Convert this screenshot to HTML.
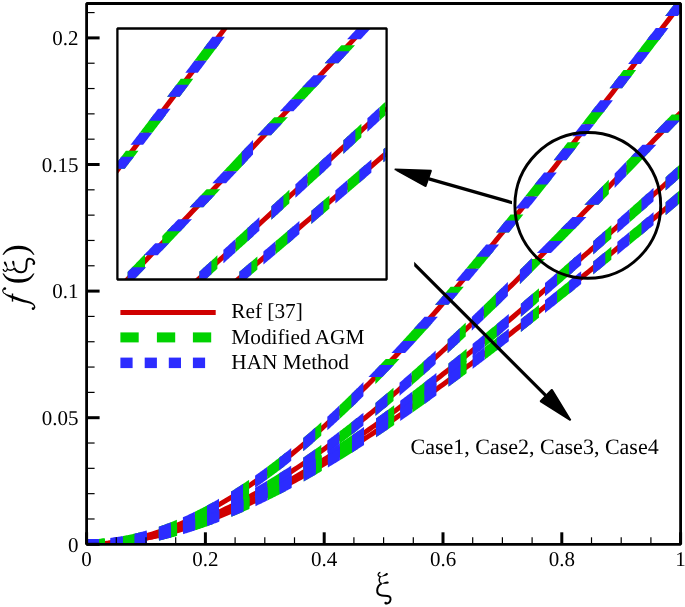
<!DOCTYPE html>
<html><head><meta charset="utf-8"><style>html,body{margin:0;padding:0;background:#fff;overflow:hidden;}svg{display:block;}</style></head>
<body>
<svg width="685" height="607" viewBox="0 0 685 607" text-rendering="geometricPrecision" style="will-change:transform">
<defs>
<clipPath id="cm"><rect x="86.6" y="3.5" width="594" height="540.8"/></clipPath>
<clipPath id="ci"><rect x="117.4" y="28.5" width="269.2" height="251"/></clipPath>
</defs>
<rect width="685" height="607" fill="#fff"/>
<g clip-path="url(#cm)">
<polyline points="86.6,544.3 89.57,544.28 92.54,544.21 95.51,544.1 98.48,543.95 101.45,543.76 104.42,543.52 107.4,543.24 110.37,542.91 113.34,542.55 116.31,542.14 119.28,541.7 122.25,541.21 125.22,540.68 128.19,540.11 131.16,539.5 134.13,538.85 137.1,538.16 140.07,537.43 143.04,536.67 146.01,535.86 148.99,535.01 151.96,534.13 154.93,533.21 157.9,532.25 160.87,531.25 163.84,530.22 166.81,529.15 169.78,528.04 172.75,526.9 175.72,525.72 178.69,524.5 181.66,523.25 184.63,521.96 187.61,520.64 190.58,519.28 193.55,517.89 196.52,516.46 199.49,515 202.46,513.51 205.43,511.98 208.4,510.42 211.37,508.82 214.34,507.19 217.31,505.53 220.28,503.84 223.25,502.12 226.22,500.36 229.2,498.57 232.17,496.76 235.14,494.91 238.11,493.03 241.08,491.12 244.05,489.17 247.02,487.2 249.99,485.2 252.96,483.17 255.93,481.11 258.9,479.02 261.87,476.91 264.84,474.76 267.82,472.59 270.79,470.38 273.76,468.15 276.73,465.9 279.7,463.61 282.67,461.3 285.64,458.96 288.61,456.6 291.58,454.21 294.55,451.79 297.52,449.35 300.49,446.88 303.46,444.39 306.43,441.87 309.41,439.33 312.38,436.76 315.35,434.17 318.32,431.55 321.29,428.91 324.26,426.25 327.23,423.56 330.2,420.85 333.17,418.12 336.14,415.37 339.11,412.59 342.08,409.79 345.05,406.97 348.03,404.13 351,401.26 353.97,398.38 356.94,395.47 359.91,392.55 362.88,389.6 365.85,386.63 368.82,383.65 371.79,380.64 374.76,377.61 377.73,374.57 380.7,371.5 383.67,368.42 386.65,365.32 389.62,362.2 392.59,359.06 395.56,355.91 398.53,352.73 401.5,349.54 404.47,346.34 407.44,343.11 410.41,339.87 413.38,336.61 416.35,333.34 419.32,330.05 422.29,326.74 425.26,323.42 428.24,320.09 431.21,316.73 434.18,313.37 437.15,309.99 440.12,306.59 443.09,303.18 446.06,299.76 449.03,296.32 452,292.87 454.97,289.41 457.94,285.93 460.91,282.44 463.88,278.94 466.86,275.43 469.83,271.9 472.8,268.36 475.77,264.81 478.74,261.25 481.71,257.68 484.68,254.1 487.65,250.5 490.62,246.9 493.59,243.28 496.56,239.66 499.53,236.02 502.5,232.38 505.47,228.72 508.45,225.06 511.42,221.39 514.39,217.7 517.36,214.01 520.33,210.32 523.3,206.61 526.27,202.89 529.24,199.17 532.21,195.44 535.18,191.71 538.15,187.96 541.12,184.21 544.09,180.45 547.07,176.69 550.04,172.92 553.01,169.14 555.98,165.36 558.95,161.57 561.92,157.78 564.89,153.98 567.86,150.18 570.83,146.37 573.8,142.55 576.77,138.74 579.74,134.92 582.71,131.09 585.68,127.26 588.66,123.43 591.63,119.59 594.6,115.75 597.57,111.91 600.54,108.07 603.51,104.22 606.48,100.37 609.45,96.52 612.42,92.66 615.39,88.81 618.36,84.95 621.33,81.1 624.3,77.24 627.28,73.38 630.25,69.52 633.22,65.65 636.19,61.79 639.16,57.93 642.13,54.07 645.1,50.21 648.07,46.35 651.04,42.49 654.01,38.63 656.98,34.77 659.95,30.92 662.92,27.06 665.89,23.21 668.87,19.36 671.84,15.51 674.81,11.66 677.78,7.81 680.6,4.16" fill="none" stroke="#d00000" stroke-width="5"/>
<polyline points="86.6,544.3 89.57,544.28 92.54,544.23 95.51,544.14 98.48,544.01 101.45,543.85 104.42,543.66 107.4,543.43 110.37,543.17 113.34,542.87 116.31,542.54 119.28,542.17 122.25,541.78 125.22,541.34 128.19,540.88 131.16,540.38 134.13,539.85 137.1,539.29 140.07,538.7 143.04,538.07 146.01,537.42 148.99,536.73 151.96,536.01 154.93,535.26 157.9,534.48 160.87,533.67 163.84,532.83 166.81,531.96 169.78,531.06 172.75,530.13 175.72,529.17 178.69,528.18 181.66,527.17 184.63,526.12 187.61,525.05 190.58,523.95 193.55,522.82 196.52,521.66 199.49,520.48 202.46,519.27 205.43,518.03 208.4,516.77 211.37,515.47 214.34,514.16 217.31,512.81 220.28,511.44 223.25,510.05 226.22,508.63 229.2,507.18 232.17,505.71 235.14,504.22 238.11,502.7 241.08,501.16 244.05,499.59 247.02,498 249.99,496.38 252.96,494.74 255.93,493.08 258.9,491.4 261.87,489.69 264.84,487.96 267.82,486.21 270.79,484.43 273.76,482.64 276.73,480.82 279.7,478.98 282.67,477.12 285.64,475.23 288.61,473.33 291.58,471.41 294.55,469.46 297.52,467.5 300.49,465.51 303.46,463.51 306.43,461.48 309.41,459.44 312.38,457.38 315.35,455.3 318.32,453.2 321.29,451.08 324.26,448.94 327.23,446.78 330.2,444.61 333.17,442.42 336.14,440.21 339.11,437.98 342.08,435.73 345.05,433.47 348.03,431.19 351,428.9 353.97,426.59 356.94,424.26 359.91,421.92 362.88,419.56 365.85,417.18 368.82,414.79 371.79,412.38 374.76,409.96 377.73,407.53 380.7,405.07 383.67,402.61 386.65,400.13 389.62,397.63 392.59,395.13 395.56,392.6 398.53,390.07 401.5,387.52 404.47,384.96 407.44,382.38 410.41,379.79 413.38,377.19 416.35,374.58 419.32,371.95 422.29,369.31 425.26,366.66 428.24,364 431.21,361.33 434.18,358.64 437.15,355.95 440.12,353.24 443.09,350.52 446.06,347.79 449.03,345.05 452,342.3 454.97,339.54 457.94,336.77 460.91,333.99 463.88,331.2 466.86,328.41 469.83,325.6 472.8,322.78 475.77,319.95 478.74,317.12 481.71,314.27 484.68,311.42 487.65,308.56 490.62,305.69 493.59,302.82 496.56,299.93 499.53,297.04 502.5,294.14 505.47,291.23 508.45,288.32 511.42,285.4 514.39,282.47 517.36,279.54 520.33,276.59 523.3,273.65 526.27,270.69 529.24,267.73 532.21,264.77 535.18,261.8 538.15,258.82 541.12,255.84 544.09,252.85 547.07,249.86 550.04,246.87 553.01,243.86 555.98,240.86 558.95,237.85 561.92,234.83 564.89,231.81 567.86,228.79 570.83,225.76 573.8,222.73 576.77,219.7 579.74,216.66 582.71,213.62 585.68,210.58 588.66,207.53 591.63,204.49 594.6,201.44 597.57,198.38 600.54,195.33 603.51,192.27 606.48,189.21 609.45,186.15 612.42,183.08 615.39,180.02 618.36,176.95 621.33,173.88 624.3,170.81 627.28,167.74 630.25,164.67 633.22,161.6 636.19,158.53 639.16,155.46 642.13,152.38 645.1,149.31 648.07,146.24 651.04,143.17 654.01,140.09 656.98,137.02 659.95,133.95 662.92,130.88 665.89,127.81 668.87,124.74 671.84,121.67 674.81,118.61 677.78,115.54 680.6,112.63" fill="none" stroke="#d00000" stroke-width="5"/>
<polyline points="86.6,544.3 89.57,544.28 92.54,544.23 95.51,544.15 98.48,544.04 101.45,543.89 104.42,543.71 107.4,543.51 110.37,543.27 113.34,542.99 116.31,542.69 119.28,542.36 122.25,542 125.22,541.6 128.19,541.18 131.16,540.73 134.13,540.25 137.1,539.74 140.07,539.2 143.04,538.63 146.01,538.04 148.99,537.41 151.96,536.76 154.93,536.09 157.9,535.38 160.87,534.65 163.84,533.89 166.81,533.1 169.78,532.29 172.75,531.45 175.72,530.59 178.69,529.7 181.66,528.78 184.63,527.84 187.61,526.88 190.58,525.89 193.55,524.88 196.52,523.84 199.49,522.78 202.46,521.69 205.43,520.58 208.4,519.45 211.37,518.3 214.34,517.12 217.31,515.92 220.28,514.7 223.25,513.45 226.22,512.18 229.2,510.89 232.17,509.58 235.14,508.25 238.11,506.9 241.08,505.53 244.05,504.13 247.02,502.72 249.99,501.29 252.96,499.83 255.93,498.36 258.9,496.86 261.87,495.35 264.84,493.82 267.82,492.27 270.79,490.7 273.76,489.11 276.73,487.5 279.7,485.88 282.67,484.23 285.64,482.57 288.61,480.9 291.58,479.2 294.55,477.49 297.52,475.76 300.49,474.01 303.46,472.25 306.43,470.47 309.41,468.67 312.38,466.86 315.35,465.04 318.32,463.19 321.29,461.34 324.26,459.46 327.23,457.57 330.2,455.67 333.17,453.75 336.14,451.82 339.11,449.87 342.08,447.91 345.05,445.94 348.03,443.95 351,441.95 353.97,439.93 356.94,437.9 359.91,435.86 362.88,433.81 365.85,431.74 368.82,429.66 371.79,427.57 374.76,425.46 377.73,423.35 380.7,421.22 383.67,419.08 386.65,416.93 389.62,414.77 392.59,412.59 395.56,410.41 398.53,408.21 401.5,406 404.47,403.79 407.44,401.56 410.41,399.32 413.38,397.07 416.35,394.82 419.32,392.55 422.29,390.27 425.26,387.99 428.24,385.69 431.21,383.39 434.18,381.07 437.15,378.75 440.12,376.42 443.09,374.08 446.06,371.73 449.03,369.37 452,367.01 454.97,364.64 457.94,362.26 460.91,359.87 463.88,357.47 466.86,355.07 469.83,352.66 472.8,350.24 475.77,347.82 478.74,345.38 481.71,342.95 484.68,340.5 487.65,338.05 490.62,335.59 493.59,333.13 496.56,330.66 499.53,328.19 502.5,325.7 505.47,323.22 508.45,320.72 511.42,318.23 514.39,315.72 517.36,313.21 520.33,310.7 523.3,308.18 526.27,305.66 529.24,303.13 532.21,300.6 535.18,298.06 538.15,295.52 541.12,292.98 544.09,290.43 547.07,287.87 550.04,285.31 553.01,282.75 555.98,280.19 558.95,277.62 561.92,275.05 564.89,272.47 567.86,269.89 570.83,267.31 573.8,264.73 576.77,262.14 579.74,259.55 582.71,256.96 585.68,254.36 588.66,251.76 591.63,249.16 594.6,246.56 597.57,243.95 600.54,241.34 603.51,238.74 606.48,236.12 609.45,233.51 612.42,230.9 615.39,228.28 618.36,225.66 621.33,223.04 624.3,220.42 627.28,217.8 630.25,215.17 633.22,212.55 636.19,209.92 639.16,207.29 642.13,204.67 645.1,202.04 648.07,199.41 651.04,196.78 654.01,194.15 656.98,191.52 659.95,188.88 662.92,186.25 665.89,183.62 668.87,180.99 671.84,178.35 674.81,175.72 677.78,173.09 680.6,170.59" fill="none" stroke="#d00000" stroke-width="5"/>
<polyline points="86.6,544.3 89.57,544.28 92.54,544.24 95.51,544.16 98.48,544.05 101.45,543.9 104.42,543.73 107.4,543.53 110.37,543.3 113.34,543.03 116.31,542.74 119.28,542.42 122.25,542.07 125.22,541.69 128.19,541.28 131.16,540.84 134.13,540.38 137.1,539.89 140.07,539.37 143.04,538.82 146.01,538.25 148.99,537.65 151.96,537.02 154.93,536.37 157.9,535.69 160.87,534.99 163.84,534.26 166.81,533.5 169.78,532.72 172.75,531.92 175.72,531.09 178.69,530.24 181.66,529.36 184.63,528.46 187.61,527.54 190.58,526.6 193.55,525.63 196.52,524.64 199.49,523.62 202.46,522.59 205.43,521.53 208.4,520.45 211.37,519.35 214.34,518.23 217.31,517.08 220.28,515.92 223.25,514.74 226.22,513.53 229.2,512.31 232.17,511.06 235.14,509.8 238.11,508.51 241.08,507.21 244.05,505.89 247.02,504.55 249.99,503.19 252.96,501.82 255.93,500.42 258.9,499.01 261.87,497.58 264.84,496.13 267.82,494.66 270.79,493.18 273.76,491.68 276.73,490.17 279.7,488.63 282.67,487.09 285.64,485.52 288.61,483.94 291.58,482.35 294.55,480.74 297.52,479.11 300.49,477.47 303.46,475.81 306.43,474.14 309.41,472.45 312.38,470.76 315.35,469.04 318.32,467.31 321.29,465.57 324.26,463.82 327.23,462.05 330.2,460.27 333.17,458.47 336.14,456.67 339.11,454.85 342.08,453.01 345.05,451.17 348.03,449.31 351,447.44 353.97,445.56 356.94,443.67 359.91,441.77 362.88,439.85 365.85,437.92 368.82,435.99 371.79,434.04 374.76,432.08 377.73,430.11 380.7,428.13 383.67,426.14 386.65,424.14 389.62,422.13 392.59,420.11 395.56,418.08 398.53,416.04 401.5,414 404.47,411.94 407.44,409.87 410.41,407.8 413.38,405.72 416.35,403.62 419.32,401.52 422.29,399.41 425.26,397.3 428.24,395.17 431.21,393.04 434.18,390.9 437.15,388.75 440.12,386.59 443.09,384.43 446.06,382.26 449.03,380.08 452,377.9 454.97,375.7 457.94,373.5 460.91,371.3 463.88,369.09 466.86,366.87 469.83,364.64 472.8,362.41 475.77,360.18 478.74,357.93 481.71,355.69 484.68,353.43 487.65,351.17 490.62,348.9 493.59,346.63 496.56,344.36 499.53,342.08 502.5,339.79 505.47,337.5 508.45,335.2 511.42,332.9 514.39,330.59 517.36,328.28 520.33,325.96 523.3,323.64 526.27,321.32 529.24,318.99 532.21,316.66 535.18,314.32 538.15,311.98 541.12,309.63 544.09,307.28 547.07,304.93 550.04,302.57 553.01,300.21 555.98,297.85 558.95,295.48 561.92,293.11 564.89,290.73 567.86,288.35 570.83,285.97 573.8,283.59 576.77,281.2 579.74,278.81 582.71,276.41 585.68,274.02 588.66,271.62 591.63,269.22 594.6,266.81 597.57,264.4 600.54,261.99 603.51,259.58 606.48,257.16 609.45,254.75 612.42,252.33 615.39,249.9 618.36,247.48 621.33,245.05 624.3,242.62 627.28,240.19 630.25,237.75 633.22,235.32 636.19,232.88 639.16,230.44 642.13,228 645.1,225.55 648.07,223.1 651.04,220.66 654.01,218.2 656.98,215.75 659.95,213.3 662.92,210.84 665.89,208.38 668.87,205.92 671.84,203.46 674.81,201 677.78,198.53 680.6,196.19" fill="none" stroke="#d00000" stroke-width="5"/>
<polygon points="86.6,539.3 87.19,539.3 87.79,539.3 88.38,539.29 88.98,539.29 89.57,539.28 90.16,539.27 90.76,539.26 91.35,539.24 91.95,539.23 92.54,539.21 93.14,539.19 93.73,539.17 94.32,539.15 94.92,539.12 95.51,539.1 96.11,539.07 96.7,539.04 97.29,539.01 97.89,538.98 98.48,538.94 99.08,538.91 99.67,538.87 100.27,538.83 100.86,538.79 101.45,538.74 102.05,538.7 102.64,538.65 103.24,538.6 103.83,538.55 104.42,538.5 104.65,538.48 104.65,548.52 104.42,548.54 103.83,548.59 103.24,548.63 102.64,548.68 102.05,548.73 101.45,548.77 100.86,548.81 100.27,548.85 99.67,548.89 99.08,548.92 98.48,548.96 97.89,548.99 97.29,549.02 96.7,549.05 96.11,549.08 95.51,549.11 94.92,549.13 94.32,549.16 93.73,549.18 93.14,549.2 92.54,549.21 91.95,549.23 91.35,549.25 90.76,549.26 90.16,549.27 89.57,549.28 88.98,549.29 88.38,549.29 87.79,549.3 87.19,549.3 86.6,549.3" fill="#00d200"/>
<polygon points="122.71,536.06 122.84,536.03 123.44,535.93 124.03,535.82 124.63,535.71 125.22,535.6 125.81,535.48 126.41,535.37 127,535.25 127.6,535.13 128.19,535.01 128.78,534.89 129.38,534.77 129.97,534.64 130.57,534.52 131.16,534.39 131.76,534.26 132.35,534.13 132.94,534 133.54,533.86 134.13,533.73 134.73,533.59 135.32,533.45 135.91,533.31 136.51,533.17 137.1,533.02 137.7,532.88 138.29,532.73 138.89,532.58 139.48,532.43 140.07,532.28 140.67,532.12 140.76,532.1 140.76,542.42 140.67,542.44 140.07,542.59 139.48,542.74 138.89,542.88 138.29,543.02 137.7,543.16 137.1,543.3 136.51,543.44 135.91,543.58 135.32,543.71 134.73,543.85 134.13,543.98 133.54,544.11 132.94,544.24 132.35,544.36 131.76,544.49 131.16,544.61 130.57,544.73 129.97,544.86 129.38,544.97 128.78,545.09 128.19,545.21 127.6,545.32 127,545.44 126.41,545.55 125.81,545.66 125.22,545.76 124.63,545.87 124.03,545.98 123.44,546.08 122.84,546.18 122.71,546.2" fill="#00d200"/>
<polygon points="158.82,526.68 159.09,526.58 159.68,526.38 160.27,526.18 160.87,525.97 161.46,525.76 162.06,525.55 162.65,525.34 163.25,525.13 163.84,524.91 164.43,524.7 165.03,524.48 165.62,524.26 166.22,524.04 166.81,523.82 167.4,523.6 168,523.38 168.59,523.15 169.19,522.92 169.78,522.69 170.37,522.46 170.97,522.23 171.56,522 172.16,521.76 172.75,521.53 173.35,521.29 173.94,521.05 174.53,520.81 175.13,520.57 175.72,520.32 176.32,520.08 176.87,519.85 176.87,530.65 176.32,530.87 175.72,531.11 175.13,531.34 174.53,531.57 173.94,531.81 173.35,532.04 172.75,532.27 172.16,532.49 171.56,532.72 170.97,532.94 170.37,533.17 169.78,533.39 169.19,533.61 168.59,533.83 168,534.04 167.4,534.26 166.81,534.47 166.22,534.69 165.62,534.9 165.03,535.11 164.43,535.32 163.84,535.52 163.25,535.73 162.65,535.93 162.06,536.14 161.46,536.34 160.87,536.54 160.27,536.74 159.68,536.93 159.09,537.13 158.82,537.22" fill="#00d200"/>
<polygon points="194.92,511.68 195.33,511.49 195.92,511.19 196.52,510.9 197.11,510.61 197.71,510.31 198.3,510.01 198.89,509.72 199.49,509.42 200.08,509.11 200.68,508.81 201.27,508.51 201.86,508.2 202.46,507.9 203.05,507.59 203.65,507.28 204.24,506.97 204.84,506.66 205.43,506.34 206.02,506.03 206.62,505.71 207.21,505.39 207.81,505.07 208.4,504.75 208.99,504.43 209.59,504.11 210.18,503.79 210.78,503.46 211.37,503.13 211.97,502.81 212.56,502.48 212.98,502.24 212.98,513.65 212.56,513.87 211.97,514.19 211.37,514.51 210.78,514.83 210.18,515.14 209.59,515.45 208.99,515.77 208.4,516.08 207.81,516.39 207.21,516.7 206.62,517 206.02,517.31 205.43,517.61 204.84,517.92 204.24,518.22 203.65,518.52 203.05,518.82 202.46,519.12 201.86,519.41 201.27,519.71 200.68,520 200.08,520.29 199.49,520.58 198.89,520.87 198.3,521.16 197.71,521.45 197.11,521.74 196.52,522.02 195.92,522.3 195.33,522.58 194.92,522.77" fill="#00d200"/>
<polygon points="231.03,491.59 231.57,491.25 232.17,490.88 232.76,490.51 233.35,490.13 233.95,489.76 234.54,489.38 235.14,489 235.73,488.62 236.33,488.24 236.92,487.86 237.51,487.48 238.11,487.09 238.7,486.71 239.3,486.32 239.89,485.94 240.48,485.55 241.08,485.16 241.67,484.76 242.27,484.37 242.86,483.98 243.46,483.58 244.05,483.19 244.64,482.79 245.24,482.39 245.83,481.99 246.43,481.59 247.02,481.19 247.61,480.78 248.21,480.38 248.8,479.97 249.09,479.78 249.09,491.85 248.8,492.04 248.21,492.43 247.61,492.82 247.02,493.22 246.43,493.61 245.83,494 245.24,494.39 244.64,494.77 244.05,495.16 243.46,495.55 242.86,495.93 242.27,496.31 241.67,496.69 241.08,497.07 240.48,497.45 239.89,497.83 239.3,498.21 238.7,498.58 238.11,498.96 237.51,499.33 236.92,499.7 236.33,500.07 235.73,500.44 235.14,500.81 234.54,501.18 233.95,501.54 233.35,501.91 232.76,502.27 232.17,502.63 231.57,502.99 231.03,503.32" fill="#00d200"/>
<polygon points="267.14,466.88 267.22,466.82 267.82,466.38 268.41,465.93 269,465.49 269.6,465.04 270.19,464.59 270.79,464.15 271.38,463.7 271.97,463.25 272.57,462.8 273.16,462.34 273.76,461.89 274.35,461.43 274.95,460.98 275.54,460.52 276.13,460.06 276.73,459.6 277.32,459.14 277.92,458.68 278.51,458.22 279.1,457.76 279.7,457.29 280.29,456.83 280.89,456.36 281.48,455.89 282.07,455.42 282.67,454.95 283.26,454.48 283.86,454.01 284.45,453.54 285.05,453.06 285.2,452.94 285.2,465.69 285.05,465.8 284.45,466.27 283.86,466.73 283.26,467.19 282.67,467.65 282.07,468.11 281.48,468.57 280.89,469.02 280.29,469.48 279.7,469.93 279.1,470.39 278.51,470.84 277.92,471.29 277.32,471.74 276.73,472.19 276.13,472.64 275.54,473.09 274.95,473.53 274.35,473.98 273.76,474.42 273.16,474.86 272.57,475.3 271.97,475.74 271.38,476.18 270.79,476.62 270.19,477.06 269.6,477.49 269,477.93 268.41,478.36 267.82,478.8 267.22,479.23 267.14,479.29" fill="#00d200"/>
<polygon points="303.25,438.03 303.46,437.85 304.06,437.34 304.65,436.83 305.25,436.32 305.84,435.81 306.43,435.3 307.03,434.79 307.62,434.28 308.22,433.76 308.81,433.25 309.41,432.73 310,432.22 310.59,431.7 311.19,431.18 311.78,430.66 312.38,430.14 312.97,429.62 313.56,429.09 314.16,428.57 314.75,428.05 315.35,427.52 315.94,426.99 316.54,426.47 317.13,425.94 317.72,425.41 318.32,424.88 318.91,424.35 319.51,423.81 320.1,423.28 320.69,422.75 321.29,422.21 321.3,422.2 321.3,435.6 321.29,435.61 320.69,436.14 320.1,436.66 319.51,437.19 318.91,437.71 318.32,438.23 317.72,438.75 317.13,439.27 316.54,439.78 315.94,440.3 315.35,440.82 314.75,441.33 314.16,441.85 313.56,442.36 312.97,442.87 312.38,443.38 311.78,443.89 311.19,444.4 310.59,444.91 310,445.42 309.41,445.92 308.81,446.43 308.22,446.93 307.62,447.43 307.03,447.94 306.43,448.44 305.84,448.94 305.25,449.44 304.65,449.94 304.06,450.43 303.46,450.93 303.25,451.11" fill="#00d200"/>
<polygon points="339.36,405.5 339.71,405.17 340.3,404.61 340.9,404.04 341.49,403.48 342.08,402.91 342.68,402.34 343.27,401.77 343.87,401.2 344.46,400.63 345.05,400.06 345.65,399.49 346.24,398.92 346.84,398.35 347.43,397.77 348.03,397.2 348.62,396.62 349.21,396.04 349.81,395.47 350.4,394.89 351,394.31 351.59,393.73 352.18,393.15 352.78,392.56 353.37,391.98 353.97,391.4 354.56,390.81 355.16,390.23 355.75,389.64 356.34,389.06 356.94,388.47 357.41,388 357.41,402.02 356.94,402.48 356.34,403.06 355.75,403.64 355.16,404.21 354.56,404.79 353.97,405.36 353.37,405.94 352.78,406.51 352.18,407.08 351.59,407.65 351,408.22 350.4,408.79 349.81,409.36 349.21,409.93 348.62,410.49 348.03,411.06 347.43,411.63 346.84,412.19 346.24,412.75 345.65,413.32 345.05,413.88 344.46,414.44 343.87,415 343.27,415.56 342.68,416.12 342.08,416.67 341.49,417.23 340.9,417.79 340.3,418.34 339.71,418.89 339.36,419.22" fill="#00d200"/>
<polygon points="375.35,369.86 375.36,369.85 375.95,369.24 376.54,368.63 370.16,375.18 370.76,374.57 371.36,373.96 371.96,373.35 372.55,372.73 373.15,372.12 373.75,371.5 374.35,370.89 374.95,370.27 375.54,369.66 376.14,369.04 376.74,368.42 377.34,367.8 377.94,367.18 378.54,366.56 379.13,365.94 379.73,365.32 380.33,364.7 380.93,364.07 381.53,363.45 382.12,362.83 382.72,362.2 383.32,361.57 383.92,360.95 384.51,360.32 385.11,359.69 385.71,359.06 385.8,358.96 399.56,358.96 399.46,359.06 398.87,359.69 398.28,360.32 397.69,360.95 397.1,361.57 396.51,362.2 395.92,362.83 395.33,363.45 394.74,364.07 394.15,364.7 393.56,365.32 392.97,365.94 392.38,366.56 391.79,367.18 391.2,367.8 390.61,368.42 390.02,369.04 389.43,369.66 388.84,370.27 388.25,370.89 387.66,371.5 387.07,372.12 386.48,372.73 385.89,373.35 385.3,373.96 384.71,374.57 384.12,375.18 376.54,382.95 375.95,383.56 375.36,384.16 375.35,384.17" fill="#00d200"/>
<polygon points="402.68,340.91 403.04,340.52 403.64,339.87 404.23,339.22 404.83,338.57 405.43,337.92 406.03,337.26 406.62,336.61 407.22,335.96 407.82,335.3 408.41,334.65 409.01,333.99 409.61,333.34 410.21,332.68 410.8,332.02 411.4,331.37 412,330.71 412.59,330.05 413.19,329.39 413.79,328.73 414.38,328.07 414.98,327.4 415.58,326.74 416.18,326.08 416.77,325.42 417.37,324.75 417.97,324.09 418.56,323.42 419.07,322.86 432.47,322.86 431.97,323.42 431.37,324.09 430.78,324.75 430.19,325.42 429.6,326.08 429.01,326.74 428.42,327.4 427.83,328.07 427.24,328.73 426.64,329.39 426.05,330.05 425.46,330.71 424.87,331.37 424.28,332.02 423.69,332.68 423.1,333.34 422.51,333.99 421.91,334.65 421.32,335.3 420.73,335.96 420.14,336.61 419.55,337.26 418.96,337.92 418.37,338.57 417.78,339.22 417.19,339.87 416.59,340.52 416.24,340.91" fill="#00d200"/>
<polygon points="435.05,304.8 435.27,304.55 435.87,303.87 436.46,303.18 437.06,302.5 437.66,301.82 438.25,301.13 438.85,300.45 439.45,299.76 440.04,299.07 440.64,298.39 441.23,297.7 441.83,297.01 442.43,296.32 443.02,295.63 443.62,294.94 444.22,294.25 444.81,293.56 445.41,292.87 446.01,292.18 446.6,291.49 447.2,290.8 447.79,290.1 448.39,289.41 448.99,288.71 449.58,288.02 450.18,287.32 450.67,286.75 463.82,286.75 463.33,287.32 462.74,288.02 462.15,288.71 461.55,289.41 460.96,290.1 460.37,290.8 459.78,291.49 459.19,292.18 458.59,292.87 458,293.56 457.41,294.25 456.82,294.94 456.23,295.63 455.63,296.32 455.04,297.01 454.45,297.7 453.86,298.39 453.27,299.07 452.67,299.76 452.08,300.45 451.49,301.13 450.9,301.82 450.31,302.5 449.72,303.18 449.12,303.87 448.53,304.55 448.31,304.8" fill="#00d200"/>
<polygon points="465.99,268.69 466.27,268.36 466.87,267.65 467.46,266.94 468.06,266.23 468.66,265.52 469.25,264.81 469.85,264.1 470.44,263.39 471.04,262.68 471.64,261.97 472.23,261.25 472.83,260.54 473.42,259.82 474.02,259.11 474.61,258.39 475.21,257.68 475.81,256.96 476.4,256.25 477,255.53 477.59,254.81 478.19,254.1 478.78,253.38 479.38,252.66 479.98,251.94 480.57,251.22 481.05,250.64 494.02,250.64 493.54,251.22 492.95,251.94 492.36,252.66 491.76,253.38 491.17,254.1 490.58,254.81 489.99,255.53 489.39,256.25 488.8,256.96 488.21,257.68 487.62,258.39 487.02,259.11 486.43,259.82 485.84,260.54 485.25,261.25 484.65,261.97 484.06,262.68 483.47,263.39 482.88,264.1 482.28,264.81 481.69,265.52 481.1,266.23 480.51,266.94 479.91,267.65 479.32,268.36 479.05,268.69" fill="#00d200"/>
<polygon points="495.89,232.58 496.06,232.38 496.65,231.65 497.25,230.92 497.84,230.18 498.44,229.45 499.03,228.72 499.63,227.99 500.23,227.26 500.82,226.52 501.42,225.79 502.01,225.06 502.61,224.32 503.2,223.59 503.8,222.86 504.39,222.12 504.99,221.39 505.58,220.65 506.18,219.91 506.77,219.18 507.37,218.44 507.97,217.7 508.56,216.97 509.16,216.23 509.75,215.49 510.35,214.75 510.53,214.53 523.36,214.53 523.18,214.75 522.59,215.49 521.99,216.23 521.4,216.97 520.81,217.7 520.22,218.44 519.62,219.18 519.03,219.91 518.44,220.65 517.84,221.39 517.25,222.12 516.66,222.86 516.07,223.59 515.47,224.32 514.88,225.06 514.29,225.79 513.69,226.52 513.1,227.26 512.51,227.99 511.92,228.72 511.32,229.45 510.73,230.18 510.14,230.92 509.54,231.65 508.95,232.38 508.78,232.58" fill="#00d200"/>
<polygon points="525,196.48 525.23,196.19 525.82,195.44 526.42,194.7 527.01,193.95 527.61,193.2 528.2,192.45 528.8,191.71 529.39,190.96 529.99,190.21 530.58,189.46 531.18,188.71 531.77,187.96 532.37,187.21 532.96,186.46 533.56,185.71 534.15,184.96 534.75,184.21 535.34,183.46 535.94,182.71 536.53,181.96 537.13,181.2 537.72,180.45 538.32,179.7 538.91,178.95 539.33,178.42 552.07,178.42 551.65,178.95 551.06,179.7 550.47,180.45 549.87,181.2 549.28,181.96 548.69,182.71 548.09,183.46 547.5,184.21 546.91,184.96 546.31,185.71 545.72,186.46 545.13,187.21 544.53,187.96 543.94,188.71 543.35,189.46 542.75,190.21 542.16,190.96 541.57,191.71 540.97,192.45 540.38,193.2 539.79,193.95 539.19,194.7 538.6,195.44 538.01,196.19 537.78,196.48" fill="#00d200"/>
<polygon points="553.54,160.37 553.79,160.05 554.38,159.3 554.97,158.54 555.57,157.78 556.16,157.02 556.76,156.26 557.35,155.5 557.95,154.74 558.54,153.98 559.14,153.22 559.73,152.46 560.33,151.7 560.92,150.94 561.52,150.18 562.11,149.41 562.71,148.65 563.3,147.89 563.9,147.13 564.49,146.37 565.09,145.6 565.68,144.84 566.28,144.08 566.87,143.32 567.46,142.55 567.65,142.31 580.33,142.31 580.14,142.55 579.55,143.32 578.95,144.08 578.36,144.84 577.76,145.6 577.17,146.37 576.58,147.13 575.98,147.89 575.39,148.65 574.8,149.41 574.2,150.18 573.61,150.94 573.02,151.7 572.42,152.46 571.83,153.22 571.24,153.98 570.64,154.74 570.05,155.5 569.45,156.26 568.86,157.02 568.27,157.78 567.67,158.54 567.08,159.3 566.49,160.05 566.24,160.37" fill="#00d200"/>
<polygon points="581.69,124.26 581.74,124.2 582.33,123.43 582.92,122.66 583.52,121.89 584.11,121.13 584.71,120.36 585.3,119.59 585.9,118.82 586.49,118.06 587.09,117.29 587.68,116.52 588.28,115.75 588.87,114.99 589.46,114.22 590.06,113.45 590.65,112.68 591.25,111.91 591.84,111.14 592.44,110.37 593.03,109.6 593.63,108.84 594.22,108.07 594.82,107.3 595.41,106.53 595.66,106.21 608.29,106.21 608.04,106.53 607.45,107.3 606.86,108.07 606.26,108.84 605.67,109.6 605.07,110.37 604.48,111.14 603.89,111.91 603.29,112.68 602.7,113.45 602.11,114.22 601.51,114.99 600.92,115.75 600.32,116.52 599.73,117.29 599.14,118.06 598.54,118.82 597.95,119.59 597.36,120.36 596.76,121.13 596.17,121.89 595.57,122.66 594.98,123.43 594.39,124.2 594.34,124.26" fill="#00d200"/>
<polygon points="609.59,88.15 609.67,88.04 610.27,87.27 610.86,86.5 611.46,85.72 612.05,84.95 612.65,84.18 613.24,83.41 613.83,82.64 614.43,81.87 615.02,81.1 615.62,80.32 616.21,79.55 616.81,78.78 617.4,78.01 617.99,77.24 618.59,76.46 619.18,75.69 619.78,74.92 620.37,74.15 620.97,73.38 621.56,72.6 622.15,71.83 622.75,71.06 623.34,70.29 623.49,70.1 636.11,70.1 635.96,70.29 635.37,71.06 634.77,71.83 634.18,72.6 633.58,73.38 632.99,74.15 632.4,74.92 631.8,75.69 631.21,76.46 630.61,77.24 630.02,78.01 629.43,78.78 628.83,79.55 628.24,80.32 627.64,81.1 627.05,81.87 626.46,82.64 625.86,83.41 625.27,84.18 624.67,84.95 624.08,85.72 623.49,86.5 622.89,87.27 622.3,88.04 622.21,88.15" fill="#00d200"/>
<polygon points="637.38,52.04 637.6,51.75 638.2,50.98 638.79,50.21 639.38,49.44 639.98,48.66 640.57,47.89 641.17,47.12 641.76,46.35 642.36,45.58 642.95,44.8 643.54,44.03 644.14,43.26 644.73,42.49 645.33,41.72 645.92,40.94 646.51,40.17 647.11,39.4 647.7,38.63 648.3,37.86 648.89,37.09 649.48,36.31 650.08,35.54 650.67,34.77 651.27,34 651.27,33.99 663.9,33.99 663.89,34 663.29,34.77 662.7,35.54 662.11,36.31 661.51,37.09 660.92,37.86 660.32,38.63 659.73,39.4 659.13,40.17 658.54,40.94 657.95,41.72 657.35,42.49 656.76,43.26 656.16,44.03 655.57,44.8 654.97,45.58 654.38,46.35 653.79,47.12 653.19,47.89 652.6,48.66 652,49.44 651.41,50.21 650.81,50.98 650.22,51.75 650,52.04" fill="#00d200"/>
<polygon points="665.19,15.93 665.52,15.51 666.11,14.74 666.71,13.97 667.3,13.2 667.9,12.43 668.49,11.66 669.08,10.89 669.68,10.12 670.27,9.35 670.86,8.58 671.46,7.81 672.05,7.05 672.65,6.28 673.24,5.51 673.83,4.74 686.48,4.74 685.88,5.51 685.29,6.28 684.69,7.05 684.1,7.81 683.5,8.58 682.91,9.35 682.31,10.12 681.72,10.89 681.13,11.66 680.53,12.43 679.94,13.2 679.34,13.97 678.75,14.74 678.15,15.51 677.82,15.93" fill="#00d200"/>
<polygon points="86.6,539.3 87.19,539.3 87.79,539.3 88.38,539.29 88.98,539.29 89.57,539.28 90.16,539.27 90.76,539.26 91.35,539.25 91.95,539.24 92.54,539.23 93.14,539.21 93.73,539.19 94.32,539.18 94.92,539.16 95.51,539.14 96.11,539.11 96.7,539.09 97.29,539.06 97.89,539.04 98.48,539.01 99.08,538.98 99.67,538.95 100.27,538.92 100.86,538.88 101.45,538.85 102.05,538.81 102.64,538.77 103.24,538.73 103.83,538.69 104.42,538.65 104.65,538.63 104.65,548.66 104.42,548.67 103.83,548.71 103.24,548.75 102.64,548.79 102.05,548.83 101.45,548.86 100.86,548.9 100.27,548.93 99.67,548.96 99.08,548.99 98.48,549.02 97.89,549.05 97.29,549.07 96.7,549.1 96.11,549.12 95.51,549.14 94.92,549.16 94.32,549.18 93.73,549.2 93.14,549.22 92.54,549.23 91.95,549.24 91.35,549.25 90.76,549.27 90.16,549.27 89.57,549.28 88.98,549.29 88.38,549.29 87.79,549.3 87.19,549.3 86.6,549.3" fill="#00d200"/>
<polygon points="122.71,536.66 122.84,536.64 123.44,536.56 124.03,536.47 124.63,536.38 125.22,536.29 125.81,536.2 126.41,536.1 127,536.01 127.6,535.91 128.19,535.82 128.78,535.72 129.38,535.62 129.97,535.52 130.57,535.41 131.16,535.31 131.76,535.2 132.35,535.1 132.94,534.99 133.54,534.88 134.13,534.77 134.73,534.66 135.32,534.55 135.91,534.43 136.51,534.32 137.1,534.2 137.7,534.08 138.29,533.96 138.89,533.84 139.48,533.72 140.07,533.6 140.67,533.47 140.76,533.45 140.76,543.66 140.67,543.68 140.07,543.8 139.48,543.92 138.89,544.04 138.29,544.16 137.7,544.27 137.1,544.39 136.51,544.5 135.91,544.61 135.32,544.72 134.73,544.83 134.13,544.94 133.54,545.04 132.94,545.15 132.35,545.25 131.76,545.36 131.16,545.46 130.57,545.56 129.97,545.66 129.38,545.75 128.78,545.85 128.19,545.95 127.6,546.04 127,546.13 126.41,546.22 125.81,546.31 125.22,546.4 124.63,546.49 124.03,546.57 123.44,546.66 122.84,546.74 122.71,546.76" fill="#00d200"/>
<polygon points="158.82,529.05 159.09,528.98 159.68,528.81 160.27,528.65 160.87,528.48 161.46,528.31 162.06,528.14 162.65,527.97 163.25,527.8 163.84,527.63 164.43,527.45 165.03,527.28 165.62,527.1 166.22,526.92 166.81,526.74 167.4,526.56 168,526.38 168.59,526.2 169.19,526.01 169.78,525.83 170.37,525.64 170.97,525.45 171.56,525.26 172.16,525.07 172.75,524.88 173.35,524.69 173.94,524.5 174.53,524.3 175.13,524.11 175.72,523.91 176.32,523.71 176.87,523.52 176.87,534.06 176.32,534.24 175.72,534.43 175.13,534.62 174.53,534.81 173.94,535 173.35,535.19 172.75,535.38 172.16,535.56 171.56,535.75 170.97,535.93 170.37,536.11 169.78,536.29 169.19,536.47 168.59,536.65 168,536.83 167.4,537 166.81,537.18 166.22,537.35 165.62,537.52 165.03,537.69 164.43,537.86 163.84,538.03 163.25,538.2 162.65,538.37 162.06,538.53 161.46,538.7 160.87,538.86 160.27,539.02 159.68,539.18 159.09,539.34 158.82,539.41" fill="#00d200"/>
<polygon points="194.92,516.92 195.33,516.76 195.92,516.53 196.52,516.29 197.11,516.05 197.71,515.81 198.3,515.57 198.89,515.33 199.49,515.09 200.08,514.84 200.68,514.6 201.27,514.35 201.86,514.11 202.46,513.86 203.05,513.61 203.65,513.36 204.24,513.11 204.84,512.86 205.43,512.6 206.02,512.35 206.62,512.09 207.21,511.84 207.81,511.58 208.4,511.32 208.99,511.06 209.59,510.8 210.18,510.54 210.78,510.28 211.37,510.01 211.97,509.75 212.56,509.48 212.98,509.29 212.98,520.23 212.56,520.42 211.97,520.68 211.37,520.93 210.78,521.19 210.18,521.45 209.59,521.7 208.99,521.96 208.4,522.21 207.81,522.46 207.21,522.71 206.62,522.96 206.02,523.21 205.43,523.46 204.84,523.7 204.24,523.95 203.65,524.19 203.05,524.43 202.46,524.68 201.86,524.92 201.27,525.16 200.68,525.4 200.08,525.63 199.49,525.87 198.89,526.11 198.3,526.34 197.71,526.57 197.11,526.81 196.52,527.04 195.92,527.27 195.33,527.5 194.92,527.65" fill="#00d200"/>
<polygon points="231.03,500.7 231.57,500.43 232.17,500.13 232.76,499.83 233.35,499.52 233.95,499.22 234.54,498.92 235.14,498.61 235.73,498.31 236.33,498 236.92,497.69 237.51,497.38 238.11,497.07 238.7,496.76 239.3,496.45 239.89,496.14 240.48,495.83 241.08,495.51 241.67,495.2 242.27,494.88 242.86,494.56 243.46,494.25 244.05,493.93 244.64,493.61 245.24,493.28 245.83,492.96 246.43,492.64 247.02,492.32 247.61,491.99 248.21,491.66 248.8,491.34 249.09,491.18 249.09,502.57 248.8,502.72 248.21,503.04 247.61,503.36 247.02,503.68 246.43,504 245.83,504.31 245.24,504.63 244.64,504.94 244.05,505.25 243.46,505.56 242.86,505.87 242.27,506.18 241.67,506.49 241.08,506.8 240.48,507.11 239.89,507.41 239.3,507.72 238.7,508.02 238.11,508.33 237.51,508.63 236.92,508.93 236.33,509.23 235.73,509.53 235.14,509.83 234.54,510.12 233.95,510.42 233.35,510.71 232.76,511.01 232.17,511.3 231.57,511.59 231.03,511.86" fill="#00d200"/>
<polygon points="267.14,480.8 267.22,480.75 267.82,480.39 268.41,480.04 269,479.68 269.6,479.32 270.19,478.96 270.79,478.6 271.38,478.24 271.97,477.87 272.57,477.51 273.16,477.15 273.76,476.78 274.35,476.42 274.95,476.05 275.54,475.68 276.13,475.31 276.73,474.95 277.32,474.58 277.92,474.2 278.51,473.83 279.1,473.46 279.7,473.09 280.29,472.71 280.89,472.34 281.48,471.96 282.07,471.58 282.67,471.21 283.26,470.83 283.86,470.45 284.45,470.07 285.05,469.69 285.2,469.59 285.2,481.44 285.05,481.54 284.45,481.91 283.86,482.28 283.26,482.66 282.67,483.03 282.07,483.4 281.48,483.77 280.89,484.13 280.29,484.5 279.7,484.87 279.1,485.23 278.51,485.6 277.92,485.96 277.32,486.33 276.73,486.69 276.13,487.05 275.54,487.41 274.95,487.77 274.35,488.13 273.76,488.49 273.16,488.85 272.57,489.2 271.97,489.56 271.38,489.91 270.79,490.27 270.19,490.62 269.6,490.97 269,491.32 268.41,491.67 267.82,492.02 267.22,492.37 267.14,492.42" fill="#00d200"/>
<polygon points="303.25,457.61 303.46,457.47 304.06,457.06 304.65,456.65 305.25,456.24 305.84,455.84 306.43,455.43 307.03,455.01 307.62,454.6 308.22,454.19 308.81,453.78 309.41,453.36 310,452.95 310.59,452.53 311.19,452.12 311.78,451.7 312.38,451.28 312.97,450.86 313.56,450.44 314.16,450.02 314.75,449.6 315.35,449.18 315.94,448.76 316.54,448.34 317.13,447.91 317.72,447.49 318.32,447.06 318.91,446.64 319.51,446.21 320.1,445.78 320.69,445.35 321.29,444.93 321.3,444.91 321.3,457.22 321.29,457.23 320.69,457.65 320.1,458.07 319.51,458.49 318.91,458.91 318.32,459.33 317.72,459.75 317.13,460.16 316.54,460.58 315.94,461 315.35,461.41 314.75,461.83 314.16,462.24 313.56,462.65 312.97,463.06 312.38,463.47 311.78,463.89 311.19,464.29 310.59,464.7 310,465.11 309.41,465.52 308.81,465.93 308.22,466.33 307.62,466.74 307.03,467.14 306.43,467.54 305.84,467.95 305.25,468.35 304.65,468.75 304.06,469.15 303.46,469.55 303.25,469.69" fill="#00d200"/>
<polygon points="339.36,431.53 339.71,431.27 340.3,430.82 340.9,430.37 341.49,429.91 342.08,429.46 342.68,429 343.27,428.55 343.87,428.09 344.46,427.64 345.05,427.18 345.65,426.72 346.24,426.26 346.84,425.8 347.43,425.35 348.03,424.88 348.62,424.42 349.21,423.96 349.81,423.5 350.4,423.04 351,422.57 351.59,422.11 352.18,421.64 352.78,421.18 353.37,420.71 353.97,420.24 354.56,419.78 355.16,419.31 355.75,418.84 356.34,418.37 356.94,417.9 357.41,417.52 357.41,430.25 356.94,430.62 356.34,431.08 355.75,431.55 355.16,432.01 354.56,432.47 353.97,432.93 353.37,433.39 352.78,433.85 352.18,434.31 351.59,434.77 351,435.23 350.4,435.68 349.81,436.14 349.21,436.6 348.62,437.05 348.03,437.5 347.43,437.96 346.84,438.41 346.24,438.86 345.65,439.31 345.05,439.77 344.46,440.22 343.87,440.67 343.27,441.11 342.68,441.56 342.08,442.01 341.49,442.46 340.9,442.9 340.3,443.35 339.71,443.79 339.36,444.05" fill="#00d200"/>
<polygon points="375.47,402.92 375.95,402.52 376.54,402.03 377.14,401.54 377.73,401.05 378.33,400.56 378.92,400.07 379.52,399.57 380.11,399.08 380.7,398.58 381.3,398.09 381.89,397.59 382.49,397.1 383.08,396.6 383.67,396.1 384.27,395.6 384.86,395.11 385.46,394.61 386.05,394.11 386.65,393.61 387.24,393.11 387.83,392.61 388.43,392.1 389.02,391.6 389.62,391.1 390.21,390.59 390.8,390.09 391.4,389.59 391.99,389.08 392.59,388.57 393.18,388.07 393.52,387.78 393.52,400.89 393.18,401.18 392.59,401.68 391.99,402.18 391.4,402.68 390.8,403.17 390.21,403.67 389.62,404.17 389.02,404.67 388.43,405.16 387.83,405.66 387.24,406.15 386.65,406.65 386.05,407.14 385.46,407.64 384.86,408.13 384.27,408.62 383.67,409.11 383.08,409.61 382.49,410.1 381.89,410.59 381.3,411.08 380.7,411.56 380.11,412.05 379.52,412.54 378.92,413.03 378.33,413.51 377.73,414 377.14,414.49 376.54,414.97 375.95,415.45 375.47,415.85" fill="#00d200"/>
<polygon points="411.57,372.13 411.6,372.11 412.19,371.59 412.79,371.06 413.38,370.54 413.98,370.01 414.57,369.49 415.16,368.96 415.76,368.44 416.35,367.91 416.95,367.38 417.54,366.86 418.13,366.33 418.73,365.8 419.32,365.27 419.92,364.74 420.51,364.21 421.11,363.68 421.7,363.15 422.29,362.62 422.89,362.09 423.48,361.56 424.08,361.02 424.67,360.49 425.26,359.96 425.86,359.42 426.45,358.89 427.05,358.35 427.64,357.82 428.24,357.28 428.83,356.75 429.42,356.21 429.63,356.02 429.63,369.48 429.42,369.66 428.83,370.19 428.24,370.72 427.64,371.25 427.05,371.78 426.45,372.31 425.86,372.84 425.26,373.37 424.67,373.9 424.08,374.43 423.48,374.95 422.89,375.48 422.29,376.01 421.7,376.53 421.11,377.06 420.51,377.58 419.92,378.11 419.32,378.63 418.73,379.16 418.13,379.68 417.54,380.2 416.95,380.72 416.35,381.24 415.76,381.77 415.16,382.29 414.57,382.81 413.98,383.33 413.38,383.84 412.79,384.36 412.19,384.88 411.6,385.4 411.57,385.42" fill="#00d200"/>
<polygon points="447.68,339.5 447.84,339.35 448.44,338.8 449.03,338.25 449.62,337.69 450.22,337.14 450.81,336.59 451.41,336.04 452,335.48 452.6,334.93 453.19,334.38 453.78,333.82 454.38,333.27 454.97,332.71 455.57,332.16 456.16,331.6 456.75,331.05 457.35,330.49 457.94,329.93 458.54,329.37 459.13,328.82 459.73,328.26 460.32,327.7 460.91,327.14 461.51,326.58 462.1,326.02 462.7,325.46 463.29,324.9 463.88,324.34 464.48,323.78 465.07,323.22 465.67,322.66 465.74,322.59 465.74,336.33 465.67,336.4 465.07,336.95 464.48,337.51 463.88,338.07 463.29,338.63 462.7,339.18 462.1,339.74 461.51,340.29 460.91,340.85 460.32,341.4 459.73,341.96 459.13,342.51 458.54,343.06 457.94,343.62 457.35,344.17 456.75,344.72 456.16,345.27 455.57,345.82 454.97,346.37 454.38,346.92 453.78,347.47 453.19,348.02 452.6,348.57 452,349.12 451.41,349.67 450.81,350.22 450.22,350.77 449.62,351.31 449.03,351.86 448.44,352.41 447.84,352.95 447.68,353.1" fill="#00d200"/>
<polygon points="483.79,305.34 484.09,305.06 484.68,304.49 485.27,303.91 485.87,303.34 486.46,302.76 487.06,302.19 487.65,301.62 488.24,301.04 488.84,300.46 489.43,299.89 490.03,299.31 490.62,298.74 491.22,298.16 491.81,297.58 492.4,297.01 493,296.43 493.59,295.85 494.19,295.27 494.78,294.69 495.37,294.12 495.97,293.54 496.56,292.96 497.16,292.38 497.75,291.8 498.34,291.22 498.94,290.64 499.53,290.06 500.13,289.48 500.72,288.89 501.32,288.31 501.85,287.79 501.85,301.77 501.32,302.29 500.72,302.87 500.13,303.44 499.53,304.02 498.94,304.6 498.34,305.18 497.75,305.75 497.16,306.33 496.56,306.9 495.97,307.48 495.37,308.06 494.78,308.63 494.19,309.21 493.59,309.78 493,310.35 492.4,310.93 491.81,311.5 491.22,312.07 490.62,312.65 490.03,313.22 489.43,313.79 488.84,314.36 488.24,314.94 487.65,315.51 487.06,316.08 486.46,316.65 485.87,317.22 485.27,317.79 484.68,318.36 484.09,318.93 483.79,319.21" fill="#00d200"/>
<polygon points="519.9,269.98 520.33,269.55 520.92,268.96 521.52,268.37 522.11,267.78 522.71,267.19 523.3,266.6 523.89,266.01 524.49,265.42 525.08,264.82 525.68,264.23 526.27,263.64 526.86,263.05 527.46,262.45 528.05,261.86 528.65,261.27 529.24,260.67 529.83,260.08 530.43,259.49 531.02,258.89 531.62,258.3 525.14,264.77 525.73,264.18 526.33,263.58 526.92,262.99 527.52,262.39 528.11,261.8 528.71,261.2 529.31,260.61 529.9,260.01 530.5,259.42 530.89,259.03 545.01,259.03 544.62,259.42 544.03,260.01 543.44,260.61 542.84,261.2 542.25,261.8 541.66,262.39 541.06,262.99 540.47,263.58 539.88,264.18 539.29,264.77 531.62,272.43 531.02,273.02 530.43,273.61 529.83,274.2 529.24,274.8 528.65,275.39 528.05,275.98 527.46,276.57 526.86,277.16 526.27,277.75 525.68,278.34 525.08,278.93 524.49,279.52 523.89,280.11 523.3,280.69 522.71,281.28 522.11,281.87 521.52,282.46 520.92,283.05 520.33,283.63 519.9,284.06" fill="#00d200"/>
<polygon points="548.84,240.97 548.95,240.86 549.55,240.26 550.14,239.65 550.74,239.05 551.33,238.45 551.93,237.85 552.52,237.24 553.12,236.64 553.71,236.04 554.31,235.44 554.9,234.83 555.5,234.23 556.09,233.63 556.69,233.02 557.28,232.42 557.88,231.81 558.47,231.21 559.07,230.61 559.66,230 560.26,229.4 560.85,228.79 561.45,228.19 562.04,227.58 562.64,226.98 563.23,226.37 563.83,225.76 564.42,225.16 565.02,224.55 565.61,223.95 566.21,223.34 566.62,222.92 580.62,222.92 580.21,223.34 579.62,223.95 579.02,224.55 578.43,225.16 577.84,225.76 577.24,226.37 576.65,226.98 576.06,227.58 575.46,228.19 574.87,228.79 574.28,229.4 573.68,230 573.09,230.61 572.5,231.21 571.9,231.81 571.31,232.42 570.72,233.02 570.12,233.63 569.53,234.23 568.94,234.83 568.34,235.44 567.75,236.04 567.16,236.64 566.56,237.24 565.97,237.85 565.38,238.45 564.78,239.05 564.19,239.65 563.6,240.26 563,240.86 562.89,240.97" fill="#00d200"/>
<polygon points="584.28,204.86 584.65,204.49 585.24,203.88 585.84,203.27 586.43,202.66 587.03,202.05 587.62,201.44 588.21,200.82 588.81,200.21 589.4,199.6 590,198.99 597.57,191.21 598.16,190.6 598.76,189.99 599.35,189.37 599.94,188.76 600.54,188.15 601.13,187.54 601.73,186.93 602.32,186.31 602.92,185.7 603.51,185.09 604.1,184.48 604.7,183.87 605.29,183.25 605.89,182.64 606.48,182.03 607.07,181.42 607.67,180.8 608.26,180.19 608.81,179.63 608.81,193.99 608.26,194.55 607.67,195.16 607.07,195.77 606.48,196.39 605.89,197 605.29,197.61 604.7,198.22 604.1,198.83 603.51,199.44 602.92,200.06 602.32,200.67 601.73,201.28 601.13,201.89 600.54,202.5 599.94,203.11 599.35,203.72 598.76,204.33 598.16,204.94 597.57,205.55 603.95,198.99 603.35,199.6 602.76,200.21 602.17,200.82 601.57,201.44 600.98,202.05 600.39,202.66 599.79,203.27 599.2,203.88 598.61,204.49 598.24,204.86" fill="#00d200"/>
<polygon points="626.3,161.57 626.68,161.17 627.28,160.55 627.87,159.94 628.46,159.32 629.06,158.71 629.65,158.1 623.29,164.67 623.88,164.06 624.48,163.44 625.07,162.83 625.67,162.22 626.26,161.6 626.86,160.99 627.45,160.37 628.04,159.76 628.64,159.14 629.23,158.53 629.83,157.92 630.42,157.3 631.01,156.69 631.61,156.07 632.2,155.46 632.8,154.84 633.39,154.23 633.99,153.61 634.58,153 635.17,152.38 635.77,151.77 636.36,151.16 636.8,150.7 650.71,150.7 650.27,151.16 649.68,151.77 649.08,152.38 648.49,153 647.9,153.61 647.3,154.23 646.71,154.84 646.11,155.46 645.52,156.07 644.92,156.69 644.33,157.3 643.74,157.92 643.14,158.53 642.55,159.14 641.95,159.76 641.36,160.37 640.77,160.99 640.17,161.6 639.58,162.22 638.98,162.83 638.39,163.44 637.8,164.06 637.2,164.67 629.65,172.48 629.06,173.09 628.46,173.71 627.87,174.32 627.28,174.93 626.68,175.55 626.3,175.95" fill="#00d200"/>
<polygon points="654.26,132.65 654.78,132.11 655.37,131.49 655.97,130.88 656.56,130.27 657.15,129.65 657.75,129.04 658.34,128.42 658.94,127.81 659.53,127.2 660.12,126.58 660.72,125.97 661.31,125.36 661.91,124.74 662.5,124.13 663.09,123.51 663.69,122.9 664.28,122.29 664.88,121.67 665.47,121.06 666.06,120.45 666.66,119.83 667.25,119.22 667.84,118.61 668.44,117.99 669.03,117.38 669.63,116.77 670.22,116.16 670.81,115.54 671.41,114.93 671.73,114.59 685.66,114.59 685.34,114.93 684.74,115.54 684.15,116.16 683.55,116.77 682.96,117.38 682.36,117.99 681.77,118.61 681.17,119.22 680.58,119.83 679.99,120.45 679.39,121.06 678.8,121.67 678.2,122.29 677.61,122.9 677.01,123.51 676.42,124.13 675.83,124.74 675.23,125.36 674.64,125.97 674.04,126.58 673.45,127.2 672.85,127.81 672.26,128.42 671.66,129.04 671.07,129.65 670.48,130.27 669.88,130.88 669.29,131.49 668.69,132.11 668.17,132.65" fill="#00d200"/>
<polygon points="86.6,539.3 87.19,539.3 87.79,539.3 88.38,539.29 88.98,539.29 89.57,539.28 90.16,539.28 90.76,539.27 91.35,539.26 91.95,539.25 92.54,539.23 93.14,539.22 93.73,539.2 94.32,539.19 94.92,539.17 95.51,539.15 96.11,539.13 96.7,539.11 97.29,539.08 97.89,539.06 98.48,539.03 99.08,539.01 99.67,538.98 100.27,538.95 100.86,538.92 101.45,538.89 102.05,538.85 102.64,538.82 103.24,538.78 103.83,538.74 104.42,538.7 104.69,538.69 104.69,548.71 104.42,548.73 103.83,548.76 103.24,548.8 102.64,548.83 102.05,548.87 101.45,548.9 100.86,548.93 100.27,548.96 99.67,548.99 99.08,549.02 98.48,549.04 97.89,549.07 97.29,549.09 96.7,549.11 96.11,549.14 95.51,549.16 94.92,549.17 94.32,549.19 93.73,549.21 93.14,549.22 92.54,549.24 91.95,549.25 91.35,549.26 90.76,549.27 90.16,549.28 89.57,549.28 88.98,549.29 88.38,549.29 87.79,549.3 87.19,549.3 86.6,549.3" fill="#00d200"/>
<polygon points="122.79,536.89 122.84,536.88 123.44,536.8 124.03,536.72 124.63,536.64 125.22,536.56 125.81,536.47 126.41,536.39 127,536.3 127.6,536.22 128.19,536.13 128.78,536.04 129.38,535.95 129.97,535.86 130.57,535.76 131.16,535.67 131.76,535.57 132.35,535.48 132.94,535.38 133.54,535.28 134.13,535.18 134.73,535.08 135.32,534.98 135.91,534.87 136.51,534.77 137.1,534.66 137.7,534.55 138.29,534.45 138.89,534.34 139.48,534.23 140.07,534.11 140.67,534 140.88,533.96 140.88,544.14 140.67,544.18 140.07,544.29 139.48,544.39 138.89,544.5 138.29,544.61 137.7,544.71 137.1,544.82 136.51,544.92 135.91,545.02 135.32,545.12 134.73,545.22 134.13,545.32 133.54,545.41 132.94,545.51 132.35,545.6 131.76,545.7 131.16,545.79 130.57,545.88 129.97,545.97 129.38,546.06 128.78,546.15 128.19,546.24 127.6,546.32 127,546.4 126.41,546.49 125.81,546.57 125.22,546.65 124.63,546.73 124.03,546.81 123.44,546.89 122.84,546.96 122.79,546.97" fill="#00d200"/>
<polygon points="158.98,529.97 159.09,529.94 159.68,529.79 160.27,529.64 160.87,529.49 161.46,529.34 162.06,529.19 162.65,529.03 163.25,528.88 163.84,528.72 164.43,528.56 165.03,528.41 165.62,528.25 166.22,528.09 166.81,527.92 167.4,527.76 168,527.6 168.59,527.43 169.19,527.27 169.78,527.1 170.37,526.93 170.97,526.76 171.56,526.59 172.16,526.42 172.75,526.25 173.35,526.08 173.94,525.9 174.53,525.73 175.13,525.55 175.72,525.38 176.32,525.2 176.91,525.02 177.07,524.97 177.07,535.41 176.91,535.45 176.32,535.63 175.72,535.8 175.13,535.97 174.53,536.15 173.94,536.32 173.35,536.49 172.75,536.65 172.16,536.82 171.56,536.99 170.97,537.15 170.37,537.32 169.78,537.48 169.19,537.64 168.59,537.8 168,537.96 167.4,538.12 166.81,538.28 166.22,538.44 165.62,538.59 165.03,538.75 164.43,538.9 163.84,539.05 163.25,539.21 162.65,539.36 162.06,539.51 161.46,539.66 160.87,539.8 160.27,539.95 159.68,540.09 159.09,540.24 158.98,540.27" fill="#00d200"/>
<polygon points="195.16,519.02 195.33,518.96 195.92,518.75 196.52,518.54 197.11,518.32 197.71,518.11 198.3,517.89 198.89,517.68 199.49,517.46 200.08,517.24 200.68,517.02 201.27,516.8 201.86,516.58 202.46,516.36 203.05,516.14 203.65,515.92 204.24,515.69 204.84,515.47 205.43,515.24 206.02,515.01 206.62,514.78 207.21,514.56 207.81,514.32 208.4,514.09 208.99,513.86 209.59,513.63 210.18,513.4 210.78,513.16 211.37,512.92 211.97,512.69 212.56,512.45 213.15,512.21 213.26,512.17 213.26,522.93 213.15,522.97 212.56,523.21 211.97,523.44 211.37,523.67 210.78,523.9 210.18,524.13 209.59,524.36 208.99,524.58 208.4,524.81 207.81,525.03 207.21,525.26 206.62,525.48 206.02,525.71 205.43,525.93 204.84,526.15 204.24,526.37 203.65,526.59 203.05,526.81 202.46,527.02 201.86,527.24 201.27,527.45 200.68,527.67 200.08,527.88 199.49,528.09 198.89,528.31 198.3,528.52 197.71,528.73 197.11,528.93 196.52,529.14 195.92,529.35 195.33,529.56 195.16,529.61" fill="#00d200"/>
<polygon points="231.35,504.48 231.57,504.38 232.17,504.11 232.76,503.85 233.35,503.58 233.95,503.31 234.54,503.04 235.14,502.77 235.73,502.5 236.33,502.22 236.92,501.95 237.51,501.68 238.11,501.4 238.7,501.12 239.3,500.85 239.89,500.57 240.48,500.29 241.08,500.01 241.67,499.73 242.27,499.45 242.86,499.17 243.46,498.89 244.05,498.6 244.64,498.32 245.24,498.03 245.83,497.75 246.43,497.46 247.02,497.17 247.61,496.89 248.21,496.6 248.8,496.31 249.4,496.02 249.45,495.99 249.45,507.11 249.4,507.13 248.8,507.42 248.21,507.7 247.61,507.98 247.02,508.26 246.43,508.55 245.83,508.83 245.24,509.11 244.64,509.39 244.05,509.66 243.46,509.94 242.86,510.22 242.27,510.49 241.67,510.77 241.08,511.04 240.48,511.32 239.89,511.59 239.3,511.86 238.7,512.13 238.11,512.4 237.51,512.67 236.92,512.94 236.33,513.21 235.73,513.47 235.14,513.74 234.54,514 233.95,514.27 233.35,514.53 232.76,514.79 232.17,515.06 231.57,515.32 231.35,515.41" fill="#00d200"/>
<polygon points="267.54,486.76 267.82,486.62 268.41,486.3 269,485.99 269.6,485.67 270.19,485.35 270.79,485.03 271.38,484.71 271.97,484.4 272.57,484.07 273.16,483.75 273.76,483.43 274.35,483.11 274.95,482.78 275.54,482.46 276.13,482.14 276.73,481.81 277.32,481.48 277.92,481.16 278.51,480.83 279.1,480.5 279.7,480.17 280.29,479.84 280.89,479.51 281.48,479.18 282.07,478.85 282.67,478.51 283.26,478.18 283.86,477.84 284.45,477.51 285.05,477.17 285.63,476.84 285.63,488.31 285.05,488.64 284.45,488.97 283.86,489.3 283.26,489.63 282.67,489.95 282.07,490.28 281.48,490.61 280.89,490.93 280.29,491.26 279.7,491.58 279.1,491.91 278.51,492.23 277.92,492.55 277.32,492.87 276.73,493.19 276.13,493.51 275.54,493.83 274.95,494.15 274.35,494.47 273.76,494.79 273.16,495.1 272.57,495.42 271.97,495.73 271.38,496.05 270.79,496.36 270.19,496.67 269.6,496.98 269,497.29 268.41,497.6 267.82,497.91 267.54,498.06" fill="#00d200"/>
<polygon points="303.73,466.27 304.06,466.07 304.65,465.71 305.25,465.35 305.84,464.99 306.43,464.63 307.03,464.27 307.62,463.91 308.22,463.55 308.81,463.19 309.41,462.83 310,462.46 310.59,462.1 311.19,461.73 311.78,461.37 312.38,461 312.97,460.63 313.56,460.27 314.16,459.9 314.75,459.53 315.35,459.16 315.94,458.79 316.54,458.42 317.13,458.05 317.72,457.68 318.32,457.3 318.91,456.93 319.51,456.56 320.1,456.18 320.69,455.81 321.29,455.43 321.82,455.09 321.82,466.91 321.29,467.24 320.69,467.61 320.1,467.98 319.51,468.35 318.91,468.72 318.32,469.08 317.72,469.45 317.13,469.82 316.54,470.18 315.94,470.55 315.35,470.91 314.75,471.28 314.16,471.64 313.56,472 312.97,472.36 312.38,472.73 311.78,473.09 311.19,473.45 310.59,473.81 310,474.17 309.41,474.52 308.81,474.88 308.22,475.24 307.62,475.59 307.03,475.95 306.43,476.3 305.84,476.66 305.25,477.01 304.65,477.37 304.06,477.72 303.73,477.91" fill="#00d200"/>
<polygon points="339.92,443.36 340.3,443.1 340.9,442.71 341.49,442.31 342.08,441.92 342.68,441.52 343.27,441.12 343.87,440.72 344.46,440.33 345.05,439.93 345.65,439.53 346.24,439.13 346.84,438.73 347.43,438.33 348.03,437.93 348.62,437.52 349.21,437.12 349.81,436.72 350.4,436.32 351,435.91 351.59,435.51 352.18,435.1 352.78,434.7 353.37,434.29 353.97,433.88 354.56,433.48 355.16,433.07 355.75,432.66 356.34,432.25 356.94,431.84 357.53,431.43 358.01,431.1 358.01,443.23 357.53,443.56 356.94,443.96 356.34,444.37 355.75,444.77 355.16,445.18 354.56,445.58 353.97,445.98 353.37,446.38 352.78,446.78 352.18,447.18 351.59,447.58 351,447.98 350.4,448.38 349.81,448.78 349.21,449.18 348.62,449.58 348.03,449.97 347.43,450.37 346.84,450.76 346.24,451.16 345.65,451.55 345.05,451.95 344.46,452.34 343.87,452.73 343.27,453.13 342.68,453.52 342.08,453.91 341.49,454.3 340.9,454.69 340.3,455.08 339.92,455.33" fill="#00d200"/>
<polygon points="376.11,418.37 376.54,418.06 377.14,417.63 377.73,417.2 378.33,416.78 378.92,416.35 379.52,415.92 380.11,415.49 380.7,415.06 381.3,414.63 381.89,414.2 382.49,413.77 383.08,413.34 383.67,412.91 384.27,412.48 384.86,412.05 385.46,411.62 386.05,411.18 386.65,410.75 387.24,410.32 387.83,409.88 388.43,409.45 389.02,409.01 389.62,408.58 390.21,408.14 390.8,407.7 391.4,407.27 391.99,406.83 392.59,406.39 393.18,405.95 393.77,405.51 394.2,405.2 394.2,417.61 393.77,417.92 393.18,418.36 392.59,418.79 391.99,419.23 391.4,419.66 390.8,420.09 390.21,420.52 389.62,420.96 389.02,421.39 388.43,421.82 387.83,422.25 387.24,422.68 386.65,423.11 386.05,423.54 385.46,423.96 384.86,424.39 384.27,424.82 383.67,425.25 383.08,425.67 382.49,426.1 381.89,426.53 381.3,426.95 380.7,427.38 380.11,427.8 379.52,428.22 378.92,428.65 378.33,429.07 377.73,429.49 377.14,429.91 376.54,430.34 376.11,430.65" fill="#00d200"/>
<polygon points="412.29,391.63 412.79,391.25 413.38,390.8 413.98,390.35 414.57,389.89 415.16,389.44 415.76,388.99 416.35,388.53 416.95,388.08 417.54,387.62 418.13,387.17 418.73,386.71 419.32,386.25 419.92,385.8 420.51,385.34 421.11,384.88 421.7,384.43 422.29,383.97 422.89,383.51 423.48,383.05 424.08,382.59 424.67,382.13 425.26,381.67 425.86,381.21 426.45,380.75 427.05,380.29 427.64,379.83 428.24,379.37 428.83,378.9 429.42,378.44 430.02,377.98 430.39,377.69 430.39,390.35 430.02,390.64 429.42,391.1 428.83,391.56 428.24,392.01 427.64,392.47 427.05,392.93 426.45,393.39 425.86,393.84 425.26,394.3 424.67,394.76 424.08,395.21 423.48,395.67 422.89,396.12 422.29,396.58 421.7,397.03 421.11,397.49 420.51,397.94 419.92,398.39 419.32,398.84 418.73,399.3 418.13,399.75 417.54,400.2 416.95,400.65 416.35,401.1 415.76,401.55 415.16,402 414.57,402.45 413.98,402.9 413.38,403.35 412.79,403.8 412.29,404.17" fill="#00d200"/>
<polygon points="448.48,363.42 449.03,362.99 449.62,362.51 450.22,362.04 450.81,361.56 451.41,361.09 452,360.61 452.6,360.14 453.19,359.66 453.78,359.19 454.38,358.71 454.97,358.23 455.57,357.76 456.16,357.28 456.75,356.8 457.35,356.32 457.94,355.84 458.54,355.37 459.13,354.89 459.73,354.41 460.32,353.93 460.91,353.45 461.51,352.97 462.1,352.49 462.7,352.01 463.29,351.53 463.88,351.04 464.48,350.56 465.07,350.08 465.67,349.6 466.26,349.12 466.58,348.86 466.58,361.73 466.26,361.98 465.67,362.46 465.07,362.94 464.48,363.42 463.88,363.9 463.29,364.38 462.7,364.85 462.1,365.33 461.51,365.81 460.91,366.29 460.32,366.76 459.73,367.24 459.13,367.72 458.54,368.19 457.94,368.67 457.35,369.14 456.75,369.62 456.16,370.09 455.57,370.56 454.97,371.04 454.38,371.51 453.78,371.99 453.19,372.46 452.6,372.93 452,373.4 451.41,373.88 450.81,374.35 450.22,374.82 449.62,375.29 449.03,375.76 448.48,376.19" fill="#00d200"/>
<polygon points="484.67,334.03 484.68,334.02 485.27,333.53 485.87,333.04 486.46,332.55 487.06,332.06 487.65,331.57 488.24,331.07 488.84,330.58 489.43,330.09 490.03,329.59 490.62,329.1 491.22,328.61 491.81,328.11 492.4,327.62 493,327.13 493.59,326.63 494.19,326.14 494.78,325.64 495.37,325.15 495.97,324.65 496.56,324.16 497.16,323.66 497.75,323.16 498.34,322.67 498.94,322.17 499.53,321.67 500.13,321.18 500.72,320.68 501.32,320.18 501.91,319.68 502.5,319.19 502.76,318.97 502.76,332 502.5,332.22 501.91,332.72 501.32,333.21 500.72,333.71 500.13,334.2 499.53,334.7 498.94,335.19 498.34,335.69 497.75,336.18 497.16,336.67 496.56,337.17 495.97,337.66 495.37,338.15 494.78,338.64 494.19,339.14 493.59,339.63 493,340.12 492.4,340.61 491.81,341.1 491.22,341.6 490.62,342.09 490.03,342.58 489.43,343.07 488.84,343.56 488.24,344.05 487.65,344.54 487.06,345.03 486.46,345.52 485.87,346 485.27,346.49 484.68,346.98 484.67,346.99" fill="#00d200"/>
<polygon points="520.86,303.7 520.92,303.64 521.52,303.14 522.11,302.64 522.71,302.13 523.3,301.63 523.89,301.12 524.49,300.61 525.08,300.11 525.68,299.6 526.27,299.1 526.86,298.59 527.46,298.08 528.05,297.58 528.65,297.07 529.24,296.56 529.83,296.06 530.43,295.55 531.02,295.04 531.62,294.53 532.21,294.03 532.81,293.52 533.4,293.01 533.99,292.5 534.59,291.99 535.18,291.48 535.78,290.98 536.37,290.47 536.96,289.96 537.56,289.45 538.15,288.94 538.75,288.43 538.95,288.25 538.95,301.42 538.75,301.59 538.15,302.1 537.56,302.61 536.96,303.12 536.37,303.63 535.78,304.13 535.18,304.64 534.59,305.15 533.99,305.65 533.4,306.16 532.81,306.67 532.21,307.17 531.62,307.68 531.02,308.18 530.43,308.69 529.83,309.19 529.24,309.7 528.65,310.2 528.05,310.71 527.46,311.21 526.86,311.72 526.27,312.22 525.68,312.73 525.08,313.23 524.49,313.73 523.89,314.24 523.3,314.74 522.71,315.24 522.11,315.75 521.52,316.25 520.92,316.75 520.86,316.81" fill="#00d200"/>
<polygon points="557.05,272.65 557.17,272.55 557.76,272.04 558.35,271.52 558.95,271.01 559.54,270.49 560.14,269.98 560.73,269.46 561.32,268.95 561.92,268.43 562.51,267.92 563.11,267.4 563.7,266.88 564.3,266.37 564.89,265.85 565.48,265.34 566.08,264.82 566.67,264.3 567.27,263.79 567.86,263.27 568.45,262.75 569.05,262.24 569.64,261.72 570.24,261.2 570.83,260.69 571.43,260.17 572.02,259.65 572.61,259.13 573.21,258.62 573.8,258.1 574.4,257.58 574.99,257.06 575.14,256.93 575.14,270.19 574.99,270.32 574.4,270.84 573.8,271.36 573.21,271.87 572.61,272.39 572.02,272.91 571.43,273.42 570.83,273.94 570.24,274.45 569.64,274.97 569.05,275.48 568.45,276 567.86,276.52 567.27,277.03 566.67,277.55 566.08,278.06 565.48,278.58 564.89,279.09 564.3,279.61 563.7,280.12 563.11,280.63 562.51,281.15 561.92,281.66 561.32,282.18 560.73,282.69 560.14,283.2 559.54,283.72 558.95,284.23 558.35,284.74 557.76,285.26 557.17,285.77 557.05,285.87" fill="#00d200"/>
<polygon points="593.23,241.1 593.41,240.95 594,240.43 594.6,239.91 595.19,239.39 595.79,238.87 596.38,238.34 596.97,237.82 597.57,237.3 598.16,236.78 598.76,236.26 599.35,235.73 599.94,235.21 600.54,234.69 601.13,234.17 601.73,233.65 602.32,233.12 602.92,232.6 603.51,232.08 604.1,231.56 604.7,231.03 605.29,230.51 605.89,229.99 606.48,229.47 607.07,228.94 607.67,228.42 608.26,227.9 608.86,227.37 609.45,226.85 610.04,226.33 610.64,225.8 611.23,225.28 611.33,225.2 611.33,238.52 611.23,238.6 610.64,239.13 610.04,239.65 609.45,240.17 608.86,240.69 608.26,241.22 607.67,241.74 607.07,242.26 606.48,242.78 605.89,243.3 605.29,243.83 604.7,244.35 604.1,244.87 603.51,245.39 602.92,245.91 602.32,246.43 601.73,246.96 601.13,247.48 600.54,248 599.94,248.52 599.35,249.04 598.76,249.56 598.16,250.08 597.57,250.6 596.97,251.12 596.38,251.65 595.79,252.17 595.19,252.69 594.6,253.21 594,253.73 593.41,254.25 593.23,254.4" fill="#00d200"/>
<polygon points="629.42,209.23 629.65,209.03 630.25,208.5 630.84,207.98 631.43,207.45 632.03,206.93 632.62,206.4 633.22,205.87 633.81,205.35 634.4,204.82 635,204.3 635.59,203.77 636.19,203.25 636.78,202.72 637.38,202.2 637.97,201.67 638.56,201.15 639.16,200.62 639.75,200.09 640.35,199.57 640.94,199.04 641.53,198.52 642.13,197.99 642.72,197.46 643.32,196.94 643.91,196.41 644.51,195.89 645.1,195.36 645.69,194.83 646.29,194.31 646.88,193.78 647.48,193.26 647.52,193.22 647.52,206.58 647.48,206.61 646.88,207.14 646.29,207.66 645.69,208.19 645.1,208.71 644.51,209.24 643.91,209.77 643.32,210.29 642.72,210.82 642.13,211.34 641.53,211.87 640.94,212.39 640.35,212.92 639.75,213.44 639.16,213.97 638.56,214.49 637.97,215.02 637.38,215.55 636.78,216.07 636.19,216.6 635.59,217.12 635,217.65 634.4,218.17 633.81,218.7 633.22,219.22 632.62,219.75 632.03,220.27 631.43,220.79 630.84,221.32 630.25,221.84 629.65,222.37 629.42,222.57" fill="#00d200"/>
<polygon points="665.61,177.19 665.89,176.94 666.49,176.41 667.08,175.89 667.68,175.36 668.27,174.83 668.87,174.31 669.46,173.78 670.05,173.25 670.65,172.73 671.24,172.2 671.84,171.67 672.43,171.15 673.02,170.62 673.62,170.09 674.21,169.57 674.81,169.04 675.4,168.51 676,167.99 676.59,167.46 677.18,166.93 677.78,166.41 678.37,165.88 678.97,165.36 679.56,164.83 680.15,164.3 680.15,177.66 679.56,178.19 678.97,178.72 678.37,179.24 677.78,179.77 677.18,180.3 676.59,180.82 676,181.35 675.4,181.88 674.81,182.4 674.21,182.93 673.62,183.46 673.02,183.98 672.43,184.51 671.84,185.04 671.24,185.56 670.65,186.09 670.05,186.62 669.46,187.14 668.87,187.67 668.27,188.19 667.68,188.72 667.08,189.25 666.49,189.77 665.89,190.3 665.61,190.55" fill="#00d200"/>
<polygon points="86.6,539.3 87.19,539.3 87.79,539.3 88.38,539.29 88.98,539.29 89.57,539.28 90.16,539.28 90.76,539.27 91.35,539.26 91.95,539.25 92.54,539.23 93.14,539.22 93.73,539.21 94.32,539.19 94.92,539.17 95.51,539.15 96.11,539.13 96.7,539.11 97.29,539.09 97.89,539.07 98.48,539.04 99.08,539.02 99.67,538.99 100.27,538.96 100.86,538.93 101.45,538.9 102.05,538.86 102.64,538.83 103.24,538.8 103.83,538.76 104.42,538.72 104.69,538.7 104.69,548.72 104.42,548.74 103.83,548.78 103.24,548.81 102.64,548.85 102.05,548.88 101.45,548.91 100.86,548.94 100.27,548.97 99.67,549 99.08,549.03 98.48,549.05 97.89,549.07 97.29,549.1 96.7,549.12 96.11,549.14 95.51,549.16 94.92,549.18 94.32,549.19 93.73,549.21 93.14,549.22 92.54,549.24 91.95,549.25 91.35,549.26 90.76,549.27 90.16,549.28 89.57,549.28 88.98,549.29 88.38,549.29 87.79,549.3 87.19,549.3 86.6,549.3" fill="#00d200"/>
<polygon points="122.79,536.96 122.84,536.96 123.44,536.88 124.03,536.8 124.63,536.72 125.22,536.64 125.81,536.56 126.41,536.48 127,536.4 127.6,536.32 128.19,536.23 128.78,536.14 129.38,536.06 129.97,535.97 130.57,535.88 131.16,535.79 131.76,535.69 132.35,535.6 132.94,535.51 133.54,535.41 134.13,535.32 134.73,535.22 135.32,535.12 135.91,535.02 136.51,534.92 137.1,534.82 137.7,534.71 138.29,534.61 138.89,534.5 139.48,534.4 140.07,534.29 140.67,534.18 140.88,534.14 140.88,544.3 140.67,544.34 140.07,544.45 139.48,544.55 138.89,544.66 138.29,544.76 137.7,544.86 137.1,544.96 136.51,545.06 135.91,545.16 135.32,545.25 134.73,545.35 134.13,545.44 133.54,545.54 132.94,545.63 132.35,545.72 131.76,545.81 131.16,545.9 130.57,545.99 129.97,546.08 129.38,546.16 128.78,546.25 128.19,546.33 127.6,546.41 127,546.49 126.41,546.57 125.81,546.65 125.22,546.73 124.63,546.81 124.03,546.88 123.44,546.96 122.84,547.03 122.79,547.04" fill="#00d200"/>
<polygon points="158.98,530.3 159.09,530.28 159.68,530.13 160.27,529.99 160.87,529.84 161.46,529.7 162.06,529.55 162.65,529.4 163.25,529.25 163.84,529.1 164.43,528.95 165.03,528.8 165.62,528.65 166.22,528.49 166.81,528.34 167.4,528.18 168,528.03 168.59,527.87 169.19,527.71 169.78,527.55 170.37,527.39 170.97,527.23 171.56,527.06 172.16,526.9 172.75,526.74 173.35,526.57 173.94,526.4 174.53,526.23 175.13,526.07 175.72,525.9 176.32,525.73 176.91,525.55 177.07,525.51 177.07,535.91 176.91,535.96 176.32,536.12 175.72,536.29 175.13,536.45 174.53,536.62 173.94,536.78 173.35,536.94 172.75,537.11 172.16,537.27 171.56,537.43 170.97,537.58 170.37,537.74 169.78,537.9 169.19,538.05 168.59,538.21 168,538.36 167.4,538.52 166.81,538.67 166.22,538.82 165.62,538.97 165.03,539.12 164.43,539.26 163.84,539.41 163.25,539.56 162.65,539.7 162.06,539.85 161.46,539.99 160.87,540.13 160.27,540.27 159.68,540.41 159.09,540.55 158.98,540.58" fill="#00d200"/>
<polygon points="195.16,519.82 195.33,519.76 195.92,519.56 196.52,519.36 197.11,519.16 197.71,518.95 198.3,518.75 198.89,518.54 199.49,518.33 200.08,518.13 200.68,517.92 201.27,517.71 201.86,517.5 202.46,517.28 203.05,517.07 203.65,516.86 204.24,516.65 204.84,516.43 205.43,516.21 206.02,516 206.62,515.78 207.21,515.56 207.81,515.34 208.4,515.12 208.99,514.9 209.59,514.68 210.18,514.46 210.78,514.23 211.37,514.01 211.97,513.78 212.56,513.56 213.15,513.33 213.26,513.29 213.26,523.98 213.15,524.02 212.56,524.25 211.97,524.47 211.37,524.69 210.78,524.91 210.18,525.12 209.59,525.34 208.99,525.56 208.4,525.78 207.81,525.99 207.21,526.2 206.62,526.42 206.02,526.63 205.43,526.84 204.84,527.05 204.24,527.26 203.65,527.47 203.05,527.68 202.46,527.89 201.86,528.09 201.27,528.3 200.68,528.5 200.08,528.71 199.49,528.91 198.89,529.11 198.3,529.31 197.71,529.52 197.11,529.71 196.52,529.91 195.92,530.11 195.33,530.31 195.16,530.36" fill="#00d200"/>
<polygon points="231.35,505.98 231.57,505.89 232.17,505.63 232.76,505.38 233.35,505.13 233.95,504.87 234.54,504.61 235.14,504.36 235.73,504.1 236.33,503.84 236.92,503.58 237.51,503.32 238.11,503.06 238.7,502.8 239.3,502.54 239.89,502.27 240.48,502.01 241.08,501.75 241.67,501.48 242.27,501.21 242.86,500.95 243.46,500.68 244.05,500.41 244.64,500.14 245.24,499.87 245.83,499.6 246.43,499.33 247.02,499.06 247.61,498.79 248.21,498.51 248.8,498.24 249.4,497.96 249.45,497.94 249.45,508.94 249.4,508.97 248.8,509.24 248.21,509.51 247.61,509.77 247.02,510.04 246.43,510.31 245.83,510.58 245.24,510.84 244.64,511.11 244.05,511.37 243.46,511.63 242.86,511.9 242.27,512.16 241.67,512.42 241.08,512.68 240.48,512.94 239.89,513.2 239.3,513.45 238.7,513.71 238.11,513.97 237.51,514.22 236.92,514.48 236.33,514.73 235.73,514.99 235.14,515.24 234.54,515.49 233.95,515.74 233.35,515.99 232.76,516.24 232.17,516.49 231.57,516.74 231.35,516.83" fill="#00d200"/>
<polygon points="267.54,489.22 267.82,489.08 268.41,488.78 269,488.49 269.6,488.19 270.19,487.89 270.79,487.59 271.38,487.29 271.97,486.98 272.57,486.68 273.16,486.38 273.76,486.08 274.35,485.77 274.95,485.47 275.54,485.16 276.13,484.85 276.73,484.55 277.32,484.24 277.92,483.93 278.51,483.62 279.1,483.31 279.7,483 280.29,482.69 280.89,482.38 281.48,482.07 282.07,481.76 282.67,481.44 283.26,481.13 283.86,480.81 284.45,480.5 285.05,480.18 285.63,479.87 285.63,491.18 285.05,491.49 284.45,491.8 283.86,492.11 283.26,492.42 282.67,492.73 282.07,493.04 281.48,493.35 280.89,493.65 280.29,493.96 279.7,494.27 279.1,494.57 278.51,494.88 277.92,495.18 277.32,495.48 276.73,495.79 276.13,496.09 275.54,496.39 274.95,496.69 274.35,496.99 273.76,497.29 273.16,497.59 272.57,497.89 271.97,498.18 271.38,498.48 270.79,498.78 270.19,499.07 269.6,499.37 269,499.66 268.41,499.95 267.82,500.25 267.54,500.38" fill="#00d200"/>
<polygon points="303.73,469.93 304.06,469.75 304.65,469.41 305.25,469.07 305.84,468.74 306.43,468.4 307.03,468.06 307.62,467.72 308.22,467.38 308.81,467.04 309.41,466.7 310,466.36 310.59,466.02 311.19,465.67 311.78,465.33 312.38,464.99 312.97,464.64 313.56,464.3 314.16,463.95 314.75,463.61 315.35,463.26 315.94,462.92 316.54,462.57 317.13,462.22 317.72,461.87 318.32,461.52 318.91,461.17 319.51,460.82 320.1,460.47 320.69,460.12 321.29,459.77 321.82,459.45 321.82,471.06 321.29,471.37 320.69,471.72 320.1,472.07 319.51,472.41 318.91,472.76 318.32,473.1 317.72,473.45 317.13,473.79 316.54,474.13 315.94,474.48 315.35,474.82 314.75,475.16 314.16,475.5 313.56,475.84 312.97,476.18 312.38,476.52 311.78,476.86 311.19,477.2 310.59,477.54 310,477.87 309.41,478.21 308.81,478.55 308.22,478.88 307.62,479.22 307.03,479.55 306.43,479.88 305.84,480.22 305.25,480.55 304.65,480.88 304.06,481.21 303.73,481.39" fill="#00d200"/>
<polygon points="339.92,448.48 340.3,448.24 340.9,447.87 341.49,447.5 342.08,447.13 342.68,446.76 343.27,446.39 343.87,446.02 344.46,445.65 345.05,445.28 345.65,444.9 346.24,444.53 346.84,444.16 347.43,443.78 348.03,443.41 348.62,443.03 349.21,442.66 349.81,442.28 350.4,441.91 351,441.53 351.59,441.15 352.18,440.77 352.78,440.4 353.37,440.02 353.97,439.64 354.56,439.26 355.16,438.88 355.75,438.5 356.34,438.12 356.94,437.74 357.53,437.35 358.01,437.05 358.01,448.92 357.53,449.22 356.94,449.6 356.34,449.98 355.75,450.36 355.16,450.73 354.56,451.11 353.97,451.48 353.37,451.86 352.78,452.23 352.18,452.61 351.59,452.98 351,453.35 350.4,453.73 349.81,454.1 349.21,454.47 348.62,454.84 348.03,455.21 347.43,455.58 346.84,455.95 346.24,456.32 345.65,456.69 345.05,457.06 344.46,457.43 343.87,457.79 343.27,458.16 342.68,458.53 342.08,458.89 341.49,459.26 340.9,459.62 340.3,459.99 339.92,460.22" fill="#00d200"/>
<polygon points="376.11,425.19 376.54,424.9 377.14,424.5 377.73,424.11 378.33,423.71 378.92,423.31 379.52,422.91 380.11,422.52 380.7,422.12 381.3,421.72 381.89,421.32 382.49,420.92 383.08,420.52 383.67,420.12 384.27,419.72 384.86,419.32 385.46,418.91 386.05,418.51 386.65,418.11 387.24,417.71 387.83,417.3 388.43,416.9 389.02,416.5 389.62,416.09 390.21,415.69 390.8,415.28 391.4,414.87 391.99,414.47 392.59,414.06 393.18,413.65 393.77,413.25 394.2,412.96 394.2,425.07 393.77,425.36 393.18,425.76 392.59,426.16 391.99,426.57 391.4,426.97 390.8,427.37 390.21,427.77 389.62,428.17 389.02,428.57 388.43,428.97 387.83,429.37 387.24,429.77 386.65,430.17 386.05,430.57 385.46,430.97 384.86,431.37 384.27,431.77 383.67,432.16 383.08,432.56 382.49,432.96 381.89,433.35 381.3,433.75 380.7,434.14 380.11,434.54 379.52,434.93 378.92,435.33 378.33,435.72 377.73,436.11 377.14,436.51 376.54,436.9 376.11,437.19" fill="#00d200"/>
<polygon points="412.29,400.37 412.79,400.02 413.38,399.6 413.98,399.18 414.57,398.76 415.16,398.34 415.76,397.92 416.35,397.5 416.95,397.08 417.54,396.66 418.13,396.24 418.73,395.82 419.32,395.39 419.92,394.97 420.51,394.55 421.11,394.13 421.7,393.7 422.29,393.28 422.89,392.85 423.48,392.43 424.08,392 424.67,391.58 425.26,391.15 425.86,390.73 426.45,390.3 427.05,389.87 427.64,389.45 428.24,389.02 428.83,388.59 429.42,388.16 430.02,387.74 430.39,387.47 430.39,399.78 430.02,400.05 429.42,400.47 428.83,400.9 428.24,401.32 427.64,401.75 427.05,402.17 426.45,402.59 425.86,403.02 425.26,403.44 424.67,403.86 424.08,404.28 423.48,404.71 422.89,405.13 422.29,405.55 421.7,405.97 421.11,406.39 420.51,406.81 419.92,407.23 419.32,407.65 418.73,408.07 418.13,408.49 417.54,408.91 416.95,409.33 416.35,409.74 415.76,410.16 415.16,410.58 414.57,410.99 413.98,411.41 413.38,411.83 412.79,412.24 412.29,412.59" fill="#00d200"/>
<polygon points="448.48,374.28 449.03,373.88 449.62,373.44 450.22,373 450.81,372.56 451.41,372.12 452,371.69 452.6,371.25 453.19,370.81 453.78,370.37 454.38,369.93 454.97,369.49 455.57,369.05 456.16,368.61 456.75,368.16 457.35,367.72 457.94,367.28 458.54,366.84 459.13,366.4 459.73,365.95 460.32,365.51 460.91,365.07 461.51,364.63 462.1,364.18 462.7,363.74 463.29,363.3 463.88,362.85 464.48,362.41 465.07,361.96 465.67,361.52 466.26,361.07 466.58,360.84 466.58,373.32 466.26,373.56 465.67,374 465.07,374.44 464.48,374.88 463.88,375.32 463.29,375.77 462.7,376.21 462.1,376.65 461.51,377.09 460.91,377.53 460.32,377.97 459.73,378.41 459.13,378.85 458.54,379.29 457.94,379.73 457.35,380.17 456.75,380.61 456.16,381.04 455.57,381.48 454.97,381.92 454.38,382.36 453.78,382.8 453.19,383.23 452.6,383.67 452,384.11 451.41,384.54 450.81,384.98 450.22,385.41 449.62,385.85 449.03,386.28 448.48,386.69" fill="#00d200"/>
<polygon points="484.67,347.16 484.68,347.15 485.27,346.7 485.87,346.25 486.46,345.79 487.06,345.34 487.65,344.89 488.24,344.43 488.84,343.98 489.43,343.52 490.03,343.07 490.62,342.61 491.22,342.16 491.81,341.7 492.4,341.25 493,340.79 493.59,340.34 494.19,339.88 494.78,339.42 495.37,338.97 495.97,338.51 496.56,338.05 497.16,337.6 497.75,337.14 498.34,336.68 498.94,336.23 499.53,335.77 500.13,335.31 500.72,334.85 501.32,334.39 501.91,333.93 502.5,333.48 502.76,333.27 502.76,345.9 502.5,346.1 501.91,346.56 501.32,347.01 500.72,347.47 500.13,347.93 499.53,348.38 498.94,348.84 498.34,349.29 497.75,349.75 497.16,350.2 496.56,350.66 495.97,351.11 495.37,351.57 494.78,352.02 494.19,352.48 493.59,352.93 493,353.38 492.4,353.84 491.81,354.29 491.22,354.74 490.62,355.2 490.03,355.65 489.43,356.1 488.84,356.55 488.24,357 487.65,357.46 487.06,357.91 486.46,358.36 485.87,358.81 485.27,359.26 484.68,359.71 484.67,359.72" fill="#00d200"/>
<polygon points="520.86,319.21 520.92,319.16 521.52,318.69 522.11,318.23 522.71,317.76 523.3,317.3 523.89,316.83 524.49,316.36 525.08,315.9 525.68,315.43 526.27,314.97 526.86,314.5 527.46,314.03 528.05,313.57 528.65,313.1 529.24,312.63 529.83,312.17 530.43,311.7 531.02,311.23 531.62,310.76 532.21,310.3 532.81,309.83 533.4,309.36 533.99,308.89 534.59,308.42 535.18,307.95 535.78,307.48 536.37,307.02 536.96,306.55 537.56,306.08 538.15,305.61 538.75,305.14 538.95,304.98 538.95,317.71 538.75,317.88 538.15,318.34 537.56,318.81 536.96,319.28 536.37,319.75 535.78,320.21 535.18,320.68 534.59,321.15 533.99,321.62 533.4,322.08 532.81,322.55 532.21,323.02 531.62,323.48 531.02,323.95 530.43,324.41 529.83,324.88 529.24,325.34 528.65,325.81 528.05,326.27 527.46,326.74 526.86,327.2 526.27,327.67 525.68,328.13 525.08,328.6 524.49,329.06 523.89,329.53 523.3,329.99 522.71,330.45 522.11,330.92 521.52,331.38 520.92,331.84 520.86,331.89" fill="#00d200"/>
<polygon points="557.05,290.6 557.17,290.5 557.76,290.03 558.35,289.56 558.95,289.08 559.54,288.61 560.14,288.13 560.73,287.66 561.32,287.18 561.92,286.71 562.51,286.23 563.11,285.76 563.7,285.28 564.3,284.8 564.89,284.33 565.48,283.85 566.08,283.38 566.67,282.9 567.27,282.42 567.86,281.95 568.45,281.47 569.05,280.99 569.64,280.52 570.24,280.04 570.83,279.56 571.43,279.08 572.02,278.61 572.61,278.13 573.21,277.65 573.8,277.17 574.4,276.7 574.99,276.22 575.14,276.1 575.14,288.93 574.99,289.05 574.4,289.52 573.8,290 573.21,290.48 572.61,290.95 572.02,291.43 571.43,291.91 570.83,292.38 570.24,292.86 569.64,293.33 569.05,293.81 568.45,294.28 567.86,294.76 567.27,295.23 566.67,295.71 566.08,296.18 565.48,296.66 564.89,297.13 564.3,297.61 563.7,298.08 563.11,298.56 562.51,299.03 561.92,299.51 561.32,299.98 560.73,300.45 560.14,300.93 559.54,301.4 558.95,301.87 558.35,302.35 557.76,302.82 557.17,303.29 557.05,303.39" fill="#00d200"/>
<polygon points="593.23,261.48 593.41,261.34 594,260.86 594.6,260.38 595.19,259.89 595.79,259.41 596.38,258.93 596.97,258.45 597.57,257.97 598.16,257.48 598.76,257 599.35,256.52 599.94,256.04 600.54,255.55 601.13,255.07 601.73,254.59 602.32,254.1 602.92,253.62 603.51,253.14 604.1,252.65 604.7,252.17 605.29,251.69 605.89,251.2 606.48,250.72 607.07,250.23 607.67,249.75 608.26,249.27 608.86,248.78 609.45,248.3 610.04,247.81 610.64,247.33 611.23,246.84 611.33,246.77 611.33,259.67 611.23,259.74 610.64,260.23 610.04,260.71 609.45,261.19 608.86,261.68 608.26,262.16 607.67,262.64 607.07,263.13 606.48,263.61 605.89,264.09 605.29,264.58 604.7,265.06 604.1,265.54 603.51,266.02 602.92,266.51 602.32,266.99 601.73,267.47 601.13,267.95 600.54,268.43 599.94,268.92 599.35,269.4 598.76,269.88 598.16,270.36 597.57,270.84 596.97,271.32 596.38,271.8 595.79,272.28 595.19,272.77 594.6,273.25 594,273.73 593.41,274.21 593.23,274.35" fill="#00d200"/>
<polygon points="629.42,231.96 629.65,231.78 630.25,231.29 630.84,230.8 631.43,230.31 632.03,229.83 632.62,229.34 633.22,228.85 633.81,228.36 634.4,227.87 635,227.39 635.59,226.9 636.19,226.41 636.78,225.92 637.38,225.43 637.97,224.94 638.56,224.45 639.16,223.97 639.75,223.48 640.35,222.99 640.94,222.5 641.53,222.01 642.13,221.52 642.72,221.03 643.32,220.54 643.91,220.05 644.51,219.56 645.1,219.07 645.69,218.58 646.29,218.09 646.88,217.61 647.48,217.12 647.52,217.08 647.52,230.04 647.48,230.07 646.88,230.56 646.29,231.05 645.69,231.54 645.1,232.03 644.51,232.52 643.91,233 643.32,233.49 642.72,233.98 642.13,234.47 641.53,234.96 640.94,235.45 640.35,235.93 639.75,236.42 639.16,236.91 638.56,237.4 637.97,237.89 637.38,238.37 636.78,238.86 636.19,239.35 635.59,239.84 635,240.32 634.4,240.81 633.81,241.3 633.22,241.78 632.62,242.27 632.03,242.76 631.43,243.25 630.84,243.73 630.25,244.22 629.65,244.71 629.42,244.89" fill="#00d200"/>
<polygon points="665.61,202.13 665.89,201.89 666.49,201.4 667.08,200.91 667.68,200.42 668.27,199.92 668.87,199.43 669.46,198.94 670.05,198.45 670.65,197.95 671.24,197.46 671.84,196.97 672.43,196.48 673.02,195.98 673.62,195.49 674.21,195 674.81,194.5 675.4,194.01 676,193.52 676.59,193.02 677.18,192.53 677.78,192.04 678.37,191.54 678.97,191.05 679.56,190.56 680.15,190.06 680.15,203.06 679.56,203.55 678.97,204.05 678.37,204.54 677.78,205.03 677.18,205.53 676.59,206.02 676,206.51 675.4,207 674.81,207.5 674.21,207.99 673.62,208.48 673.02,208.97 672.43,209.46 671.84,209.96 671.24,210.45 670.65,210.94 670.05,211.43 669.46,211.92 668.87,212.42 668.27,212.91 667.68,213.4 667.08,213.89 666.49,214.38 665.89,214.87 665.61,215.11" fill="#00d200"/>
<polygon points="86.6,539.3 87.19,539.3 87.79,539.3 88.38,539.29 88.98,539.29 89.57,539.28 90.16,539.27 90.76,539.26 91.35,539.24 91.95,539.23 92.54,539.21 93.14,539.19 93.73,539.17 94.32,539.15 94.92,539.12 95.51,539.1 96.11,539.07 96.7,539.04 97.29,539.01 97.89,538.98 98.48,538.94 98.64,538.93 98.64,548.95 98.48,548.96 97.89,548.99 97.29,549.02 96.7,549.05 96.11,549.08 95.51,549.11 94.92,549.13 94.32,549.16 93.73,549.18 93.14,549.2 92.54,549.21 91.95,549.23 91.35,549.25 90.76,549.26 90.16,549.27 89.57,549.28 88.98,549.29 88.38,549.29 87.79,549.3 87.19,549.3 86.6,549.3" fill="#2c2cff"/>
<polygon points="110.67,537.84 110.96,537.81 111.55,537.74 112.15,537.66 112.74,537.59 113.34,537.51 113.93,537.43 114.52,537.35 115.12,537.26 115.71,537.18 116.31,537.09 116.9,537.01 117.5,536.92 118.09,536.82 118.68,536.73 119.28,536.64 119.87,536.54 120.47,536.44 121.06,536.34 121.65,536.24 122.25,536.14 122.71,536.06 122.71,546.2 122.25,546.28 121.65,546.38 121.06,546.48 120.47,546.57 119.87,546.67 119.28,546.76 118.68,546.85 118.09,546.94 117.5,547.03 116.9,547.11 116.31,547.2 115.71,547.28 115.12,547.36 114.52,547.44 113.93,547.52 113.34,547.59 112.74,547.67 112.15,547.74 111.55,547.81 110.96,547.88 110.67,547.91" fill="#2c2cff"/>
<polygon points="134.74,533.58 135.32,533.45 135.91,533.31 136.51,533.17 137.1,533.02 137.7,532.88 138.29,532.73 138.89,532.58 139.48,532.43 140.07,532.28 140.67,532.12 141.26,531.97 141.86,531.81 142.45,531.65 143.04,531.49 143.64,531.33 144.23,531.17 144.83,531 145.42,530.84 146.01,530.67 146.61,530.5 146.78,530.45 146.78,540.84 146.61,540.89 146.01,541.05 145.42,541.21 144.83,541.37 144.23,541.53 143.64,541.68 143.04,541.84 142.45,541.99 141.86,542.14 141.26,542.29 140.67,542.44 140.07,542.59 139.48,542.74 138.89,542.88 138.29,543.02 137.7,543.16 137.1,543.3 136.51,543.44 135.91,543.58 135.32,543.71 134.74,543.84" fill="#2c2cff"/>
<polygon points="158.82,526.68 159.09,526.58 159.68,526.38 160.27,526.18 160.87,525.97 161.46,525.76 162.06,525.55 162.65,525.34 163.25,525.13 163.84,524.91 164.43,524.7 165.03,524.48 165.62,524.26 166.22,524.04 166.81,523.82 167.4,523.6 168,523.38 168.59,523.15 169.19,522.92 169.78,522.69 170.37,522.46 170.85,522.28 170.85,532.99 170.37,533.17 169.78,533.39 169.19,533.61 168.59,533.83 168,534.04 167.4,534.26 166.81,534.47 166.22,534.69 165.62,534.9 165.03,535.11 164.43,535.32 163.84,535.52 163.25,535.73 162.65,535.93 162.06,536.14 161.46,536.34 160.87,536.54 160.27,536.74 159.68,536.93 159.09,537.13 158.82,537.22" fill="#2c2cff"/>
<polygon points="182.89,517.27 183.45,517.03 184.04,516.76 184.63,516.5 185.23,516.23 185.82,515.96 186.42,515.69 187.01,515.42 187.61,515.15 188.2,514.88 188.79,514.6 189.39,514.33 189.98,514.05 190.58,513.77 191.17,513.49 191.76,513.21 192.36,512.92 192.95,512.64 193.55,512.35 194.14,512.07 194.74,511.78 194.92,511.68 194.92,522.77 194.74,522.86 194.14,523.14 193.55,523.42 192.95,523.7 192.36,523.97 191.76,524.25 191.17,524.52 190.58,524.79 189.98,525.06 189.39,525.33 188.79,525.59 188.2,525.86 187.61,526.12 187.01,526.38 186.42,526.65 185.82,526.91 185.23,527.16 184.63,527.42 184.04,527.68 183.45,527.93 182.89,528.17" fill="#2c2cff"/>
<polygon points="206.96,505.53 207.21,505.39 207.81,505.07 208.4,504.75 208.99,504.43 209.59,504.11 210.18,503.79 210.78,503.46 211.37,503.13 211.97,502.81 212.56,502.48 213.15,502.15 213.75,501.81 214.34,501.48 214.94,501.15 215.53,500.81 216.12,500.47 216.72,500.13 217.31,499.79 217.91,499.45 218.5,499.11 219,498.82 219,510.33 218.5,510.61 217.91,510.94 217.31,511.28 216.72,511.6 216.12,511.93 215.53,512.26 214.94,512.58 214.34,512.91 213.75,513.23 213.15,513.55 212.56,513.87 211.97,514.19 211.37,514.51 210.78,514.83 210.18,515.14 209.59,515.45 208.99,515.77 208.4,516.08 207.81,516.39 207.21,516.7 206.96,516.83" fill="#2c2cff"/>
<polygon points="231.03,491.59 231.57,491.25 232.17,490.88 232.76,490.51 233.35,490.13 233.95,489.76 234.54,489.38 235.14,489 235.73,488.62 236.33,488.24 236.92,487.86 237.51,487.48 238.11,487.09 238.7,486.71 239.3,486.32 239.89,485.94 240.48,485.55 241.08,485.16 241.67,484.76 242.27,484.37 242.86,483.98 243.07,483.84 243.07,495.79 242.86,495.93 242.27,496.31 241.67,496.69 241.08,497.07 240.48,497.45 239.89,497.83 239.3,498.21 238.7,498.58 238.11,498.96 237.51,499.33 236.92,499.7 236.33,500.07 235.73,500.44 235.14,500.81 234.54,501.18 233.95,501.54 233.35,501.91 232.76,502.27 232.17,502.63 231.57,502.99 231.03,503.32" fill="#2c2cff"/>
<polygon points="255.11,475.6 255.34,475.43 255.93,475.01 256.53,474.59 257.12,474.17 257.71,473.75 258.31,473.32 258.9,472.9 259.5,472.47 260.09,472.04 260.69,471.61 261.28,471.18 261.87,470.75 262.47,470.32 263.06,469.89 263.66,469.45 264.25,469.02 264.84,468.58 265.44,468.14 266.03,467.7 266.63,467.26 267.14,466.88 267.14,479.29 266.63,479.66 266.03,480.09 265.44,480.52 264.84,480.94 264.25,481.37 263.66,481.79 263.06,482.22 262.47,482.64 261.87,483.06 261.28,483.48 260.69,483.9 260.09,484.32 259.5,484.73 258.9,485.15 258.31,485.56 257.71,485.98 257.12,486.39 256.53,486.8 255.93,487.21 255.34,487.62 255.11,487.78" fill="#2c2cff"/>
<polygon points="279.18,457.7 279.7,457.29 280.29,456.83 280.89,456.36 281.48,455.89 282.07,455.42 282.67,454.95 283.26,454.48 283.86,454.01 284.45,453.54 285.05,453.06 285.64,452.59 286.23,452.11 286.83,451.63 287.42,451.15 288.02,450.68 288.61,450.19 289.2,449.71 289.8,449.23 290.39,448.75 290.99,448.26 291.21,448.08 291.21,460.93 290.99,461.12 290.39,461.59 289.8,462.06 289.2,462.53 288.61,463 288.02,463.47 287.42,463.94 286.83,464.41 286.23,464.88 285.64,465.34 285.05,465.8 284.45,466.27 283.86,466.73 283.26,467.19 282.67,467.65 282.07,468.11 281.48,468.57 280.89,469.02 280.29,469.48 279.7,469.93 279.18,470.33" fill="#2c2cff"/>
<polygon points="303.25,438.03 303.46,437.85 304.06,437.34 304.65,436.83 305.25,436.32 305.84,435.81 306.43,435.3 307.03,434.79 307.62,434.28 308.22,433.76 308.81,433.25 309.41,432.73 310,432.22 310.59,431.7 311.19,431.18 311.78,430.66 312.38,430.14 312.97,429.62 313.56,429.09 314.16,428.57 314.75,428.05 315.29,427.57 315.29,440.87 314.75,441.33 314.16,441.85 313.56,442.36 312.97,442.87 312.38,443.38 311.78,443.89 311.19,444.4 310.59,444.91 310,445.42 309.41,445.92 308.81,446.43 308.22,446.93 307.62,447.43 307.03,447.94 306.43,448.44 305.84,448.94 305.25,449.44 304.65,449.94 304.06,450.43 303.46,450.93 303.25,451.11" fill="#2c2cff"/>
<polygon points="327.32,416.73 327.82,416.26 328.42,415.72 329.01,415.17 329.61,414.62 330.2,414.07 330.8,413.52 331.39,412.97 331.98,412.42 332.58,411.87 333.17,411.32 333.77,410.76 334.36,410.21 334.95,409.65 335.55,409.09 336.14,408.54 336.74,407.98 337.33,407.42 337.92,406.86 338.52,406.3 339.11,405.73 339.36,405.5 339.36,419.22 339.11,419.45 338.52,420 337.92,420.55 337.33,421.1 336.74,421.65 336.14,422.2 335.55,422.75 334.95,423.29 334.36,423.84 333.77,424.38 333.17,424.93 332.58,425.47 331.98,426.01 331.39,426.55 330.8,427.1 330.2,427.63 329.61,428.17 329.01,428.71 328.42,429.25 327.82,429.78 327.32,430.23" fill="#2c2cff"/>
<polygon points="351.39,393.92 351.59,393.73 352.18,393.15 352.78,392.56 353.37,391.98 353.97,391.4 354.56,390.81 355.16,390.23 355.75,389.64 356.34,389.06 356.94,388.47 357.53,387.88 358.13,387.29 358.72,386.7 359.31,386.11 359.91,385.52 360.5,384.92 361.1,384.33 361.69,383.74 362.28,383.14 362.88,382.55 363.43,381.99 363.43,396.11 362.88,396.66 362.28,397.24 361.69,397.83 361.1,398.41 360.5,399 359.91,399.58 359.31,400.16 358.72,400.74 358.13,401.32 357.53,401.9 356.94,402.48 356.34,403.06 355.75,403.64 355.16,404.21 354.56,404.79 353.97,405.36 353.37,405.94 352.78,406.51 352.18,407.08 351.59,407.65 351.39,407.84" fill="#2c2cff"/>
<polygon points="368.35,377.02 368.36,377.01 368.96,376.4 369.56,375.79 370.16,375.18 370.76,374.57 371.36,373.96 371.96,373.35 372.55,372.73 373.15,372.12 373.75,371.5 374.35,370.89 374.95,370.27 375.54,369.66 376.14,369.04 376.74,368.42 377.34,367.8 377.94,367.18 378.54,366.56 379.13,365.94 379.73,365.32 380.06,364.98 393.88,364.98 393.56,365.32 392.97,365.94 392.38,366.56 391.79,367.18 391.2,367.8 390.61,368.42 390.02,369.04 389.43,369.66 388.84,370.27 388.25,370.89 387.66,371.5 387.07,372.12 386.48,372.73 385.89,373.35 385.3,373.96 384.71,374.57 384.12,375.18 383.53,375.79 382.94,376.4 382.35,377.01 382.34,377.02" fill="#2c2cff"/>
<polygon points="391.49,352.95 391.69,352.73 392.29,352.1 392.88,351.46 393.48,350.82 394.08,350.18 394.68,349.54 395.27,348.9 395.87,348.26 396.47,347.62 397.07,346.98 397.66,346.34 398.26,345.69 398.86,345.05 399.46,344.4 400.05,343.76 400.65,343.11 401.25,342.46 401.84,341.82 402.44,341.17 402.68,340.91 416.24,340.91 416,341.17 415.41,341.82 414.82,342.46 414.23,343.11 413.64,343.76 413.05,344.4 412.46,345.05 411.87,345.69 411.28,346.34 410.69,346.98 410.09,347.62 409.5,348.26 408.91,348.9 408.32,349.54 407.73,350.18 407.14,350.82 406.55,351.46 405.96,352.1 405.37,352.73 405.17,352.95" fill="#2c2cff"/>
<polygon points="413.66,328.87 413.79,328.73 414.38,328.07 414.98,327.4 415.58,326.74 416.18,326.08 416.77,325.42 417.37,324.75 417.97,324.09 418.56,323.42 419.16,322.76 419.76,322.09 420.35,321.42 420.95,320.75 421.55,320.09 422.14,319.42 422.74,318.75 423.34,318.08 423.93,317.41 424.44,316.84 437.79,316.84 437.29,317.41 436.7,318.08 436.11,318.75 435.52,319.42 434.92,320.09 434.33,320.75 433.74,321.42 433.15,322.09 432.56,322.76 431.97,323.42 431.37,324.09 430.78,324.75 430.19,325.42 429.6,326.08 429.01,326.74 428.42,327.4 427.83,328.07 427.24,328.73 427.11,328.87" fill="#2c2cff"/>
<polygon points="435.05,304.8 435.27,304.55 435.87,303.87 436.46,303.18 437.06,302.5 437.66,301.82 438.25,301.13 438.85,300.45 439.45,299.76 440.04,299.07 440.64,298.39 441.23,297.7 441.83,297.01 442.43,296.32 443.02,295.63 443.62,294.94 444.22,294.25 444.81,293.56 445.41,292.87 445.5,292.76 458.69,292.76 458.59,292.87 458,293.56 457.41,294.25 456.82,294.94 456.23,295.63 455.63,296.32 455.04,297.01 454.45,297.7 453.86,298.39 453.27,299.07 452.67,299.76 452.08,300.45 451.49,301.13 450.9,301.82 450.31,302.5 449.72,303.18 449.12,303.87 448.53,304.55 448.31,304.8" fill="#2c2cff"/>
<polygon points="455.81,280.73 456.14,280.34 456.74,279.64 457.33,278.94 457.93,278.24 458.52,277.54 459.12,276.83 459.72,276.13 460.31,275.43 460.91,274.72 461.5,274.02 462.1,273.31 462.7,272.61 463.29,271.9 463.89,271.19 464.48,270.49 465.08,269.78 465.68,269.07 465.99,268.69 479.05,268.69 478.73,269.07 478.14,269.78 477.54,270.49 476.95,271.19 476.36,271.9 475.77,272.61 475.17,273.31 474.58,274.02 473.99,274.72 473.4,275.43 472.81,276.13 472.21,276.83 471.62,277.54 471.03,278.24 470.44,278.94 469.84,279.64 469.25,280.34 468.93,280.73" fill="#2c2cff"/>
<polygon points="476.06,256.66 476.4,256.25 477,255.53 477.59,254.81 478.19,254.1 478.78,253.38 479.38,252.66 479.98,251.94 480.57,251.22 481.17,250.5 481.76,249.78 482.36,249.06 482.95,248.34 483.55,247.62 484.15,246.9 484.74,246.17 485.34,245.45 485.93,244.73 486.02,244.62 498.96,244.62 498.87,244.73 498.28,245.45 497.69,246.17 497.1,246.9 496.5,247.62 495.91,248.34 495.32,249.06 494.73,249.78 494.13,250.5 493.54,251.22 492.95,251.94 492.36,252.66 491.76,253.38 491.17,254.1 490.58,254.81 489.99,255.53 489.39,256.25 489.05,256.66" fill="#2c2cff"/>
<polygon points="495.89,232.58 496.06,232.38 496.65,231.65 497.25,230.92 497.84,230.18 498.44,229.45 499.03,228.72 499.63,227.99 500.23,227.26 500.82,226.52 501.42,225.79 502.01,225.06 502.61,224.32 503.2,223.59 503.8,222.86 504.39,222.12 504.99,221.39 505.58,220.65 505.67,220.55 518.52,220.55 518.44,220.65 517.84,221.39 517.25,222.12 516.66,222.86 516.07,223.59 515.47,224.32 514.88,225.06 514.29,225.79 513.69,226.52 513.1,227.26 512.51,227.99 511.92,228.72 511.32,229.45 510.73,230.18 510.14,230.92 509.54,231.65 508.95,232.38 508.78,232.58" fill="#2c2cff"/>
<polygon points="515.37,208.51 515.7,208.09 516.3,207.35 516.89,206.61 517.49,205.87 518.08,205.12 518.68,204.38 519.27,203.64 519.87,202.89 520.47,202.15 521.06,201.41 521.66,200.66 522.25,199.92 522.85,199.17 523.44,198.43 524.04,197.68 524.63,196.94 525,196.48 537.78,196.48 537.41,196.94 536.82,197.68 536.23,198.43 535.64,199.17 535.04,199.92 534.45,200.66 533.86,201.41 533.26,202.15 532.67,202.89 532.08,203.64 531.48,204.38 530.89,205.12 530.3,205.87 529.7,206.61 529.11,207.35 528.52,208.09 528.18,208.51" fill="#2c2cff"/>
<polygon points="534.57,184.44 534.75,184.21 535.34,183.46 535.94,182.71 536.53,181.96 537.13,181.2 537.72,180.45 538.32,179.7 538.91,178.95 539.51,178.19 540.1,177.44 540.7,176.69 541.29,175.93 541.89,175.18 542.48,174.43 543.08,173.67 543.67,172.92 544.08,172.4 556.8,172.4 556.4,172.92 555.81,173.67 555.21,174.43 554.62,175.18 554.03,175.93 553.43,176.69 552.84,177.44 552.25,178.19 551.65,178.95 551.06,179.7 550.47,180.45 549.87,181.2 549.28,181.96 548.69,182.71 548.09,183.46 547.5,184.21 547.32,184.44" fill="#2c2cff"/>
<polygon points="553.54,160.37 553.79,160.05 554.38,159.3 554.97,158.54 555.57,157.78 556.16,157.02 556.76,156.26 557.35,155.5 557.95,154.74 558.54,153.98 559.14,153.22 559.73,152.46 560.33,151.7 560.92,150.94 561.52,150.18 562.11,149.41 562.71,148.65 562.96,148.33 575.64,148.33 575.39,148.65 574.8,149.41 574.2,150.18 573.61,150.94 573.02,151.7 572.42,152.46 571.83,153.22 571.24,153.98 570.64,154.74 570.05,155.5 569.45,156.26 568.86,157.02 568.27,157.78 567.67,158.54 567.08,159.3 566.49,160.05 566.24,160.37" fill="#2c2cff"/>
<polygon points="572.34,136.3 572.82,135.68 573.41,134.92 574.01,134.15 574.6,133.39 575.2,132.62 575.79,131.86 576.38,131.09 576.98,130.32 577.57,129.56 578.17,128.79 578.76,128.03 579.36,127.26 579.95,126.49 580.55,125.73 581.14,124.96 581.69,124.26 594.34,124.26 593.79,124.96 593.2,125.73 592.61,126.49 592.01,127.26 591.42,128.03 590.82,128.79 590.23,129.56 589.64,130.32 589.04,131.09 588.45,131.86 587.86,132.62 587.26,133.39 586.67,134.15 586.08,134.92 585.48,135.68 585,136.3" fill="#2c2cff"/>
<polygon points="591.01,112.22 591.25,111.91 591.84,111.14 592.44,110.37 593.03,109.6 593.63,108.84 594.22,108.07 594.82,107.3 595.41,106.53 596,105.76 596.6,104.99 597.19,104.22 597.79,103.45 598.38,102.68 598.98,101.91 599.57,101.14 600.16,100.37 600.31,100.19 612.94,100.19 612.8,100.37 612.2,101.14 611.61,101.91 611.01,102.68 610.42,103.45 609.83,104.22 609.23,104.99 608.64,105.76 608.04,106.53 607.45,107.3 606.86,108.07 606.26,108.84 605.67,109.6 605.07,110.37 604.48,111.14 603.89,111.91 603.65,112.22" fill="#2c2cff"/>
<polygon points="609.59,88.15 609.67,88.04 610.27,87.27 610.86,86.5 611.46,85.72 612.05,84.95 612.65,84.18 613.24,83.41 613.83,82.64 614.43,81.87 615.02,81.1 615.62,80.32 616.21,79.55 616.81,78.78 617.4,78.01 617.99,77.24 618.59,76.46 618.86,76.11 631.48,76.11 631.21,76.46 630.61,77.24 630.02,78.01 629.43,78.78 628.83,79.55 628.24,80.32 627.64,81.1 627.05,81.87 626.46,82.64 625.86,83.41 625.27,84.18 624.67,84.95 624.08,85.72 623.49,86.5 622.89,87.27 622.3,88.04 622.21,88.15" fill="#2c2cff"/>
<polygon points="628.12,64.08 628.69,63.34 629.28,62.57 629.88,61.79 630.47,61.02 631.07,60.25 631.66,59.48 632.26,58.7 632.85,57.93 633.44,57.16 634.04,56.39 634.63,55.61 635.23,54.84 635.82,54.07 636.41,53.3 637.01,52.53 637.38,52.04 650,52.04 649.63,52.53 649.03,53.3 648.44,54.07 647.84,54.84 647.25,55.61 646.65,56.39 646.06,57.16 645.47,57.93 644.87,58.7 644.28,59.48 643.68,60.25 643.09,61.02 642.5,61.79 641.9,62.57 641.31,63.34 640.74,64.08" fill="#2c2cff"/>
<polygon points="646.64,40.01 647.11,39.4 647.7,38.63 648.3,37.86 648.89,37.09 649.48,36.31 650.08,35.54 650.67,34.77 651.27,34 651.86,33.23 652.45,32.46 653.05,31.69 653.64,30.92 654.24,30.14 654.83,29.37 655.42,28.6 655.91,27.97 668.54,27.97 668.05,28.6 667.45,29.37 666.86,30.14 666.27,30.92 665.67,31.69 665.08,32.46 664.48,33.23 663.89,34 663.29,34.77 662.7,35.54 662.11,36.31 661.51,37.09 660.92,37.86 660.32,38.63 659.73,39.4 659.26,40.01" fill="#2c2cff"/>
<polygon points="665.19,15.93 665.52,15.51 666.11,14.74 666.71,13.97 667.3,13.2 667.9,12.43 668.49,11.66 669.08,10.89 669.68,10.12 670.27,9.35 670.86,8.58 671.46,7.81 672.05,7.05 672.65,6.28 673.24,5.51 673.83,4.74 686.48,4.74 685.88,5.51 685.29,6.28 684.69,7.05 684.1,7.81 683.5,8.58 682.91,9.35 682.31,10.12 681.72,10.89 681.13,11.66 680.53,12.43 679.94,13.2 679.34,13.97 678.75,14.74 678.15,15.51 677.82,15.93" fill="#2c2cff"/>
<polygon points="86.6,539.3 87.19,539.3 87.79,539.3 88.38,539.29 88.98,539.29 89.57,539.28 90.16,539.27 90.76,539.26 91.35,539.25 91.95,539.24 92.54,539.23 93.14,539.21 93.73,539.19 94.32,539.18 94.92,539.16 95.51,539.14 96.11,539.11 96.7,539.09 97.29,539.06 97.89,539.04 98.48,539.01 98.64,539 98.64,549.01 98.48,549.02 97.89,549.05 97.29,549.07 96.7,549.1 96.11,549.12 95.51,549.14 94.92,549.16 94.32,549.18 93.73,549.2 93.14,549.22 92.54,549.23 91.95,549.24 91.35,549.25 90.76,549.27 90.16,549.27 89.57,549.28 88.98,549.29 88.38,549.29 87.79,549.3 87.19,549.3 86.6,549.3" fill="#2c2cff"/>
<polygon points="110.67,538.12 110.96,538.09 111.55,538.03 112.15,537.97 112.74,537.91 113.34,537.84 113.93,537.78 114.52,537.71 115.12,537.64 115.71,537.58 116.31,537.51 116.9,537.43 117.5,537.36 118.09,537.29 118.68,537.21 119.28,537.13 119.87,537.05 120.47,536.98 121.06,536.89 121.65,536.81 122.25,536.73 122.71,536.66 122.71,546.76 122.25,546.82 121.65,546.91 121.06,546.98 120.47,547.06 119.87,547.14 119.28,547.22 118.68,547.29 118.09,547.36 117.5,547.43 116.9,547.5 116.31,547.57 115.71,547.64 115.12,547.71 114.52,547.77 113.93,547.84 113.34,547.9 112.74,547.96 112.15,548.02 111.55,548.08 110.96,548.13 110.67,548.16" fill="#2c2cff"/>
<polygon points="134.74,534.66 135.32,534.55 135.91,534.43 136.51,534.32 137.1,534.2 137.7,534.08 138.29,533.96 138.89,533.84 139.48,533.72 140.07,533.6 140.67,533.47 141.26,533.34 141.86,533.22 142.45,533.09 143.04,532.96 143.64,532.83 144.23,532.7 144.83,532.56 145.42,532.43 146.01,532.29 146.61,532.15 146.78,532.11 146.78,542.37 146.61,542.41 146.01,542.54 145.42,542.68 144.83,542.81 144.23,542.93 143.64,543.06 143.04,543.19 142.45,543.31 141.86,543.44 141.26,543.56 140.67,543.68 140.07,543.8 139.48,543.92 138.89,544.04 138.29,544.16 137.7,544.27 137.1,544.39 136.51,544.5 135.91,544.61 135.32,544.72 134.74,544.83" fill="#2c2cff"/>
<polygon points="158.82,529.05 159.09,528.98 159.68,528.81 160.27,528.65 160.87,528.48 161.46,528.31 162.06,528.14 162.65,527.97 163.25,527.8 163.84,527.63 164.43,527.45 165.03,527.28 165.62,527.1 166.22,526.92 166.81,526.74 167.4,526.56 168,526.38 168.59,526.2 169.19,526.01 169.78,525.83 170.37,525.64 170.85,525.49 170.85,535.96 170.37,536.11 169.78,536.29 169.19,536.47 168.59,536.65 168,536.83 167.4,537 166.81,537.18 166.22,537.35 165.62,537.52 165.03,537.69 164.43,537.86 163.84,538.03 163.25,538.2 162.65,538.37 162.06,538.53 161.46,538.7 160.87,538.86 160.27,539.02 159.68,539.18 159.09,539.34 158.82,539.41" fill="#2c2cff"/>
<polygon points="182.89,521.44 183.45,521.24 184.04,521.03 184.63,520.81 185.23,520.6 185.82,520.38 186.42,520.16 187.01,519.94 187.61,519.72 188.2,519.5 188.79,519.28 189.39,519.06 189.98,518.83 190.58,518.61 191.17,518.38 191.76,518.15 192.36,517.92 192.95,517.69 193.55,517.46 194.14,517.23 194.74,517 194.92,516.92 194.92,527.65 194.74,527.72 194.14,527.95 193.55,528.18 192.95,528.4 192.36,528.62 191.76,528.85 191.17,529.07 190.58,529.29 189.98,529.51 189.39,529.73 188.79,529.94 188.2,530.16 187.61,530.37 187.01,530.59 186.42,530.8 185.82,531.01 185.23,531.22 184.63,531.43 184.04,531.64 183.45,531.85 182.89,532.04" fill="#2c2cff"/>
<polygon points="206.96,511.95 207.21,511.84 207.81,511.58 208.4,511.32 208.99,511.06 209.59,510.8 210.18,510.54 210.78,510.28 211.37,510.01 211.97,509.75 212.56,509.48 213.15,509.22 213.75,508.95 214.34,508.68 214.94,508.41 215.53,508.14 216.12,507.86 216.72,507.59 217.31,507.32 217.91,507.04 218.5,506.77 219,506.53 219,517.55 218.5,517.77 217.91,518.04 217.31,518.31 216.72,518.58 216.12,518.84 215.53,519.11 214.94,519.37 214.34,519.64 213.75,519.9 213.15,520.16 212.56,520.42 211.97,520.68 211.37,520.93 210.78,521.19 210.18,521.45 209.59,521.7 208.99,521.96 208.4,522.21 207.81,522.46 207.21,522.71 206.96,522.82" fill="#2c2cff"/>
<polygon points="231.03,500.7 231.57,500.43 232.17,500.13 232.76,499.83 233.35,499.52 233.95,499.22 234.54,498.92 235.14,498.61 235.73,498.31 236.33,498 236.92,497.69 237.51,497.38 238.11,497.07 238.7,496.76 239.3,496.45 239.89,496.14 240.48,495.83 241.08,495.51 241.67,495.2 242.27,494.88 242.86,494.56 243.07,494.45 243.07,505.77 242.86,505.87 242.27,506.18 241.67,506.49 241.08,506.8 240.48,507.11 239.89,507.41 239.3,507.72 238.7,508.02 238.11,508.33 237.51,508.63 236.92,508.93 236.33,509.23 235.73,509.53 235.14,509.83 234.54,510.12 233.95,510.42 233.35,510.71 232.76,511.01 232.17,511.3 231.57,511.59 231.03,511.86" fill="#2c2cff"/>
<polygon points="255.11,487.81 255.34,487.68 255.93,487.34 256.53,487 257.12,486.66 257.71,486.32 258.31,485.98 258.9,485.64 259.5,485.3 260.09,484.95 260.69,484.61 261.28,484.26 261.87,483.91 262.47,483.56 263.06,483.22 263.66,482.87 264.25,482.52 264.84,482.16 265.44,481.81 266.03,481.46 266.63,481.1 267.14,480.8 267.14,492.42 266.63,492.72 266.03,493.06 265.44,493.41 264.84,493.75 264.25,494.1 263.66,494.44 263.06,494.78 262.47,495.13 261.87,495.47 261.28,495.81 260.69,496.14 260.09,496.48 259.5,496.82 258.9,497.15 258.31,497.49 257.71,497.82 257.12,498.16 256.53,498.49 255.93,498.82 255.34,499.15 255.11,499.28" fill="#2c2cff"/>
<polygon points="279.18,473.41 279.7,473.09 280.29,472.71 280.89,472.34 281.48,471.96 282.07,471.58 282.67,471.21 283.26,470.83 283.86,470.45 284.45,470.07 285.05,469.69 285.64,469.31 286.23,468.92 286.83,468.54 287.42,468.15 288.02,467.77 288.61,467.38 289.2,467 289.8,466.61 290.39,466.22 290.99,465.83 291.21,465.68 291.21,477.61 290.99,477.76 290.39,478.14 289.8,478.52 289.2,478.9 288.61,479.28 288.02,479.66 287.42,480.03 286.83,480.41 286.23,480.79 285.64,481.16 285.05,481.54 284.45,481.91 283.86,482.28 283.26,482.66 282.67,483.03 282.07,483.4 281.48,483.77 280.89,484.13 280.29,484.5 279.7,484.87 279.18,485.19" fill="#2c2cff"/>
<polygon points="303.25,457.61 303.46,457.47 304.06,457.06 304.65,456.65 305.25,456.24 305.84,455.84 306.43,455.43 307.03,455.01 307.62,454.6 308.22,454.19 308.81,453.78 309.41,453.36 310,452.95 310.59,452.53 311.19,452.12 311.78,451.7 312.38,451.28 312.97,450.86 313.56,450.44 314.16,450.02 314.75,449.6 315.29,449.23 315.29,461.45 314.75,461.83 314.16,462.24 313.56,462.65 312.97,463.06 312.38,463.47 311.78,463.89 311.19,464.29 310.59,464.7 310,465.11 309.41,465.52 308.81,465.93 308.22,466.33 307.62,466.74 307.03,467.14 306.43,467.54 305.84,467.95 305.25,468.35 304.65,468.75 304.06,469.15 303.46,469.55 303.25,469.69" fill="#2c2cff"/>
<polygon points="327.32,440.53 327.82,440.16 328.42,439.72 329.01,439.28 329.61,438.84 330.2,438.4 330.8,437.96 331.39,437.52 331.98,437.08 332.58,436.64 333.17,436.19 333.77,435.75 334.36,435.3 334.95,434.86 335.55,434.41 336.14,433.97 336.74,433.52 337.33,433.07 337.92,432.62 338.52,432.17 339.11,431.72 339.36,431.53 339.36,444.05 339.11,444.24 338.52,444.68 337.92,445.12 337.33,445.56 336.74,446.01 336.14,446.45 335.55,446.89 334.95,447.33 334.36,447.76 333.77,448.2 333.17,448.64 332.58,449.07 331.98,449.51 331.39,449.95 330.8,450.38 330.2,450.81 329.61,451.25 329.01,451.68 328.42,452.11 327.82,452.54 327.32,452.9" fill="#2c2cff"/>
<polygon points="351.39,422.26 351.59,422.11 352.18,421.64 352.78,421.18 353.37,420.71 353.97,420.24 354.56,419.78 355.16,419.31 355.75,418.84 356.34,418.37 356.94,417.9 357.53,417.43 358.13,416.96 358.72,416.49 359.31,416.01 359.91,415.54 360.5,415.06 361.1,414.59 361.69,414.11 362.28,413.64 362.88,413.16 363.43,412.72 363.43,425.51 362.88,425.95 362.28,426.42 361.69,426.89 361.1,427.36 360.5,427.83 359.91,428.29 359.31,428.76 358.72,429.23 358.13,429.69 357.53,430.16 356.94,430.62 356.34,431.08 355.75,431.55 355.16,432.01 354.56,432.47 353.97,432.93 353.37,433.39 352.78,433.85 352.18,434.31 351.59,434.77 351.39,434.92" fill="#2c2cff"/>
<polygon points="375.47,402.92 375.95,402.52 376.54,402.03 377.14,401.54 377.73,401.05 378.33,400.56 378.92,400.07 379.52,399.57 380.11,399.08 380.7,398.58 381.3,398.09 381.89,397.59 382.49,397.1 383.08,396.6 383.67,396.1 384.27,395.6 384.86,395.11 385.46,394.61 386.05,394.11 386.65,393.61 387.24,393.11 387.5,392.88 387.5,405.94 387.24,406.15 386.65,406.65 386.05,407.14 385.46,407.64 384.86,408.13 384.27,408.62 383.67,409.11 383.08,409.61 382.49,410.1 381.89,410.59 381.3,411.08 380.7,411.56 380.11,412.05 379.52,412.54 378.92,413.03 378.33,413.51 377.73,414 377.14,414.49 376.54,414.97 375.95,415.45 375.47,415.85" fill="#2c2cff"/>
<polygon points="399.54,382.62 399.72,382.46 400.31,381.95 400.9,381.44 401.5,380.92 402.09,380.41 402.69,379.89 403.28,379.38 403.88,378.86 404.47,378.35 405.06,377.83 405.66,377.31 406.25,376.79 406.85,376.28 407.44,375.76 408.03,375.24 408.63,374.72 409.22,374.2 409.82,373.68 410.41,373.15 411.01,372.63 411.57,372.13 411.57,385.42 411.01,385.91 410.41,386.43 409.82,386.95 409.22,387.46 408.63,387.98 408.03,388.49 407.44,389.01 406.85,389.52 406.25,390.03 405.66,390.54 405.06,391.06 404.47,391.57 403.88,392.08 403.28,392.59 402.69,393.1 402.09,393.61 401.5,394.11 400.9,394.62 400.31,395.13 399.72,395.64 399.54,395.79" fill="#2c2cff"/>
<polygon points="423.61,361.44 424.08,361.02 424.67,360.49 425.26,359.96 425.86,359.42 426.45,358.89 427.05,358.35 427.64,357.82 428.24,357.28 428.83,356.75 429.42,356.21 430.02,355.67 430.61,355.13 431.21,354.6 431.8,354.06 432.39,353.52 432.99,352.98 433.58,352.44 434.18,351.9 434.77,351.36 435.37,350.82 435.65,350.56 435.65,364.06 435.37,364.32 434.77,364.85 434.18,365.39 433.58,365.92 432.99,366.46 432.39,366.99 431.8,367.53 431.21,368.06 430.61,368.59 430.02,369.13 429.42,369.66 428.83,370.19 428.24,370.72 427.64,371.25 427.05,371.78 426.45,372.31 425.86,372.84 425.26,373.37 424.67,373.9 424.08,374.43 423.61,374.84" fill="#2c2cff"/>
<polygon points="447.68,339.5 447.84,339.35 448.44,338.8 449.03,338.25 449.62,337.69 450.22,337.14 450.81,336.59 451.41,336.04 452,335.48 452.6,334.93 453.19,334.38 453.78,333.82 454.38,333.27 454.97,332.71 455.57,332.16 456.16,331.6 456.75,331.05 457.35,330.49 457.94,329.93 458.54,329.37 459.13,328.82 459.72,328.26 459.72,341.96 459.13,342.51 458.54,343.06 457.94,343.62 457.35,344.17 456.75,344.72 456.16,345.27 455.57,345.82 454.97,346.37 454.38,346.92 453.78,347.47 453.19,348.02 452.6,348.57 452,349.12 451.41,349.67 450.81,350.22 450.22,350.77 449.62,351.31 449.03,351.86 448.44,352.41 447.84,352.95 447.68,353.1" fill="#2c2cff"/>
<polygon points="471.76,316.88 472.2,316.45 472.8,315.88 473.39,315.32 473.98,314.75 474.58,314.18 475.17,313.61 475.77,313.05 476.36,312.48 476.96,311.91 477.55,311.34 478.14,310.77 478.74,310.2 479.33,309.63 479.93,309.06 480.52,308.49 481.11,307.92 481.71,307.35 482.3,306.78 482.9,306.2 483.49,305.63 483.79,305.34 483.79,319.21 483.49,319.5 482.9,320.06 482.3,320.63 481.71,321.2 481.11,321.77 480.52,322.34 479.93,322.9 479.33,323.47 478.74,324.03 478.14,324.6 477.55,325.17 476.96,325.73 476.36,326.3 475.77,326.86 475.17,327.42 474.58,327.99 473.98,328.55 473.39,329.11 472.8,329.68 472.2,330.24 471.76,330.66" fill="#2c2cff"/>
<polygon points="495.83,293.67 495.97,293.54 496.56,292.96 497.16,292.38 497.75,291.8 498.34,291.22 498.94,290.64 499.53,290.06 500.13,289.48 500.72,288.89 501.32,288.31 501.91,287.73 502.5,287.15 503.1,286.57 503.69,285.98 504.29,285.4 504.88,284.82 505.47,284.23 506.07,283.65 506.66,283.06 507.26,282.48 507.85,281.9 507.86,281.88 507.86,295.9 507.85,295.91 507.26,296.49 506.66,297.07 506.07,297.65 505.47,298.23 504.88,298.81 504.29,299.39 503.69,299.97 503.1,300.55 502.5,301.13 501.91,301.71 501.32,302.29 500.72,302.87 500.13,303.44 499.53,304.02 498.94,304.6 498.34,305.18 497.75,305.75 497.16,306.33 496.56,306.9 495.97,307.48 495.83,307.62" fill="#2c2cff"/>
<polygon points="519.9,269.98 520.33,269.55 520.92,268.96 521.52,268.37 522.11,267.78 522.71,267.19 523.3,266.6 523.89,266.01 524.49,265.42 525.08,264.82 525.68,264.23 526.27,263.64 526.86,263.05 527.46,262.45 528.05,261.86 528.65,261.27 529.24,260.67 529.83,260.08 530.43,259.49 531.02,258.89 531.62,258.3 531.94,257.98 531.94,272.11 531.62,272.43 531.02,273.02 530.43,273.61 529.83,274.2 529.24,274.8 528.65,275.39 528.05,275.98 527.46,276.57 526.86,277.16 526.27,277.75 525.68,278.34 525.08,278.93 524.49,279.52 523.89,280.11 523.3,280.69 522.71,281.28 522.11,281.87 521.52,282.46 520.92,283.05 520.33,283.63 519.9,284.06" fill="#2c2cff"/>
<polygon points="536.89,253.01 537.05,252.85 537.64,252.26 538.24,251.66 538.83,251.06 539.43,250.46 540.02,249.86 540.62,249.26 541.21,248.66 541.81,248.06 542.4,247.46 543,246.87 543.59,246.27 544.19,245.67 544.78,245.06 545.38,244.46 545.97,243.86 546.57,243.26 547.16,242.66 547.76,242.06 548.36,241.46 548.84,240.97 562.89,240.97 562.41,241.46 561.82,242.06 561.23,242.66 560.63,243.26 560.04,243.86 559.45,244.46 558.85,245.06 558.26,245.67 557.67,246.27 557.07,246.87 556.48,247.46 555.89,248.06 555.29,248.66 554.7,249.26 554.11,249.86 553.52,250.46 552.92,251.06 552.33,251.66 551.74,252.26 551.14,252.85 550.99,253.01" fill="#2c2cff"/>
<polygon points="560.71,228.94 560.85,228.79 561.45,228.19 562.04,227.58 562.64,226.98 563.23,226.37 563.83,225.76 564.42,225.16 565.02,224.55 565.61,223.95 566.21,223.34 566.8,222.73 567.4,222.13 567.99,221.52 568.59,220.91 569.18,220.31 569.78,219.7 570.37,219.09 570.97,218.49 571.56,217.88 572.16,217.27 572.52,216.9 586.5,216.9 586.14,217.27 585.55,217.88 584.96,218.49 584.36,219.09 583.77,219.7 583.18,220.31 582.58,220.91 581.99,221.52 581.4,222.13 580.8,222.73 580.21,223.34 579.62,223.95 579.02,224.55 578.43,225.16 577.84,225.76 577.24,226.37 576.65,226.98 576.06,227.58 575.46,228.19 574.87,228.79 574.73,228.94" fill="#2c2cff"/>
<polygon points="584.28,204.86 584.65,204.49 585.24,203.88 585.84,203.27 586.43,202.66 587.03,202.05 587.62,201.44 588.21,200.82 588.81,200.21 589.4,199.6 590,198.99 597.57,191.21 598.16,190.6 598.76,189.99 599.35,189.37 599.94,188.76 600.54,188.15 601.13,187.54 601.73,186.93 602.32,186.31 602.92,185.7 602.96,185.65 602.96,200.01 602.92,200.06 602.32,200.67 601.73,201.28 601.13,201.89 600.54,202.5 599.94,203.11 599.35,203.72 598.76,204.33 598.16,204.94 597.57,205.55 603.95,198.99 603.35,199.6 602.76,200.21 602.17,200.82 601.57,201.44 600.98,202.05 600.39,202.66 599.79,203.27 599.2,203.88 598.61,204.49 598.24,204.86" fill="#2c2cff"/>
<polygon points="614.64,173.61 614.8,173.44 615.39,172.83 615.99,172.22 616.58,171.6 617.17,170.99 617.77,170.38 618.36,169.76 618.96,169.15 619.55,168.54 620.15,167.92 620.74,167.31 621.33,166.69 621.93,166.08 622.52,165.47 623.12,164.85 623.71,164.24 624.3,163.62 624.9,163.01 625.49,162.4 626.09,161.78 626.3,161.57 626.3,175.95 626.09,176.16 625.49,176.78 624.9,177.39 624.3,178 623.71,178.62 623.12,179.23 622.52,179.84 621.93,180.46 621.33,181.07 620.74,181.68 620.15,182.3 619.55,182.91 618.96,183.52 618.36,184.14 617.77,184.75 617.17,185.36 616.58,185.98 615.99,186.59 615.39,187.2 614.8,187.81 614.64,187.98" fill="#2c2cff"/>
<polygon points="630.98,156.72 631.01,156.69 631.61,156.07 632.2,155.46 632.8,154.84 633.39,154.23 633.99,153.61 634.58,153 635.17,152.38 635.77,151.77 636.36,151.16 636.96,150.54 637.55,149.93 638.14,149.31 638.74,148.7 639.33,148.08 639.93,147.47 640.52,146.85 641.12,146.24 641.71,145.62 642.3,145.01 642.62,144.68 656.53,144.68 656.21,145.01 655.62,145.62 655.03,146.24 654.43,146.85 653.84,147.47 653.24,148.08 652.65,148.7 652.05,149.31 651.46,149.93 650.87,150.54 650.27,151.16 649.68,151.77 649.08,152.38 648.49,153 647.9,153.61 647.3,154.23 646.71,154.84 646.11,155.46 645.52,156.07 644.92,156.69 644.89,156.72" fill="#2c2cff"/>
<polygon points="654.26,132.65 654.78,132.11 655.37,131.49 655.97,130.88 656.56,130.27 657.15,129.65 657.75,129.04 658.34,128.42 658.94,127.81 659.53,127.2 660.12,126.58 660.72,125.97 661.31,125.36 661.91,124.74 662.5,124.13 663.09,123.51 663.69,122.9 664.28,122.29 664.88,121.67 665.47,121.06 665.9,120.61 679.83,120.61 679.39,121.06 678.8,121.67 678.2,122.29 677.61,122.9 677.01,123.51 676.42,124.13 675.83,124.74 675.23,125.36 674.64,125.97 674.04,126.58 673.45,127.2 672.85,127.81 672.26,128.42 671.66,129.04 671.07,129.65 670.48,130.27 669.88,130.88 669.29,131.49 668.69,132.11 668.17,132.65" fill="#2c2cff"/>
<polygon points="86.6,539.3 87.19,539.3 87.79,539.3 88.38,539.29 88.98,539.29 89.57,539.28 90.16,539.28 90.76,539.27 91.35,539.26 91.95,539.25 92.54,539.23 93.14,539.22 93.73,539.2 94.32,539.19 94.92,539.17 95.51,539.15 96.11,539.13 96.7,539.11 97.29,539.08 97.89,539.06 98.48,539.03 98.66,539.03 98.66,549.04 98.48,549.04 97.89,549.07 97.29,549.09 96.7,549.11 96.11,549.14 95.51,549.16 94.92,549.17 94.32,549.19 93.73,549.21 93.14,549.22 92.54,549.24 91.95,549.25 91.35,549.26 90.76,549.27 90.16,549.28 89.57,549.28 88.98,549.29 88.38,549.29 87.79,549.3 87.19,549.3 86.6,549.3" fill="#2c2cff"/>
<polygon points="110.73,538.21 110.96,538.19 111.55,538.14 112.15,538.08 112.74,538.03 113.34,537.97 113.93,537.91 114.52,537.85 115.12,537.79 115.71,537.73 116.31,537.66 116.9,537.6 117.5,537.53 118.09,537.46 118.68,537.4 119.28,537.32 119.87,537.25 120.47,537.18 121.06,537.11 121.65,537.03 122.25,536.96 122.79,536.89 122.79,546.97 122.25,547.04 121.65,547.11 121.06,547.18 120.47,547.25 119.87,547.32 119.28,547.39 118.68,547.46 118.09,547.53 117.5,547.59 116.9,547.66 116.31,547.72 115.71,547.78 115.12,547.84 114.52,547.9 113.93,547.96 113.34,548.02 112.74,548.07 112.15,548.13 111.55,548.18 110.96,548.23 110.73,548.25" fill="#2c2cff"/>
<polygon points="134.85,535.06 135.32,534.98 135.91,534.87 136.51,534.77 137.1,534.66 137.7,534.55 138.29,534.45 138.89,534.34 139.48,534.23 140.07,534.11 140.67,534 141.26,533.89 141.86,533.77 142.45,533.66 143.04,533.54 143.64,533.42 144.23,533.3 144.83,533.18 145.42,533.06 146.01,532.93 146.61,532.81 146.91,532.75 146.91,542.96 146.61,543.02 146.01,543.14 145.42,543.26 144.83,543.38 144.23,543.5 143.64,543.61 143.04,543.73 142.45,543.84 141.86,543.95 141.26,544.07 140.67,544.18 140.07,544.29 139.48,544.39 138.89,544.5 138.29,544.61 137.7,544.71 137.1,544.82 136.51,544.92 135.91,545.02 135.32,545.12 134.85,545.2" fill="#2c2cff"/>
<polygon points="158.98,529.97 159.09,529.94 159.68,529.79 160.27,529.64 160.87,529.49 161.46,529.34 162.06,529.19 162.65,529.03 163.25,528.88 163.84,528.72 164.43,528.56 165.03,528.41 165.62,528.25 166.22,528.09 166.81,527.92 167.4,527.76 168,527.6 168.59,527.43 169.19,527.27 169.78,527.1 170.37,526.93 170.97,526.76 171.04,526.74 171.04,537.13 170.97,537.15 170.37,537.32 169.78,537.48 169.19,537.64 168.59,537.8 168,537.96 167.4,538.12 166.81,538.28 166.22,538.44 165.62,538.59 165.03,538.75 164.43,538.9 163.84,539.05 163.25,539.21 162.65,539.36 162.06,539.51 161.46,539.66 160.87,539.8 160.27,539.95 159.68,540.09 159.09,540.24 158.98,540.27" fill="#2c2cff"/>
<polygon points="183.1,523.09 183.45,522.98 184.04,522.79 184.63,522.59 185.23,522.4 185.82,522.21 186.42,522.01 187.01,521.81 187.61,521.62 188.2,521.42 188.79,521.22 189.39,521.02 189.98,520.82 190.58,520.61 191.17,520.41 191.76,520.21 192.36,520 192.95,519.8 193.55,519.59 194.14,519.38 194.74,519.17 195.16,519.02 195.16,529.61 194.74,529.76 194.14,529.96 193.55,530.17 192.95,530.37 192.36,530.57 191.76,530.77 191.17,530.97 190.58,531.17 189.98,531.36 189.39,531.56 188.79,531.76 188.2,531.95 187.61,532.14 187.01,532.34 186.42,532.53 185.82,532.72 185.23,532.91 184.63,533.1 184.04,533.28 183.45,533.47 183.1,533.58" fill="#2c2cff"/>
<polygon points="207.23,514.55 207.81,514.32 208.4,514.09 208.99,513.86 209.59,513.63 210.18,513.4 210.78,513.16 211.37,512.92 211.97,512.69 212.56,512.45 213.15,512.21 213.75,511.97 214.34,511.73 214.94,511.49 215.53,511.25 216.12,511.01 216.72,510.76 217.31,510.52 217.91,510.27 218.5,510.03 219.1,509.78 219.29,509.7 219.29,520.52 219.1,520.6 218.5,520.84 217.91,521.08 217.31,521.32 216.72,521.56 216.12,521.8 215.53,522.03 214.94,522.27 214.34,522.5 213.75,522.74 213.15,522.97 212.56,523.21 211.97,523.44 211.37,523.67 210.78,523.9 210.18,524.13 209.59,524.36 208.99,524.58 208.4,524.81 207.81,525.03 207.23,525.25" fill="#2c2cff"/>
<polygon points="231.35,504.48 231.57,504.38 232.17,504.11 232.76,503.85 233.35,503.58 233.95,503.31 234.54,503.04 235.14,502.77 235.73,502.5 236.33,502.22 236.92,501.95 237.51,501.68 238.11,501.4 238.7,501.12 239.3,500.85 239.89,500.57 240.48,500.29 241.08,500.01 241.67,499.73 242.27,499.45 242.86,499.17 243.42,498.91 243.42,509.96 242.86,510.22 242.27,510.49 241.67,510.77 241.08,511.04 240.48,511.32 239.89,511.59 239.3,511.86 238.7,512.13 238.11,512.4 237.51,512.67 236.92,512.94 236.33,513.21 235.73,513.47 235.14,513.74 234.54,514 233.95,514.27 233.35,514.53 232.76,514.79 232.17,515.06 231.57,515.32 231.35,515.41" fill="#2c2cff"/>
<polygon points="255.48,493 255.93,492.77 256.53,492.47 257.12,492.17 257.71,491.86 258.31,491.56 258.9,491.26 259.5,490.96 260.09,490.65 260.69,490.34 261.28,490.04 261.87,489.73 262.47,489.42 263.06,489.11 263.66,488.81 264.25,488.5 264.84,488.18 265.44,487.87 266.03,487.56 266.63,487.25 267.22,486.93 267.54,486.76 267.54,498.06 267.22,498.22 266.63,498.53 266.03,498.84 265.44,499.15 264.84,499.45 264.25,499.76 263.66,500.06 263.06,500.36 262.47,500.67 261.87,500.97 261.28,501.27 260.69,501.57 260.09,501.87 259.5,502.17 258.9,502.47 258.31,502.76 257.71,503.06 257.12,503.36 256.53,503.65 255.93,503.95 255.48,504.17" fill="#2c2cff"/>
<polygon points="279.6,480.22 279.7,480.17 280.29,479.84 280.89,479.51 281.48,479.18 282.07,478.85 282.67,478.51 283.26,478.18 283.86,477.84 284.45,477.51 285.05,477.17 285.64,476.84 286.23,476.5 286.83,476.16 287.42,475.82 288.02,475.49 288.61,475.15 289.2,474.8 289.8,474.46 290.39,474.12 290.99,473.78 291.58,473.44 291.67,473.39 291.67,484.92 291.58,484.96 290.99,485.3 290.39,485.64 289.8,485.97 289.2,486.31 288.61,486.64 288.02,486.98 287.42,487.31 286.83,487.65 286.23,487.98 285.64,488.31 285.05,488.64 284.45,488.97 283.86,489.3 283.26,489.63 282.67,489.95 282.07,490.28 281.48,490.61 280.89,490.93 280.29,491.26 279.7,491.58 279.6,491.63" fill="#2c2cff"/>
<polygon points="303.73,466.27 304.06,466.07 304.65,465.71 305.25,465.35 305.84,464.99 306.43,464.63 307.03,464.27 307.62,463.91 308.22,463.55 308.81,463.19 309.41,462.83 310,462.46 310.59,462.1 311.19,461.73 311.78,461.37 312.38,461 312.97,460.63 313.56,460.27 314.16,459.9 314.75,459.53 315.35,459.16 315.79,458.88 315.79,470.64 315.35,470.91 314.75,471.28 314.16,471.64 313.56,472 312.97,472.36 312.38,472.73 311.78,473.09 311.19,473.45 310.59,473.81 310,474.17 309.41,474.52 308.81,474.88 308.22,475.24 307.62,475.59 307.03,475.95 306.43,476.3 305.84,476.66 305.25,477.01 304.65,477.37 304.06,477.72 303.73,477.91" fill="#2c2cff"/>
<polygon points="327.85,451.24 328.42,450.88 329.01,450.49 329.61,450.11 330.2,449.73 330.8,449.34 331.39,448.95 331.98,448.57 332.58,448.18 333.17,447.79 333.77,447.41 334.36,447.02 334.95,446.63 335.55,446.24 336.14,445.85 336.74,445.46 337.33,445.07 337.92,444.67 338.52,444.28 339.11,443.89 339.71,443.5 339.92,443.36 339.92,455.33 339.71,455.47 339.11,455.86 338.52,456.25 337.92,456.63 337.33,457.02 336.74,457.41 336.14,457.79 335.55,458.18 334.95,458.56 334.36,458.94 333.77,459.33 333.17,459.71 332.58,460.09 331.98,460.47 331.39,460.86 330.8,461.24 330.2,461.62 329.61,461.99 329.01,462.37 328.42,462.75 327.85,463.11" fill="#2c2cff"/>
<polygon points="351.98,435.24 352.18,435.1 352.78,434.7 353.37,434.29 353.97,433.88 354.56,433.48 355.16,433.07 355.75,432.66 356.34,432.25 356.94,431.84 357.53,431.43 358.13,431.02 358.72,430.61 359.31,430.2 359.91,429.79 360.5,429.38 361.1,428.96 361.69,428.55 362.28,428.14 362.88,427.72 363.47,427.31 364.04,426.91 364.04,439.09 363.47,439.48 362.88,439.89 362.28,440.3 361.69,440.71 361.1,441.12 360.5,441.53 359.91,441.94 359.31,442.34 358.72,442.75 358.13,443.15 357.53,443.56 356.94,443.96 356.34,444.37 355.75,444.77 355.16,445.18 354.56,445.58 353.97,445.98 353.37,446.38 352.78,446.78 352.18,447.18 351.98,447.32" fill="#2c2cff"/>
<polygon points="376.11,418.37 376.54,418.06 377.14,417.63 377.73,417.2 378.33,416.78 378.92,416.35 379.52,415.92 380.11,415.49 380.7,415.06 381.3,414.63 381.89,414.2 382.49,413.77 383.08,413.34 383.67,412.91 384.27,412.48 384.86,412.05 385.46,411.62 386.05,411.18 386.65,410.75 387.24,410.32 387.83,409.88 388.17,409.64 388.17,422.01 387.83,422.25 387.24,422.68 386.65,423.11 386.05,423.54 385.46,423.96 384.86,424.39 384.27,424.82 383.67,425.25 383.08,425.67 382.49,426.1 381.89,426.53 381.3,426.95 380.7,427.38 380.11,427.8 379.52,428.22 378.92,428.65 378.33,429.07 377.73,429.49 377.14,429.91 376.54,430.34 376.11,430.65" fill="#2c2cff"/>
<polygon points="400.23,400.72 400.31,400.66 400.9,400.22 401.5,399.77 402.09,399.33 402.69,398.88 403.28,398.44 403.88,397.99 404.47,397.54 405.06,397.1 405.66,396.65 406.25,396.2 406.85,395.75 407.44,395.31 408.03,394.86 408.63,394.41 409.22,393.96 409.82,393.51 410.41,393.06 411.01,392.61 411.6,392.16 412.19,391.7 412.29,391.63 412.29,404.17 412.19,404.25 411.6,404.69 411.01,405.14 410.41,405.59 409.82,406.03 409.22,406.48 408.63,406.92 408.03,407.37 407.44,407.81 406.85,408.26 406.25,408.7 405.66,409.15 405.06,409.59 404.47,410.03 403.88,410.47 403.28,410.92 402.69,411.36 402.09,411.8 401.5,412.24 400.9,412.68 400.31,413.12 400.23,413.18" fill="#2c2cff"/>
<polygon points="424.36,382.38 424.67,382.13 425.26,381.67 425.86,381.21 426.45,380.75 427.05,380.29 427.64,379.83 428.24,379.37 428.83,378.9 429.42,378.44 430.02,377.98 430.61,377.52 431.21,377.05 431.8,376.59 432.39,376.12 432.99,375.66 433.58,375.19 434.18,374.73 434.77,374.26 435.37,373.8 435.96,373.33 436.42,372.97 436.42,385.67 435.96,386.03 435.37,386.49 434.77,386.95 434.18,387.41 433.58,387.88 432.99,388.34 432.39,388.8 431.8,389.26 431.21,389.72 430.61,390.18 430.02,390.64 429.42,391.1 428.83,391.56 428.24,392.01 427.64,392.47 427.05,392.93 426.45,393.39 425.86,393.84 425.26,394.3 424.67,394.76 424.36,395" fill="#2c2cff"/>
<polygon points="448.48,363.42 449.03,362.99 449.62,362.51 450.22,362.04 450.81,361.56 451.41,361.09 452,360.61 452.6,360.14 453.19,359.66 453.78,359.19 454.38,358.71 454.97,358.23 455.57,357.76 456.16,357.28 456.75,356.8 457.35,356.32 457.94,355.84 458.54,355.37 459.13,354.89 459.73,354.41 460.32,353.93 460.54,353.75 460.54,366.58 460.32,366.76 459.73,367.24 459.13,367.72 458.54,368.19 457.94,368.67 457.35,369.14 456.75,369.62 456.16,370.09 455.57,370.56 454.97,371.04 454.38,371.51 453.78,371.99 453.19,372.46 452.6,372.93 452,373.4 451.41,373.88 450.81,374.35 450.22,374.82 449.62,375.29 449.03,375.76 448.48,376.19" fill="#2c2cff"/>
<polygon points="472.61,343.95 472.8,343.79 473.39,343.3 473.98,342.82 474.58,342.33 475.17,341.85 475.77,341.36 476.36,340.87 476.96,340.38 477.55,339.9 478.14,339.41 478.74,338.92 479.33,338.43 479.93,337.94 480.52,337.45 481.11,336.96 481.71,336.48 482.3,335.99 482.9,335.5 483.49,335 484.09,334.51 484.67,334.03 484.67,346.99 484.09,347.47 483.49,347.96 482.9,348.44 482.3,348.93 481.71,349.42 481.11,349.91 480.52,350.39 479.93,350.88 479.33,351.36 478.74,351.85 478.14,352.33 477.55,352.82 476.96,353.3 476.36,353.79 475.77,354.27 475.17,354.76 474.58,355.24 473.98,355.72 473.39,356.21 472.8,356.69 472.61,356.84" fill="#2c2cff"/>
<polygon points="496.73,324.01 497.16,323.66 497.75,323.16 498.34,322.67 498.94,322.17 499.53,321.67 500.13,321.18 500.72,320.68 501.32,320.18 501.91,319.68 502.5,319.19 503.1,318.69 503.69,318.19 504.29,317.69 504.88,317.19 505.47,316.69 506.07,316.19 506.66,315.69 507.26,315.19 507.85,314.69 508.45,314.19 508.8,313.9 508.8,326.96 508.45,327.25 507.85,327.75 507.26,328.25 506.66,328.75 506.07,329.24 505.47,329.74 504.88,330.24 504.29,330.73 503.69,331.23 503.1,331.73 502.5,332.22 501.91,332.72 501.32,333.21 500.72,333.71 500.13,334.2 499.53,334.7 498.94,335.19 498.34,335.69 497.75,336.18 497.16,336.67 496.73,337.02" fill="#2c2cff"/>
<polygon points="520.86,303.7 520.92,303.64 521.52,303.14 522.11,302.64 522.71,302.13 523.3,301.63 523.89,301.12 524.49,300.61 525.08,300.11 525.68,299.6 526.27,299.1 526.86,298.59 527.46,298.08 528.05,297.58 528.65,297.07 529.24,296.56 529.83,296.06 530.43,295.55 531.02,295.04 531.62,294.53 532.21,294.03 532.81,293.52 532.92,293.42 532.92,306.57 532.81,306.67 532.21,307.17 531.62,307.68 531.02,308.18 530.43,308.69 529.83,309.19 529.24,309.7 528.65,310.2 528.05,310.71 527.46,311.21 526.86,311.72 526.27,312.22 525.68,312.73 525.08,313.23 524.49,313.73 523.89,314.24 523.3,314.74 522.71,315.24 522.11,315.75 521.52,316.25 520.92,316.75 520.86,316.81" fill="#2c2cff"/>
<polygon points="544.98,283.07 545.28,282.81 545.88,282.3 546.47,281.79 547.07,281.28 547.66,280.76 548.25,280.25 548.85,279.74 549.44,279.23 550.04,278.71 550.63,278.2 551.22,277.69 551.82,277.18 552.41,276.66 553.01,276.15 553.6,275.64 554.19,275.12 554.79,274.61 555.38,274.09 555.98,273.58 556.57,273.07 557.05,272.65 557.05,285.87 556.57,286.28 555.98,286.8 555.38,287.31 554.79,287.82 554.19,288.33 553.6,288.84 553.01,289.36 552.41,289.87 551.82,290.38 551.22,290.89 550.63,291.4 550.04,291.91 549.44,292.42 548.85,292.94 548.25,293.45 547.66,293.96 547.07,294.47 546.47,294.98 545.88,295.49 545.28,296 544.98,296.25" fill="#2c2cff"/>
<polygon points="569.11,262.18 569.64,261.72 570.24,261.2 570.83,260.69 571.43,260.17 572.02,259.65 572.61,259.13 573.21,258.62 573.8,258.1 574.4,257.58 574.99,257.06 575.58,256.54 576.18,256.03 576.77,255.51 577.37,254.99 577.96,254.47 578.55,253.95 579.15,253.43 579.74,252.91 580.34,252.39 580.93,251.88 581.17,251.67 581.17,264.94 580.93,265.15 580.34,265.67 579.74,266.18 579.15,266.7 578.55,267.22 577.96,267.74 577.37,268.25 576.77,268.77 576.18,269.29 575.58,269.81 574.99,270.32 574.4,270.84 573.8,271.36 573.21,271.87 572.61,272.39 572.02,272.91 571.43,273.42 570.83,273.94 570.24,274.45 569.64,274.97 569.11,275.43" fill="#2c2cff"/>
<polygon points="593.23,241.1 593.41,240.95 594,240.43 594.6,239.91 595.19,239.39 595.79,238.87 596.38,238.34 596.97,237.82 597.57,237.3 598.16,236.78 598.76,236.26 599.35,235.73 599.94,235.21 600.54,234.69 601.13,234.17 601.73,233.65 602.32,233.12 602.92,232.6 603.51,232.08 604.1,231.56 604.7,231.03 605.29,230.51 605.3,230.51 605.3,243.82 605.29,243.83 604.7,244.35 604.1,244.87 603.51,245.39 602.92,245.91 602.32,246.43 601.73,246.96 601.13,247.48 600.54,248 599.94,248.52 599.35,249.04 598.76,249.56 598.16,250.08 597.57,250.6 596.97,251.12 596.38,251.65 595.79,252.17 595.19,252.69 594.6,253.21 594,253.73 593.41,254.25 593.23,254.4" fill="#2c2cff"/>
<polygon points="617.36,219.88 617.77,219.52 618.36,218.99 618.96,218.47 619.55,217.95 620.15,217.42 620.74,216.9 621.33,216.37 621.93,215.85 622.52,215.32 623.12,214.8 623.71,214.27 624.3,213.75 624.9,213.23 625.49,212.7 626.09,212.18 626.68,211.65 627.28,211.13 627.87,210.6 628.46,210.08 629.06,209.55 629.42,209.23 629.42,222.57 629.06,222.89 628.46,223.42 627.87,223.94 627.28,224.47 626.68,224.99 626.09,225.52 625.49,226.04 624.9,226.56 624.3,227.09 623.71,227.61 623.12,228.14 622.52,228.66 621.93,229.18 621.33,229.71 620.74,230.23 620.15,230.76 619.55,231.28 618.96,231.8 618.36,232.33 617.77,232.85 617.36,233.21" fill="#2c2cff"/>
<polygon points="641.49,198.56 641.53,198.52 642.13,197.99 642.72,197.46 643.32,196.94 643.91,196.41 644.51,195.89 645.1,195.36 645.69,194.83 646.29,194.31 646.88,193.78 647.48,193.26 648.07,192.73 648.66,192.2 649.26,191.68 649.85,191.15 650.45,190.63 651.04,190.1 651.64,189.57 652.23,189.05 652.82,188.52 653.42,187.99 653.55,187.88 653.55,201.24 653.42,201.35 652.82,201.88 652.23,202.4 651.64,202.93 651.04,203.46 650.45,203.98 649.85,204.51 649.26,205.03 648.66,205.56 648.07,206.09 647.48,206.61 646.88,207.14 646.29,207.66 645.69,208.19 645.1,208.71 644.51,209.24 643.91,209.77 643.32,210.29 642.72,210.82 642.13,211.34 641.53,211.87 641.49,211.91" fill="#2c2cff"/>
<polygon points="665.61,177.19 665.89,176.94 666.49,176.41 667.08,175.89 667.68,175.36 668.27,174.83 668.87,174.31 669.46,173.78 670.05,173.25 670.65,172.73 671.24,172.2 671.84,171.67 672.43,171.15 673.02,170.62 673.62,170.09 674.21,169.57 674.81,169.04 675.4,168.51 676,167.99 676.59,167.46 677.18,166.93 677.67,166.5 677.67,179.86 677.18,180.3 676.59,180.82 676,181.35 675.4,181.88 674.81,182.4 674.21,182.93 673.62,183.46 673.02,183.98 672.43,184.51 671.84,185.04 671.24,185.56 670.65,186.09 670.05,186.62 669.46,187.14 668.87,187.67 668.27,188.19 667.68,188.72 667.08,189.25 666.49,189.77 665.89,190.3 665.61,190.55" fill="#2c2cff"/>
<polygon points="86.6,539.3 87.19,539.3 87.79,539.3 88.38,539.29 88.98,539.29 89.57,539.28 90.16,539.28 90.76,539.27 91.35,539.26 91.95,539.25 92.54,539.23 93.14,539.22 93.73,539.21 94.32,539.19 94.92,539.17 95.51,539.15 96.11,539.13 96.7,539.11 97.29,539.09 97.89,539.07 98.48,539.04 98.66,539.03 98.66,549.04 98.48,549.05 97.89,549.07 97.29,549.1 96.7,549.12 96.11,549.14 95.51,549.16 94.92,549.18 94.32,549.19 93.73,549.21 93.14,549.22 92.54,549.24 91.95,549.25 91.35,549.26 90.76,549.27 90.16,549.28 89.57,549.28 88.98,549.29 88.38,549.29 87.79,549.3 87.19,549.3 86.6,549.3" fill="#2c2cff"/>
<polygon points="110.73,538.25 110.96,538.23 111.55,538.18 112.15,538.12 112.74,538.07 113.34,538.01 113.93,537.95 114.52,537.9 115.12,537.84 115.71,537.78 116.31,537.71 116.9,537.65 117.5,537.59 118.09,537.52 118.68,537.45 119.28,537.39 119.87,537.32 120.47,537.25 121.06,537.18 121.65,537.1 122.25,537.03 122.79,536.96 122.79,547.04 122.25,547.11 121.65,547.18 121.06,547.25 120.47,547.32 119.87,547.38 119.28,547.45 118.68,547.52 118.09,547.58 117.5,547.64 116.9,547.71 116.31,547.77 115.71,547.83 115.12,547.89 114.52,547.94 113.93,548 113.34,548.05 112.74,548.11 112.15,548.16 111.55,548.21 110.96,548.26 110.73,548.28" fill="#2c2cff"/>
<polygon points="134.85,535.2 135.32,535.12 135.91,535.02 136.51,534.92 137.1,534.82 137.7,534.71 138.29,534.61 138.89,534.5 139.48,534.4 140.07,534.29 140.67,534.18 141.26,534.07 141.86,533.96 142.45,533.85 143.04,533.73 143.64,533.62 144.23,533.5 144.83,533.39 145.42,533.27 146.01,533.15 146.61,533.03 146.91,532.97 146.91,543.17 146.61,543.23 146.01,543.34 145.42,543.46 144.83,543.57 144.23,543.69 143.64,543.8 143.04,543.91 142.45,544.02 141.86,544.13 141.26,544.24 140.67,544.34 140.07,544.45 139.48,544.55 138.89,544.66 138.29,544.76 137.7,544.86 137.1,544.96 136.51,545.06 135.91,545.16 135.32,545.25 134.85,545.33" fill="#2c2cff"/>
<polygon points="158.98,530.3 159.09,530.28 159.68,530.13 160.27,529.99 160.87,529.84 161.46,529.7 162.06,529.55 162.65,529.4 163.25,529.25 163.84,529.1 164.43,528.95 165.03,528.8 165.62,528.65 166.22,528.49 166.81,528.34 167.4,528.18 168,528.03 168.59,527.87 169.19,527.71 169.78,527.55 170.37,527.39 170.97,527.23 171.04,527.21 171.04,537.57 170.97,537.58 170.37,537.74 169.78,537.9 169.19,538.05 168.59,538.21 168,538.36 167.4,538.52 166.81,538.67 166.22,538.82 165.62,538.97 165.03,539.12 164.43,539.26 163.84,539.41 163.25,539.56 162.65,539.7 162.06,539.85 161.46,539.99 160.87,540.13 160.27,540.27 159.68,540.41 159.09,540.55 158.98,540.58" fill="#2c2cff"/>
<polygon points="183.1,523.71 183.45,523.6 184.04,523.42 184.63,523.24 185.23,523.05 185.82,522.86 186.42,522.68 187.01,522.49 187.61,522.3 188.2,522.11 188.79,521.92 189.39,521.73 189.98,521.54 190.58,521.34 191.17,521.15 191.76,520.95 192.36,520.76 192.95,520.56 193.55,520.36 194.14,520.16 194.74,519.96 195.16,519.82 195.16,530.36 194.74,530.5 194.14,530.7 193.55,530.89 192.95,531.09 192.36,531.28 191.76,531.47 191.17,531.66 190.58,531.85 189.98,532.04 189.39,532.23 188.79,532.41 188.2,532.6 187.61,532.78 187.01,532.97 186.42,533.15 185.82,533.33 185.23,533.51 184.63,533.69 184.04,533.87 183.45,534.05 183.1,534.16" fill="#2c2cff"/>
<polygon points="207.23,515.56 207.81,515.34 208.4,515.12 208.99,514.9 209.59,514.68 210.18,514.46 210.78,514.23 211.37,514.01 211.97,513.78 212.56,513.56 213.15,513.33 213.75,513.1 214.34,512.88 214.94,512.65 215.53,512.42 216.12,512.18 216.72,511.95 217.31,511.72 217.91,511.49 218.5,511.25 219.1,511.02 219.29,510.94 219.29,521.68 219.1,521.76 218.5,521.99 217.91,522.22 217.31,522.45 216.72,522.67 216.12,522.9 215.53,523.13 214.94,523.35 214.34,523.58 213.75,523.8 213.15,524.02 212.56,524.25 211.97,524.47 211.37,524.69 210.78,524.91 210.18,525.12 209.59,525.34 208.99,525.56 208.4,525.78 207.81,525.99 207.23,526.2" fill="#2c2cff"/>
<polygon points="231.35,505.98 231.57,505.89 232.17,505.63 232.76,505.38 233.35,505.13 233.95,504.87 234.54,504.61 235.14,504.36 235.73,504.1 236.33,503.84 236.92,503.58 237.51,503.32 238.11,503.06 238.7,502.8 239.3,502.54 239.89,502.27 240.48,502.01 241.08,501.75 241.67,501.48 242.27,501.21 242.86,500.95 243.42,500.7 243.42,511.65 242.86,511.9 242.27,512.16 241.67,512.42 241.08,512.68 240.48,512.94 239.89,513.2 239.3,513.45 238.7,513.71 238.11,513.97 237.51,514.22 236.92,514.48 236.33,514.73 235.73,514.99 235.14,515.24 234.54,515.49 233.95,515.74 233.35,515.99 232.76,516.24 232.17,516.49 231.57,516.74 231.35,516.83" fill="#2c2cff"/>
<polygon points="255.48,495.11 255.93,494.89 256.53,494.61 257.12,494.32 257.71,494.04 258.31,493.75 258.9,493.46 259.5,493.18 260.09,492.89 260.69,492.6 261.28,492.31 261.87,492.02 262.47,491.73 263.06,491.44 263.66,491.15 264.25,490.85 264.84,490.56 265.44,490.27 266.03,489.97 266.63,489.68 267.22,489.38 267.54,489.22 267.54,500.38 267.22,500.54 266.63,500.83 266.03,501.12 265.44,501.41 264.84,501.7 264.25,501.99 263.66,502.27 263.06,502.56 262.47,502.85 261.87,503.13 261.28,503.42 260.69,503.7 260.09,503.99 259.5,504.27 258.9,504.55 258.31,504.83 257.71,505.11 257.12,505.39 256.53,505.67 255.93,505.95 255.48,506.16" fill="#2c2cff"/>
<polygon points="279.6,483.05 279.7,483 280.29,482.69 280.89,482.38 281.48,482.07 282.07,481.76 282.67,481.44 283.26,481.13 283.86,480.81 284.45,480.5 285.05,480.18 285.64,479.87 286.23,479.55 286.83,479.23 287.42,478.91 288.02,478.59 288.61,478.27 289.2,477.95 289.8,477.63 290.39,477.31 290.99,476.99 291.58,476.66 291.67,476.62 291.67,487.98 291.58,488.03 290.99,488.35 290.39,488.66 289.8,488.98 289.2,489.3 288.61,489.61 288.02,489.93 287.42,490.24 286.83,490.55 286.23,490.87 285.64,491.18 285.05,491.49 284.45,491.8 283.86,492.11 283.26,492.42 282.67,492.73 282.07,493.04 281.48,493.35 280.89,493.65 280.29,493.96 279.7,494.27 279.6,494.32" fill="#2c2cff"/>
<polygon points="303.73,469.93 304.06,469.75 304.65,469.41 305.25,469.07 305.84,468.74 306.43,468.4 307.03,468.06 307.62,467.72 308.22,467.38 308.81,467.04 309.41,466.7 310,466.36 310.59,466.02 311.19,465.67 311.78,465.33 312.38,464.99 312.97,464.64 313.56,464.3 314.16,463.95 314.75,463.61 315.35,463.26 315.79,463 315.79,474.56 315.35,474.82 314.75,475.16 314.16,475.5 313.56,475.84 312.97,476.18 312.38,476.52 311.78,476.86 311.19,477.2 310.59,477.54 310,477.87 309.41,478.21 308.81,478.55 308.22,478.88 307.62,479.22 307.03,479.55 306.43,479.88 305.84,480.22 305.25,480.55 304.65,480.88 304.06,481.21 303.73,481.39" fill="#2c2cff"/>
<polygon points="327.85,455.85 328.42,455.51 329.01,455.15 329.61,454.79 330.2,454.43 330.8,454.07 331.39,453.71 331.98,453.35 332.58,452.99 333.17,452.63 333.77,452.26 334.36,451.9 334.95,451.54 335.55,451.17 336.14,450.81 336.74,450.44 337.33,450.08 337.92,449.71 338.52,449.34 339.11,448.98 339.71,448.61 339.92,448.48 339.92,460.22 339.71,460.35 339.11,460.71 338.52,461.08 337.92,461.44 337.33,461.8 336.74,462.16 336.14,462.52 335.55,462.88 334.95,463.24 334.36,463.6 333.77,463.96 333.17,464.32 332.58,464.68 331.98,465.03 331.39,465.39 330.8,465.75 330.2,466.1 329.61,466.46 329.01,466.81 328.42,467.17 327.85,467.5" fill="#2c2cff"/>
<polygon points="351.98,440.9 352.18,440.77 352.78,440.4 353.37,440.02 353.97,439.64 354.56,439.26 355.16,438.88 355.75,438.5 356.34,438.12 356.94,437.74 357.53,437.35 358.13,436.97 358.72,436.59 359.31,436.21 359.91,435.82 360.5,435.44 361.1,435.05 361.69,434.67 362.28,434.28 362.88,433.9 363.47,433.51 364.04,433.14 364.04,445.06 363.47,445.42 362.88,445.8 362.28,446.19 361.69,446.57 361.1,446.95 360.5,447.33 359.91,447.71 359.31,448.09 358.72,448.47 358.13,448.85 357.53,449.22 356.94,449.6 356.34,449.98 355.75,450.36 355.16,450.73 354.56,451.11 353.97,451.48 353.37,451.86 352.78,452.23 352.18,452.61 351.98,452.74" fill="#2c2cff"/>
<polygon points="376.11,425.19 376.54,424.9 377.14,424.5 377.73,424.11 378.33,423.71 378.92,423.31 379.52,422.91 380.11,422.52 380.7,422.12 381.3,421.72 381.89,421.32 382.49,420.92 383.08,420.52 383.67,420.12 384.27,419.72 384.86,419.32 385.46,418.91 386.05,418.51 386.65,418.11 387.24,417.71 387.83,417.3 388.17,417.08 388.17,429.15 387.83,429.37 387.24,429.77 386.65,430.17 386.05,430.57 385.46,430.97 384.86,431.37 384.27,431.77 383.67,432.16 383.08,432.56 382.49,432.96 381.89,433.35 381.3,433.75 380.7,434.14 380.11,434.54 379.52,434.93 378.92,435.33 378.33,435.72 377.73,436.11 377.14,436.51 376.54,436.9 376.11,437.19" fill="#2c2cff"/>
<polygon points="400.23,408.8 400.31,408.74 400.9,408.33 401.5,407.92 402.09,407.51 402.69,407.09 403.28,406.68 403.88,406.27 404.47,405.85 405.06,405.44 405.66,405.03 406.25,404.61 406.85,404.19 407.44,403.78 408.03,403.36 408.63,402.95 409.22,402.53 409.82,402.11 410.41,401.7 411.01,401.28 411.6,400.86 412.19,400.44 412.29,400.37 412.29,412.59 412.19,412.66 411.6,413.07 411.01,413.49 410.41,413.9 409.82,414.32 409.22,414.73 408.63,415.14 408.03,415.56 407.44,415.97 406.85,416.38 406.25,416.79 405.66,417.2 405.06,417.62 404.47,418.03 403.88,418.44 403.28,418.85 402.69,419.26 402.09,419.67 401.5,420.07 400.9,420.48 400.31,420.89 400.23,420.95" fill="#2c2cff"/>
<polygon points="424.36,391.8 424.67,391.58 425.26,391.15 425.86,390.73 426.45,390.3 427.05,389.87 427.64,389.45 428.24,389.02 428.83,388.59 429.42,388.16 430.02,387.74 430.61,387.31 431.21,386.88 431.8,386.45 432.39,386.02 432.99,385.59 433.58,385.16 434.18,384.73 434.77,384.3 435.37,383.87 435.96,383.44 436.42,383.1 436.42,395.45 435.96,395.78 435.37,396.21 434.77,396.64 434.18,397.06 433.58,397.49 432.99,397.92 432.39,398.35 431.8,398.77 431.21,399.2 430.61,399.62 430.02,400.05 429.42,400.47 428.83,400.9 428.24,401.32 427.64,401.75 427.05,402.17 426.45,402.59 425.86,403.02 425.26,403.44 424.67,403.86 424.36,404.09" fill="#2c2cff"/>
<polygon points="448.48,374.28 449.03,373.88 449.62,373.44 450.22,373 450.81,372.56 451.41,372.12 452,371.69 452.6,371.25 453.19,370.81 453.78,370.37 454.38,369.93 454.97,369.49 455.57,369.05 456.16,368.61 456.75,368.16 457.35,367.72 457.94,367.28 458.54,366.84 459.13,366.4 459.73,365.95 460.32,365.51 460.54,365.34 460.54,377.8 460.32,377.97 459.73,378.41 459.13,378.85 458.54,379.29 457.94,379.73 457.35,380.17 456.75,380.61 456.16,381.04 455.57,381.48 454.97,381.92 454.38,382.36 453.78,382.8 453.19,383.23 452.6,383.67 452,384.11 451.41,384.54 450.81,384.98 450.22,385.41 449.62,385.85 449.03,386.28 448.48,386.69" fill="#2c2cff"/>
<polygon points="472.61,356.3 472.8,356.16 473.39,355.71 473.98,355.26 474.58,354.81 475.17,354.36 475.77,353.92 476.36,353.47 476.96,353.02 477.55,352.57 478.14,352.12 478.74,351.67 479.33,351.22 479.93,350.76 480.52,350.31 481.11,349.86 481.71,349.41 482.3,348.96 482.9,348.51 483.49,348.06 484.09,347.6 484.67,347.16 484.67,359.72 484.09,360.16 483.49,360.61 482.9,361.06 482.3,361.51 481.71,361.96 481.11,362.41 480.52,362.86 479.93,363.31 479.33,363.75 478.74,364.2 478.14,364.65 477.55,365.1 476.96,365.55 476.36,365.99 475.77,366.44 475.17,366.89 474.58,367.33 473.98,367.78 473.39,368.22 472.8,368.67 472.61,368.81" fill="#2c2cff"/>
<polygon points="496.73,337.92 497.16,337.6 497.75,337.14 498.34,336.68 498.94,336.23 499.53,335.77 500.13,335.31 500.72,334.85 501.32,334.39 501.91,333.93 502.5,333.48 503.1,333.02 503.69,332.56 504.29,332.1 504.88,331.64 505.47,331.18 506.07,330.72 506.66,330.26 507.26,329.8 507.85,329.34 508.45,328.88 508.8,328.6 508.8,341.25 508.45,341.52 507.85,341.98 507.26,342.44 506.66,342.9 506.07,343.36 505.47,343.81 504.88,344.27 504.29,344.73 503.69,345.19 503.1,345.64 502.5,346.1 501.91,346.56 501.32,347.01 500.72,347.47 500.13,347.93 499.53,348.38 498.94,348.84 498.34,349.29 497.75,349.75 497.16,350.2 496.73,350.53" fill="#2c2cff"/>
<polygon points="520.86,319.21 520.92,319.16 521.52,318.69 522.11,318.23 522.71,317.76 523.3,317.3 523.89,316.83 524.49,316.36 525.08,315.9 525.68,315.43 526.27,314.97 526.86,314.5 527.46,314.03 528.05,313.57 528.65,313.1 529.24,312.63 529.83,312.17 530.43,311.7 531.02,311.23 531.62,310.76 532.21,310.3 532.81,309.83 532.92,309.74 532.92,322.46 532.81,322.55 532.21,323.02 531.62,323.48 531.02,323.95 530.43,324.41 529.83,324.88 529.24,325.34 528.65,325.81 528.05,326.27 527.46,326.74 526.86,327.2 526.27,327.67 525.68,328.13 525.08,328.6 524.49,329.06 523.89,329.53 523.3,329.99 522.71,330.45 522.11,330.92 521.52,331.38 520.92,331.84 520.86,331.89" fill="#2c2cff"/>
<polygon points="544.98,300.2 545.28,299.96 545.88,299.49 546.47,299.02 547.07,298.55 547.66,298.07 548.25,297.6 548.85,297.13 549.44,296.66 550.04,296.19 550.63,295.71 551.22,295.24 551.82,294.77 552.41,294.29 553.01,293.82 553.6,293.35 554.19,292.87 554.79,292.4 555.38,291.93 555.98,291.45 556.57,290.98 557.05,290.6 557.05,303.39 556.57,303.76 555.98,304.24 555.38,304.71 554.79,305.18 554.19,305.65 553.6,306.13 553.01,306.6 552.41,307.07 551.82,307.54 551.22,308.01 550.63,308.48 550.04,308.96 549.44,309.43 548.85,309.9 548.25,310.37 547.66,310.84 547.07,311.31 546.47,311.78 545.88,312.25 545.28,312.72 544.98,312.95" fill="#2c2cff"/>
<polygon points="569.11,280.94 569.64,280.52 570.24,280.04 570.83,279.56 571.43,279.08 572.02,278.61 572.61,278.13 573.21,277.65 573.8,277.17 574.4,276.7 574.99,276.22 575.58,275.74 576.18,275.26 576.77,274.78 577.37,274.3 577.96,273.83 578.55,273.35 579.15,272.87 579.74,272.39 580.34,271.91 580.93,271.43 581.17,271.24 581.17,284.08 580.93,284.27 580.34,284.75 579.74,285.23 579.15,285.71 578.55,286.18 577.96,286.66 577.37,287.14 576.77,287.62 576.18,288.09 575.58,288.57 574.99,289.05 574.4,289.52 573.8,290 573.21,290.48 572.61,290.95 572.02,291.43 571.43,291.91 570.83,292.38 570.24,292.86 569.64,293.33 569.11,293.76" fill="#2c2cff"/>
<polygon points="593.23,261.48 593.41,261.34 594,260.86 594.6,260.38 595.19,259.89 595.79,259.41 596.38,258.93 596.97,258.45 597.57,257.97 598.16,257.48 598.76,257 599.35,256.52 599.94,256.04 600.54,255.55 601.13,255.07 601.73,254.59 602.32,254.1 602.92,253.62 603.51,253.14 604.1,252.65 604.7,252.17 605.29,251.69 605.3,251.68 605.3,264.57 605.29,264.58 604.7,265.06 604.1,265.54 603.51,266.02 602.92,266.51 602.32,266.99 601.73,267.47 601.13,267.95 600.54,268.43 599.94,268.92 599.35,269.4 598.76,269.88 598.16,270.36 597.57,270.84 596.97,271.32 596.38,271.8 595.79,272.28 595.19,272.77 594.6,273.25 594,273.73 593.41,274.21 593.23,274.35" fill="#2c2cff"/>
<polygon points="617.36,241.84 617.77,241.51 618.36,241.02 618.96,240.54 619.55,240.05 620.15,239.56 620.74,239.08 621.33,238.59 621.93,238.11 622.52,237.62 623.12,237.13 623.71,236.65 624.3,236.16 624.9,235.67 625.49,235.19 626.09,234.7 626.68,234.21 627.28,233.72 627.87,233.24 628.46,232.75 629.06,232.26 629.42,231.96 629.42,244.89 629.06,245.19 628.46,245.68 627.87,246.16 627.28,246.65 626.68,247.14 626.09,247.62 625.49,248.11 624.9,248.6 624.3,249.08 623.71,249.57 623.12,250.05 622.52,250.54 621.93,251.02 621.33,251.51 620.74,251.99 620.15,252.48 619.55,252.96 618.96,253.45 618.36,253.93 617.77,254.42 617.36,254.75" fill="#2c2cff"/>
<polygon points="641.49,222.05 641.53,222.01 642.13,221.52 642.72,221.03 643.32,220.54 643.91,220.05 644.51,219.56 645.1,219.07 645.69,218.58 646.29,218.09 646.88,217.61 647.48,217.12 648.07,216.63 648.66,216.14 649.26,215.65 649.85,215.16 650.45,214.66 651.04,214.17 651.64,213.68 652.23,213.19 652.82,212.7 653.42,212.21 653.55,212.11 653.55,225.07 653.42,225.18 652.82,225.67 652.23,226.16 651.64,226.65 651.04,227.14 650.45,227.63 649.85,228.11 649.26,228.6 648.66,229.09 648.07,229.58 647.48,230.07 646.88,230.56 646.29,231.05 645.69,231.54 645.1,232.03 644.51,232.52 643.91,233 643.32,233.49 642.72,233.98 642.13,234.47 641.53,234.96 641.49,235" fill="#2c2cff"/>
<polygon points="665.61,202.13 665.89,201.89 666.49,201.4 667.08,200.91 667.68,200.42 668.27,199.92 668.87,199.43 669.46,198.94 670.05,198.45 670.65,197.95 671.24,197.46 671.84,196.97 672.43,196.48 673.02,195.98 673.62,195.49 674.21,195 674.81,194.5 675.4,194.01 676,193.52 676.59,193.02 677.18,192.53 677.67,192.12 677.67,205.12 677.18,205.53 676.59,206.02 676,206.51 675.4,207 674.81,207.5 674.21,207.99 673.62,208.48 673.02,208.97 672.43,209.46 671.84,209.96 671.24,210.45 670.65,210.94 670.05,211.43 669.46,211.92 668.87,212.42 668.27,212.91 667.68,213.4 667.08,213.89 666.49,214.38 665.89,214.87 665.61,215.11" fill="#2c2cff"/>
</g>
<line x1="86.6" y1="544.3" x2="86.6" y2="532.3" stroke="#000" stroke-width="3"/>
<line x1="116.3" y1="544.3" x2="116.3" y2="537.3" stroke="#000" stroke-width="1.2"/>
<line x1="146" y1="544.3" x2="146" y2="537.3" stroke="#000" stroke-width="1.2"/>
<line x1="175.7" y1="544.3" x2="175.7" y2="537.3" stroke="#000" stroke-width="1.2"/>
<line x1="205.4" y1="544.3" x2="205.4" y2="532.3" stroke="#000" stroke-width="3"/>
<line x1="235.1" y1="544.3" x2="235.1" y2="537.3" stroke="#000" stroke-width="1.2"/>
<line x1="264.8" y1="544.3" x2="264.8" y2="537.3" stroke="#000" stroke-width="1.2"/>
<line x1="294.5" y1="544.3" x2="294.5" y2="537.3" stroke="#000" stroke-width="1.2"/>
<line x1="324.2" y1="544.3" x2="324.2" y2="532.3" stroke="#000" stroke-width="3"/>
<line x1="353.9" y1="544.3" x2="353.9" y2="537.3" stroke="#000" stroke-width="1.2"/>
<line x1="383.6" y1="544.3" x2="383.6" y2="537.3" stroke="#000" stroke-width="1.2"/>
<line x1="413.3" y1="544.3" x2="413.3" y2="537.3" stroke="#000" stroke-width="1.2"/>
<line x1="443" y1="544.3" x2="443" y2="532.3" stroke="#000" stroke-width="3"/>
<line x1="472.7" y1="544.3" x2="472.7" y2="537.3" stroke="#000" stroke-width="1.2"/>
<line x1="502.4" y1="544.3" x2="502.4" y2="537.3" stroke="#000" stroke-width="1.2"/>
<line x1="532.1" y1="544.3" x2="532.1" y2="537.3" stroke="#000" stroke-width="1.2"/>
<line x1="561.8" y1="544.3" x2="561.8" y2="532.3" stroke="#000" stroke-width="3"/>
<line x1="591.5" y1="544.3" x2="591.5" y2="537.3" stroke="#000" stroke-width="1.2"/>
<line x1="621.2" y1="544.3" x2="621.2" y2="537.3" stroke="#000" stroke-width="1.2"/>
<line x1="650.9" y1="544.3" x2="650.9" y2="537.3" stroke="#000" stroke-width="1.2"/>
<line x1="680.6" y1="544.3" x2="680.6" y2="532.3" stroke="#000" stroke-width="3"/>
<line x1="86.6" y1="544.3" x2="99.6" y2="544.3" stroke="#000" stroke-width="3"/>
<line x1="86.6" y1="518.98" x2="94.6" y2="518.98" stroke="#000" stroke-width="1.2"/>
<line x1="86.6" y1="493.66" x2="94.6" y2="493.66" stroke="#000" stroke-width="1.2"/>
<line x1="86.6" y1="468.34" x2="94.6" y2="468.34" stroke="#000" stroke-width="1.2"/>
<line x1="86.6" y1="443.02" x2="94.6" y2="443.02" stroke="#000" stroke-width="1.2"/>
<line x1="86.6" y1="417.7" x2="99.6" y2="417.7" stroke="#000" stroke-width="3"/>
<line x1="86.6" y1="392.38" x2="94.6" y2="392.38" stroke="#000" stroke-width="1.2"/>
<line x1="86.6" y1="367.06" x2="94.6" y2="367.06" stroke="#000" stroke-width="1.2"/>
<line x1="86.6" y1="341.74" x2="94.6" y2="341.74" stroke="#000" stroke-width="1.2"/>
<line x1="86.6" y1="316.42" x2="94.6" y2="316.42" stroke="#000" stroke-width="1.2"/>
<line x1="86.6" y1="291.1" x2="99.6" y2="291.1" stroke="#000" stroke-width="3"/>
<line x1="86.6" y1="265.78" x2="94.6" y2="265.78" stroke="#000" stroke-width="1.2"/>
<line x1="86.6" y1="240.46" x2="94.6" y2="240.46" stroke="#000" stroke-width="1.2"/>
<line x1="86.6" y1="215.14" x2="94.6" y2="215.14" stroke="#000" stroke-width="1.2"/>
<line x1="86.6" y1="189.82" x2="94.6" y2="189.82" stroke="#000" stroke-width="1.2"/>
<line x1="86.6" y1="164.5" x2="99.6" y2="164.5" stroke="#000" stroke-width="3"/>
<line x1="86.6" y1="139.18" x2="94.6" y2="139.18" stroke="#000" stroke-width="1.2"/>
<line x1="86.6" y1="113.86" x2="94.6" y2="113.86" stroke="#000" stroke-width="1.2"/>
<line x1="86.6" y1="88.54" x2="94.6" y2="88.54" stroke="#000" stroke-width="1.2"/>
<line x1="86.6" y1="63.22" x2="94.6" y2="63.22" stroke="#000" stroke-width="1.2"/>
<line x1="86.6" y1="37.9" x2="99.6" y2="37.9" stroke="#000" stroke-width="3"/>
<line x1="86.6" y1="12.58" x2="94.6" y2="12.58" stroke="#000" stroke-width="1.2"/>
<rect x="86.6" y="3.5" width="594" height="540.8" fill="none" stroke="#000" stroke-width="2.8" stroke-linejoin="bevel"/>
<g font-family="Liberation Serif, serif" font-size="21" fill="#000"><text x="86.6" y="566.3" text-anchor="middle">0</text><text x="205.4" y="566.3" text-anchor="middle">0.2</text><text x="324.2" y="566.3" text-anchor="middle">0.4</text><text x="443" y="566.3" text-anchor="middle">0.6</text><text x="561.8" y="566.3" text-anchor="middle">0.8</text><text x="680.6" y="566.3" text-anchor="middle">1</text><text x="78.5" y="551.6" text-anchor="end">0</text><text x="78.5" y="425" text-anchor="end">0.05</text><text x="78.5" y="298.4" text-anchor="end">0.1</text><text x="78.5" y="171.8" text-anchor="end">0.15</text><text x="78.5" y="45.2" text-anchor="end">0.2</text></g>
<g transform="translate(376,572)"><path d="M4.4,0.5 C3,0.6 2,1.8 2.1,2.9 C2.2,3.9 3.2,4.4 4.4,4.6 C3.2,6 3,8.5 3.7,10 C4.2,11 4.8,11.3 5.6,11.5" fill="none" stroke="#000" stroke-width="1.3"/>
<path d="M5.6,11.6 C3.2,12.6 1.3,15.5 1.2,18.5 C1.1,21 2.3,23 5.8,23.6 C8,24 11.5,23.2 13.5,24.6 C15.2,25.8 14.8,29.5 12.7,30.8 C11.7,31.5 10.5,31.7 9.6,31.4" fill="none" stroke="#000" stroke-width="2"/>
<circle cx="9.6" cy="31" r="1.25" fill="#000"/>
<path d="M4.0,4.8 C6.0,4.3 8.0,2.6 9.8,1.4 C11.2,0.6 12.4,1.6 11.8,2.6 C10.8,3.9 7.5,4.7 4.0,4.8 Z" fill="#000"/>
<path d="M5.4,11.7 C7.5,10.8 9.5,9.5 11.3,9.4 C12.8,9.3 13.3,10.9 12.1,11.4 C10,12 7.5,11.8 5.4,11.7 Z" fill="#000"/></g>
<g transform="translate(2.7,273.4) rotate(-90)"><path d="M4.4,0.5 C3,0.6 2,1.8 2.1,2.9 C2.2,3.9 3.2,4.4 4.4,4.6 C3.2,6 3,8.5 3.7,10 C4.2,11 4.8,11.3 5.6,11.5" fill="none" stroke="#000" stroke-width="1.3"/>
<path d="M5.6,11.6 C3.2,12.6 1.3,15.5 1.2,18.5 C1.1,21 2.3,23 5.8,23.6 C8,24 11.5,23.2 13.5,24.6 C15.2,25.8 14.8,29.5 12.7,30.8 C11.7,31.5 10.5,31.7 9.6,31.4" fill="none" stroke="#000" stroke-width="2"/>
<circle cx="9.6" cy="31" r="1.25" fill="#000"/>
<path d="M4.0,4.8 C6.0,4.3 8.0,2.6 9.8,1.4 C11.2,0.6 12.4,1.6 11.8,2.6 C10.8,3.9 7.5,4.7 4.0,4.8 Z" fill="#000"/>
<path d="M5.4,11.7 C7.5,10.8 9.5,9.5 11.3,9.4 C12.8,9.3 13.3,10.9 12.1,11.4 C10,12 7.5,11.8 5.4,11.7 Z" fill="#000"/></g>
<text transform="translate(27,284.3) rotate(-90)" font-family="Liberation Serif, serif" font-size="35.4">(</text>
<text transform="translate(27,256) rotate(-90)" font-family="Liberation Serif, serif" font-size="35.4">)</text>
<path d="M5,293.6 C8,295.3 14,295.7 20,298.4 C25,300.2 30,300.8 33.5,303.4 L32.3,304.6 C29,302.8 25,302.8 20,301.2 C14,299.3 8.5,297.5 5.2,294.8 Z" fill="#000"/>
<path d="M4.7,288.5 C1.5,289.5 2.5,293 5.5,294.1" fill="none" stroke="#000" stroke-width="1.1"/>
<path d="M32.6,303.9 C34.5,305 35.3,307.6 34.2,308.6" fill="none" stroke="#000" stroke-width="1.3"/>
<circle cx="4.8" cy="288.6" r="1.35" fill="#000"/><circle cx="33.1" cy="308.7" r="1.4" fill="#000"/>
<line x1="12.5" y1="293.5" x2="12.5" y2="301.6" stroke="#000" stroke-width="1.4"/>
<rect x="117.4" y="28.5" width="269.2" height="251" fill="#fff"/>
<g clip-path="url(#ci)">
<polyline points="-634.11,772.69 -629.01,772.65 -623.91,772.53 -618.8,772.34 -613.7,772.07 -608.6,771.72 -603.49,771.3 -598.39,770.8 -593.29,770.22 -588.19,769.58 -583.08,768.85 -577.98,768.06 -572.88,767.19 -567.77,766.25 -562.67,765.24 -557.57,764.15 -552.47,762.99 -547.36,761.77 -542.26,760.47 -537.16,759.11 -532.05,757.67 -526.95,756.17 -521.85,754.6 -516.75,752.96 -511.64,751.25 -506.54,749.48 -501.44,747.64 -496.33,745.73 -491.23,743.76 -486.13,741.72 -481.03,739.62 -475.92,737.46 -470.82,735.23 -465.72,732.94 -460.61,730.59 -455.51,728.17 -450.41,725.69 -445.31,723.16 -440.2,720.56 -435.1,717.9 -430,715.18 -424.89,712.4 -419.79,709.56 -414.69,706.67 -409.59,703.72 -404.48,700.71 -399.38,697.64 -394.28,694.51 -389.17,691.33 -384.07,688.1 -378.97,684.81 -373.87,681.46 -368.76,678.06 -363.66,674.61 -358.56,671.1 -353.46,667.54 -348.35,663.93 -343.25,660.26 -338.15,656.55 -333.04,652.78 -327.94,648.96 -322.84,645.09 -317.74,641.18 -312.63,637.21 -307.53,633.19 -302.43,629.13 -297.32,625.02 -292.22,620.86 -287.12,616.65 -282.02,612.4 -276.91,608.1 -271.81,603.75 -266.71,599.36 -261.6,594.92 -256.5,590.44 -251.4,585.92 -246.3,581.35 -241.19,576.74 -236.09,572.09 -230.99,567.39 -225.88,562.65 -220.78,557.87 -215.68,553.05 -210.58,548.19 -205.47,543.29 -200.37,538.35 -195.27,533.37 -190.16,528.35 -185.06,523.29 -179.96,518.2 -174.86,513.07 -169.75,507.9 -164.65,502.69 -159.55,497.45 -154.44,492.17 -149.34,486.85 -144.24,481.5 -139.14,476.12 -134.03,470.7 -128.93,465.25 -123.83,459.76 -118.72,454.25 -113.62,448.69 -108.52,443.11 -103.42,437.5 -98.31,431.85 -93.21,426.17 -88.11,420.47 -83.01,414.73 -77.9,408.96 -72.8,403.17 -67.7,397.34 -62.59,391.49 -57.49,385.61 -52.39,379.7 -47.29,373.76 -42.18,367.8 -37.08,361.81 -31.98,355.8 -26.87,349.76 -21.77,343.69 -16.67,337.6 -11.57,331.49 -6.46,325.35 -1.36,319.18 3.74,313 8.85,306.79 13.95,300.56 19.05,294.31 24.15,288.03 29.26,281.74 34.36,275.42 39.46,269.09 44.57,262.73 49.67,256.35 54.77,249.96 59.87,243.55 64.98,237.11 70.08,230.66 75.18,224.2 80.29,217.71 85.39,211.21 90.49,204.69 95.59,198.16 100.7,191.61 105.8,185.04 110.9,178.46 116.01,171.87 121.11,165.26 126.21,158.63 131.31,152 136.42,145.35 141.52,138.69 146.62,132.01 151.73,125.33 156.83,118.63 161.93,111.92 167.03,105.2 172.14,98.47 177.24,91.73 182.34,84.98 187.44,78.23 192.55,71.46 197.65,64.68 202.75,57.9 207.86,51.11 212.96,44.31 218.06,37.5 223.16,30.69 228.27,23.87 233.37,17.04 238.47,10.21 243.58,3.38 248.68,-3.46 253.78,-10.31 258.88,-17.16 263.99,-24.01 269.09,-30.86 274.19,-37.72 279.3,-44.59 284.4,-51.45 289.5,-58.32 294.6,-65.18 299.71,-72.05 304.81,-78.92 309.91,-85.79 315.02,-92.66 320.12,-99.53 325.22,-106.4 330.32,-113.27 335.43,-120.14 340.53,-127 345.63,-133.87 350.74,-140.73 355.84,-147.59 360.94,-154.45 366.04,-161.3 371.15,-168.15 376.25,-174.99 381.35,-181.83 386.2,-188.33" fill="none" stroke="#d00000" stroke-width="5"/>
<polyline points="-634.11,772.69 -629.01,772.66 -623.91,772.56 -618.8,772.4 -613.7,772.18 -608.6,771.9 -603.49,771.55 -598.39,771.14 -593.29,770.67 -588.19,770.15 -583.08,769.56 -577.98,768.91 -572.88,768.2 -567.77,767.43 -562.67,766.6 -557.57,765.72 -552.47,764.78 -547.36,763.78 -542.26,762.72 -537.16,761.61 -532.05,760.44 -526.95,759.22 -521.85,757.94 -516.75,756.61 -511.64,755.22 -506.54,753.78 -501.44,752.28 -496.33,750.73 -491.23,749.13 -486.13,747.48 -481.03,745.77 -475.92,744.01 -470.82,742.2 -465.72,740.35 -460.61,738.44 -455.51,736.48 -450.41,734.47 -445.31,732.41 -440.2,730.31 -435.1,728.15 -430,725.95 -424.89,723.7 -419.79,721.4 -414.69,719.06 -409.59,716.67 -404.48,714.23 -399.38,711.75 -394.28,709.22 -389.17,706.65 -384.07,704.04 -378.97,701.38 -373.87,698.67 -368.76,695.93 -363.66,693.14 -358.56,690.31 -353.46,687.43 -348.35,684.52 -343.25,681.56 -338.15,678.56 -333.04,675.52 -327.94,672.45 -322.84,669.33 -317.74,666.17 -312.63,662.97 -307.53,659.74 -302.43,656.47 -297.32,653.15 -292.22,649.81 -287.12,646.42 -282.02,643 -276.91,639.54 -271.81,636.04 -266.71,632.51 -261.6,628.94 -256.5,625.34 -251.4,621.71 -246.3,618.04 -241.19,614.33 -236.09,610.59 -230.99,606.82 -225.88,603.02 -220.78,599.18 -215.68,595.32 -210.58,591.42 -205.47,587.48 -200.37,583.52 -195.27,579.53 -190.16,575.5 -185.06,571.45 -179.96,567.37 -174.86,563.25 -169.75,559.11 -164.65,554.94 -159.55,550.74 -154.44,546.52 -149.34,542.26 -144.24,537.98 -139.14,533.67 -134.03,529.34 -128.93,524.98 -123.83,520.59 -118.72,516.18 -113.62,511.74 -108.52,507.28 -103.42,502.79 -98.31,498.28 -93.21,493.74 -88.11,489.18 -83.01,484.6 -77.9,479.99 -72.8,475.37 -67.7,470.72 -62.59,466.04 -57.49,461.35 -52.39,456.64 -47.29,451.9 -42.18,447.14 -37.08,442.37 -31.98,437.57 -26.87,432.75 -21.77,427.92 -16.67,423.06 -11.57,418.19 -6.46,413.29 -1.36,408.38 3.74,403.46 8.85,398.51 13.95,393.55 19.05,388.57 24.15,383.57 29.26,378.56 34.36,373.53 39.46,368.48 44.57,363.42 49.67,358.35 54.77,353.26 59.87,348.16 64.98,343.04 70.08,337.9 75.18,332.76 80.29,327.6 85.39,322.43 90.49,317.24 95.59,312.05 100.7,306.84 105.8,301.62 110.9,296.38 116.01,291.14 121.11,285.89 126.21,280.62 131.31,275.34 136.42,270.06 141.52,264.76 146.62,259.46 151.73,254.14 156.83,248.82 161.93,243.49 167.03,238.15 172.14,232.8 177.24,227.44 182.34,222.08 187.44,216.71 192.55,211.33 197.65,205.95 202.75,200.56 207.86,195.16 212.96,189.76 218.06,184.35 223.16,178.93 228.27,173.51 233.37,168.09 238.47,162.66 243.58,157.23 248.68,151.79 253.78,146.35 258.88,140.9 263.99,135.46 269.09,130.01 274.19,124.55 279.3,119.1 284.4,113.64 289.5,108.18 294.6,102.72 299.71,97.25 304.81,91.79 309.91,86.32 315.02,80.86 320.12,75.39 325.22,69.92 330.32,64.45 335.43,58.99 340.53,53.52 345.63,48.06 350.74,42.59 355.84,37.13 360.94,31.67 366.04,26.21 371.15,20.75 376.25,15.29 381.35,9.84 386.2,4.66" fill="none" stroke="#d00000" stroke-width="5"/>
<polyline points="-634.11,772.69 -629.01,772.66 -623.91,772.57 -618.8,772.43 -613.7,772.22 -608.6,771.96 -603.49,771.65 -598.39,771.27 -593.29,770.85 -588.19,770.36 -583.08,769.83 -577.98,769.24 -572.88,768.59 -567.77,767.89 -562.67,767.14 -557.57,766.34 -552.47,765.48 -547.36,764.57 -542.26,763.61 -537.16,762.61 -532.05,761.55 -526.95,760.44 -521.85,759.28 -516.75,758.07 -511.64,756.82 -506.54,755.51 -501.44,754.16 -496.33,752.77 -491.23,751.32 -486.13,749.83 -481.03,748.29 -475.92,746.71 -470.82,745.08 -465.72,743.41 -460.61,741.7 -455.51,739.93 -450.41,738.13 -445.31,736.29 -440.2,734.4 -435.1,732.47 -430,730.49 -424.89,728.48 -419.79,726.42 -414.69,724.33 -409.59,722.19 -404.48,720.02 -399.38,717.8 -394.28,715.55 -389.17,713.25 -384.07,710.92 -378.97,708.55 -373.87,706.15 -368.76,703.7 -363.66,701.22 -358.56,698.71 -353.46,696.16 -348.35,693.57 -343.25,690.95 -338.15,688.29 -333.04,685.6 -327.94,682.87 -322.84,680.11 -317.74,677.32 -312.63,674.49 -307.53,671.63 -302.43,668.74 -297.32,665.82 -292.22,662.86 -287.12,659.88 -282.02,656.86 -276.91,653.81 -271.81,650.74 -266.71,647.63 -261.6,644.49 -256.5,641.33 -251.4,638.13 -246.3,634.91 -241.19,631.66 -236.09,628.38 -230.99,625.08 -225.88,621.74 -220.78,618.38 -215.68,615 -210.58,611.59 -205.47,608.15 -200.37,604.68 -195.27,601.2 -190.16,597.68 -185.06,594.14 -179.96,590.58 -174.86,587 -169.75,583.39 -164.65,579.76 -159.55,576.1 -154.44,572.42 -149.34,568.72 -144.24,565 -139.14,561.25 -134.03,557.49 -128.93,553.7 -123.83,549.9 -118.72,546.07 -113.62,542.22 -108.52,538.35 -103.42,534.46 -98.31,530.56 -93.21,526.63 -88.11,522.69 -83.01,518.72 -77.9,514.74 -72.8,510.74 -67.7,506.73 -62.59,502.69 -57.49,498.64 -52.39,494.57 -47.29,490.49 -42.18,486.39 -37.08,482.27 -31.98,478.14 -26.87,473.99 -21.77,469.83 -16.67,465.65 -11.57,461.46 -6.46,457.25 -1.36,453.03 3.74,448.79 8.85,444.54 13.95,440.28 19.05,436.01 24.15,431.72 29.26,427.42 34.36,423.1 39.46,418.78 44.57,414.44 49.67,410.09 54.77,405.73 59.87,401.36 64.98,396.97 70.08,392.58 75.18,388.17 80.29,383.76 85.39,379.34 90.49,374.9 95.59,370.46 100.7,366 105.8,361.54 110.9,357.07 116.01,352.59 121.11,348.1 126.21,343.6 131.31,339.09 136.42,334.58 141.52,330.06 146.62,325.53 151.73,320.99 156.83,316.45 161.93,311.9 167.03,307.34 172.14,302.78 177.24,298.21 182.34,293.63 187.44,289.05 192.55,284.46 197.65,279.87 202.75,275.27 207.86,270.67 212.96,266.06 218.06,261.44 223.16,256.82 228.27,252.2 233.37,247.57 238.47,242.94 243.58,238.31 248.68,233.67 253.78,229.02 258.88,224.38 263.99,219.73 269.09,215.08 274.19,210.42 279.3,205.76 284.4,201.1 289.5,196.44 294.6,191.77 299.71,187.1 304.81,182.43 309.91,177.76 315.02,173.09 320.12,168.41 325.22,163.73 330.32,159.05 335.43,154.37 340.53,149.69 345.63,145.01 350.74,140.33 355.84,135.65 360.94,130.96 366.04,126.28 371.15,121.6 376.25,116.91 381.35,112.23 386.2,107.78" fill="none" stroke="#d00000" stroke-width="5"/>
<polyline points="-634.11,772.69 -629.01,772.66 -623.91,772.57 -618.8,772.43 -613.7,772.24 -608.6,771.98 -603.49,771.68 -598.39,771.32 -593.29,770.9 -588.19,770.43 -583.08,769.91 -577.98,769.34 -572.88,768.72 -567.77,768.04 -562.67,767.32 -557.57,766.54 -552.47,765.71 -547.36,764.84 -542.26,763.91 -537.16,762.94 -532.05,761.92 -526.95,760.85 -521.85,759.74 -516.75,758.58 -511.64,757.37 -506.54,756.12 -501.44,754.82 -496.33,753.48 -491.23,752.09 -486.13,750.66 -481.03,749.19 -475.92,747.67 -470.82,746.12 -465.72,744.51 -460.61,742.87 -455.51,741.19 -450.41,739.47 -445.31,737.7 -440.2,735.9 -435.1,734.06 -430,732.17 -424.89,730.25 -419.79,728.29 -414.69,726.3 -409.59,724.26 -404.48,722.19 -399.38,720.09 -394.28,717.94 -389.17,715.77 -384.07,713.55 -378.97,711.3 -373.87,709.02 -368.76,706.7 -363.66,704.35 -358.56,701.97 -353.46,699.55 -348.35,697.1 -343.25,694.62 -338.15,692.1 -333.04,689.56 -327.94,686.98 -322.84,684.38 -317.74,681.74 -312.63,679.07 -307.53,676.37 -302.43,673.65 -297.32,670.89 -292.22,668.11 -287.12,665.3 -282.02,662.46 -276.91,659.59 -271.81,656.7 -266.71,653.78 -261.6,650.83 -256.5,647.86 -251.4,644.86 -246.3,641.84 -241.19,638.79 -236.09,635.71 -230.99,632.62 -225.88,629.49 -220.78,626.35 -215.68,623.18 -210.58,619.98 -205.47,616.77 -200.37,613.53 -195.27,610.27 -190.16,606.99 -185.06,603.68 -179.96,600.36 -174.86,597.01 -169.75,593.65 -164.65,590.26 -159.55,586.85 -154.44,583.42 -149.34,579.98 -144.24,576.51 -139.14,573.03 -134.03,569.52 -128.93,566 -123.83,562.46 -118.72,558.9 -113.62,555.33 -108.52,551.73 -103.42,548.12 -98.31,544.5 -93.21,540.85 -88.11,537.19 -83.01,533.52 -77.9,529.82 -72.8,526.12 -67.7,522.39 -62.59,518.66 -57.49,514.91 -52.39,511.14 -47.29,507.36 -42.18,503.56 -37.08,499.75 -31.98,495.93 -26.87,492.09 -21.77,488.24 -16.67,484.38 -11.57,480.51 -6.46,476.62 -1.36,472.72 3.74,468.81 8.85,464.88 13.95,460.95 19.05,457 24.15,453.04 29.26,449.08 34.36,445.1 39.46,441.1 44.57,437.1 49.67,433.09 54.77,429.07 59.87,425.04 64.98,421 70.08,416.95 75.18,412.89 80.29,408.82 85.39,404.74 90.49,400.65 95.59,396.56 100.7,392.45 105.8,388.34 110.9,384.22 116.01,380.09 121.11,375.96 126.21,371.81 131.31,367.66 136.42,363.5 141.52,359.34 146.62,355.16 151.73,350.98 156.83,346.79 161.93,342.6 167.03,338.4 172.14,334.19 177.24,329.98 182.34,325.76 187.44,321.54 192.55,317.31 197.65,313.07 202.75,308.83 207.86,304.58 212.96,300.32 218.06,296.07 223.16,291.8 228.27,287.53 233.37,283.26 238.47,278.98 243.58,274.69 248.68,270.41 253.78,266.11 258.88,261.81 263.99,257.51 269.09,253.21 274.19,248.89 279.3,244.58 284.4,240.26 289.5,235.94 294.6,231.61 299.71,227.28 304.81,222.94 309.91,218.6 315.02,214.26 320.12,209.92 325.22,205.57 330.32,201.21 335.43,196.86 340.53,192.5 345.63,188.13 350.74,183.77 355.84,179.4 360.94,175.02 366.04,170.65 371.15,166.27 376.25,161.88 381.35,157.5 386.2,153.33" fill="none" stroke="#d00000" stroke-width="5"/>
<polygon points="84.02,204.85 84.14,204.69 85.17,203.38 86.19,202.08 87.21,200.77 88.23,199.46 89.25,198.16 90.27,196.85 91.3,195.54 92.32,194.23 93.34,192.92 94.36,191.61 95.38,190.29 96.4,188.98 97.43,187.67 98.06,186.85 110.72,186.85 110.09,187.67 109.07,188.98 108.05,190.29 107.03,191.61 106.01,192.92 104.99,194.23 103.97,195.54 102.95,196.85 101.93,198.16 100.92,199.46 99.9,200.77 98.88,202.08 97.86,203.38 96.84,204.69 96.71,204.85" fill="#00d200"/>
<polygon points="112.02,168.85 112.75,167.9 113.77,166.58 114.79,165.26 115.82,163.93 116.84,162.61 117.86,161.28 118.88,159.96 119.9,158.63 120.92,157.31 121.94,155.98 122.97,154.65 123.99,153.33 125.01,152 125.89,150.85 138.5,150.85 137.62,152 136.6,153.33 135.58,154.65 134.56,155.98 133.54,157.31 132.52,158.63 131.5,159.96 130.48,161.28 129.46,162.61 128.44,163.93 127.42,165.26 126.4,166.58 125.38,167.9 124.65,168.85" fill="#00d200"/>
<polygon points="139.69,132.85 140.33,132.01 141.35,130.68 142.37,129.34 143.39,128 144.42,126.67 145.44,125.33 146.46,123.99 147.48,122.65 148.5,121.31 149.52,119.97 150.54,118.63 151.57,117.29 152.59,115.95 153.42,114.85 165.98,114.85 165.15,115.95 164.13,117.29 163.11,118.63 162.09,119.97 161.07,121.31 160.05,122.65 159.03,123.99 158.01,125.33 156.99,126.67 155.97,128 154.95,129.34 153.93,130.68 152.91,132.01 152.27,132.85" fill="#00d200"/>
<polygon points="167.09,96.85 167.91,95.78 168.93,94.43 169.95,93.08 170.97,91.73 171.99,90.38 173.01,89.03 174.03,87.68 175.05,86.33 176.08,84.98 177.1,83.63 178.12,82.28 179.14,80.93 180.16,79.58 180.71,78.85 193.24,78.85 192.69,79.58 191.67,80.93 190.65,82.28 189.63,83.63 188.61,84.98 187.59,86.33 186.57,87.68 185.55,89.03 184.53,90.38 183.51,91.73 182.49,93.08 181.47,94.43 180.45,95.78 179.64,96.85" fill="#00d200"/>
<polygon points="194.28,60.85 194.46,60.61 195.48,59.26 196.5,57.9 197.52,56.54 198.54,55.18 199.56,53.82 200.58,52.47 201.6,51.11 202.62,49.75 203.65,48.39 204.67,47.03 205.69,45.67 206.71,44.31 207.73,42.95 207.8,42.85 220.3,42.85 220.23,42.95 219.21,44.31 218.19,45.67 217.17,47.03 216.15,48.39 215.13,49.75 214.11,51.11 213.09,52.47 212.07,53.82 211.05,55.18 210.03,56.54 209.01,57.9 207.99,59.26 206.97,60.61 206.79,60.85" fill="#00d200"/>
<polygon points="221.29,24.85 222.02,23.87 223.04,22.51 224.07,21.14 225.09,19.78 226.11,18.41 227.13,17.04 228.15,15.68 229.17,14.31 230.19,12.95 231.21,11.58 232.23,10.21 233.25,8.85 234.27,7.48 234.74,6.85 247.22,6.85 246.75,7.48 245.73,8.85 244.71,10.21 243.69,11.58 242.67,12.95 241.65,14.31 240.63,15.68 239.61,17.04 238.59,18.41 237.57,19.78 236.55,21.14 235.53,22.51 234.51,23.87 233.78,24.85" fill="#00d200"/>
<polygon points="92.56,308.01 93.55,306.99 94.57,305.95 95.59,304.91 96.61,303.86 97.64,302.82 98.66,301.78 99.68,300.73 100.7,299.69 101.72,298.64 102.74,297.6 103.76,296.55 104.78,295.51 105.8,294.46 106.82,293.41 107.84,292.36 108.86,291.32 109.88,290.27 110.16,289.98 110.16,304.31 109.88,304.6 108.86,305.64 107.84,306.69 106.82,307.73 105.8,308.77 104.78,309.82 103.76,310.86 102.74,311.9 101.72,312.95 100.7,313.99 99.68,315.03 98.66,316.07 97.64,317.11 96.61,318.15 95.59,319.19 94.57,320.23 93.55,321.26 92.56,322.28" fill="#00d200"/>
<polygon points="127.64,271.95 128.25,271.32 129.27,270.26 130.29,269.21 131.31,268.15 132.33,267.09 133.35,266.03 134.38,264.98 135.4,263.92 136.42,262.86 137.44,261.8 138.46,260.74 139.48,259.68 140.5,258.62 141.52,257.55 142.54,256.49 143.56,255.43 144.58,254.37 145,253.93 145,268.36 144.58,268.79 143.56,269.85 142.54,270.91 141.52,271.97 140.5,273.03 139.48,274.09 138.46,275.15 137.44,276.2 136.42,277.26 135.4,278.32 134.38,279.37 133.35,280.43 132.33,281.49 131.31,282.54 130.29,283.59 129.27,284.65 128.25,285.7 127.64,286.33" fill="#00d200"/>
<polygon points="162.26,235.91 162.95,235.19 163.97,234.12 164.99,233.05 159.1,239.22 160.12,238.15 161.14,237.08 162.16,236.01 163.18,234.94 164.21,233.87 165.23,232.8 166.25,231.73 167.27,230.66 168.29,229.59 169.31,228.52 170.34,227.44 171.36,226.37 172.38,225.3 172.53,225.14 186.33,225.14 186.18,225.3 185.16,226.37 184.14,227.44 183.12,228.52 182.1,229.59 181.08,230.66 180.06,231.73 179.04,232.8 178.02,233.87 177.01,234.94 175.99,236.01 174.97,237.08 173.95,238.15 172.93,239.22 164.99,247.52 163.97,248.59 162.95,249.66 162.26,250.38" fill="#00d200"/>
<polygon points="189.63,207.14 189.74,207.02 190.76,205.95 191.79,204.87 192.81,203.79 193.83,202.71 194.85,201.63 195.87,200.56 196.89,199.48 197.91,198.4 198.93,197.32 199.96,196.24 200.98,195.16 202,194.08 203.02,193 204.04,191.92 205.06,190.84 206.08,189.76 206.66,189.14 220.41,189.14 219.83,189.76 218.81,190.84 217.79,191.92 216.77,193 215.76,194.08 214.74,195.16 213.72,196.24 212.7,197.32 211.68,198.4 210.66,199.48 209.64,200.56 208.62,201.63 207.6,202.71 206.58,203.79 205.56,204.87 204.54,205.95 203.52,207.02 203.41,207.14" fill="#00d200"/>
<polygon points="223.63,171.14 224.46,170.26 225.49,169.17 226.51,168.09 227.53,167 228.55,165.92 236.43,157.53 237.45,156.44 238.47,155.36 239.49,154.27 240.51,153.18 241.53,152.1 242.56,151.01 243.58,149.92 244.6,148.83 245.62,147.75 246.64,146.66 247.41,145.84 247.41,160.45 246.64,161.27 245.62,162.36 244.6,163.45 243.58,164.53 242.56,165.62 241.53,166.7 240.51,167.79 239.49,168.88 238.47,169.96 237.45,171.05 236.43,172.13 242.27,165.92 241.25,167 240.23,168.09 239.21,169.17 238.19,170.26 237.36,171.14" fill="#00d200"/>
<polygon points="257.43,135.14 258.16,134.37 259.18,133.28 260.2,132.19 261.22,131.1 262.24,130.01 263.26,128.92 264.28,127.82 265.3,126.73 266.33,125.64 267.35,124.55 268.37,123.46 269.39,122.37 270.41,121.28 271.43,120.19 272.45,119.1 273.47,118 274.28,117.14 287.97,117.14 287.16,118 286.14,119.1 285.12,120.19 284.1,121.28 283.08,122.37 282.06,123.46 281.04,124.55 280.02,125.64 279,126.73 277.98,127.82 276.96,128.92 275.94,130.01 274.92,131.1 273.9,132.19 272.88,133.28 271.86,134.37 271.13,135.14" fill="#00d200"/>
<polygon points="291.1,99.14 291.85,98.35 292.87,97.25 293.89,96.16 294.91,95.07 295.93,93.97 296.95,92.88 297.97,91.79 298.99,90.69 300.01,89.6 301.03,88.51 302.05,87.42 303.07,86.32 304.09,85.23 305.11,84.14 306.13,83.04 307.16,81.95 307.91,81.14 321.59,81.14 320.83,81.95 319.81,83.04 318.79,84.14 317.77,85.23 316.75,86.32 315.73,87.42 314.71,88.51 313.69,89.6 312.67,90.69 311.65,91.79 310.63,92.88 309.61,93.97 308.59,95.07 307.57,96.16 306.55,97.25 305.53,98.35 304.78,99.14" fill="#00d200"/>
<polygon points="324.71,63.14 325.53,62.27 326.55,61.17 327.57,60.08 328.59,58.99 329.61,57.89 330.63,56.8 331.65,55.71 332.67,54.62 333.69,53.52 334.71,52.43 335.73,51.34 336.75,50.24 337.77,49.15 338.79,48.06 339.81,46.96 340.83,45.87 341.51,45.14 355.19,45.14 354.51,45.87 353.49,46.96 352.47,48.06 351.45,49.15 350.43,50.24 349.41,51.34 348.39,52.43 347.37,53.52 346.35,54.62 345.33,55.71 344.31,56.8 343.29,57.89 342.27,58.99 341.25,60.08 340.23,61.17 339.2,62.27 338.39,63.14" fill="#00d200"/>
<polygon points="358.33,27.14 359.2,26.21 360.22,25.12 361.24,24.02 362.26,22.93 363.28,21.84 364.3,20.75 365.32,19.66 366.34,18.57 367.36,17.48 368.38,16.38 369.4,15.29 370.42,14.2 371.44,13.11 372.46,12.02 373.48,10.93 374.5,9.84 375.16,9.14 388.85,9.14 388.2,9.84 387.18,10.93 386.16,12.02 385.14,13.11 384.12,14.2 383.1,15.29 382.08,16.38 381.05,17.48 380.03,18.57 379.01,19.66 377.99,20.75 376.97,21.84 375.95,22.93 374.93,24.02 373.91,25.12 372.89,26.21 372.01,27.14" fill="#00d200"/>
<polygon points="163.39,303.89 163.97,303.37 164.99,302.46 166.01,301.55 167.03,300.64 168.05,299.72 169.07,298.81 170.1,297.9 171.12,296.98 172.14,296.07 173.16,295.15 174.18,294.24 175.2,293.32 176.22,292.41 177.24,291.49 178.26,290.58 179.28,289.66 180.3,288.75 181.32,287.83 181.39,287.77 181.39,301.2 181.32,301.26 180.3,302.18 179.28,303.09 178.26,304.01 177.24,304.92 176.22,305.84 175.2,306.75 174.18,307.66 173.16,308.57 172.14,309.49 171.12,310.4 170.1,311.31 169.07,312.22 168.05,313.14 167.03,314.05 166.01,314.96 164.99,315.87 163.97,316.78 163.39,317.3" fill="#00d200"/>
<polygon points="199.39,271.57 199.69,271.3 200.71,270.38 201.73,269.46 202.75,268.54 203.77,267.62 204.79,266.69 205.81,265.77 206.84,264.85 207.86,263.93 208.88,263.01 209.9,262.08 210.92,261.16 211.94,260.24 212.96,259.32 213.98,258.39 215,257.47 216.02,256.55 217.04,255.62 217.39,255.31 217.39,268.79 217.04,269.11 216.02,270.03 215,270.95 213.98,271.87 212.96,272.8 211.94,273.72 210.92,274.64 209.9,275.56 208.88,276.48 207.86,277.4 206.84,278.32 205.81,279.24 204.79,280.16 203.77,281.08 202.75,282 201.73,282.92 200.71,283.84 199.69,284.76 199.39,285.03" fill="#00d200"/>
<polygon points="235.39,238.99 235.41,238.97 236.43,238.04 237.45,237.12 238.47,236.19 239.49,235.26 240.51,234.33 241.53,233.41 242.56,232.48 243.58,231.55 244.6,230.62 245.62,229.69 246.64,228.77 247.66,227.84 248.68,226.91 249.7,225.98 250.72,225.05 251.74,224.12 252.76,223.19 253.39,222.62 253.39,236.14 252.76,236.71 251.74,237.64 250.72,238.57 249.7,239.5 248.68,240.43 247.66,241.35 246.64,242.28 245.62,243.21 244.6,244.14 243.58,245.06 242.56,245.99 241.53,246.92 240.51,247.84 239.49,248.77 238.47,249.7 237.45,250.62 236.43,251.55 235.41,252.47 235.39,252.49" fill="#00d200"/>
<polygon points="271.39,206.21 272.15,205.51 273.17,204.58 274.19,203.65 275.21,202.72 276.23,201.79 277.25,200.85 278.28,199.92 279.3,198.99 280.32,198.06 281.34,197.13 282.36,196.19 283.38,195.26 284.4,194.33 285.42,193.39 286.44,192.46 287.46,191.53 288.48,190.6 289.39,189.76 289.39,203.31 288.48,204.14 287.46,205.08 286.44,206.01 285.42,206.94 284.4,207.87 283.38,208.81 282.36,209.74 281.34,210.67 280.32,211.6 279.3,212.53 278.28,213.46 277.25,214.4 276.23,215.33 275.21,216.26 274.19,217.19 273.17,218.12 272.15,219.05 271.39,219.75" fill="#00d200"/>
<polygon points="307.39,173.29 307.87,172.85 308.89,171.91 309.91,170.98 310.93,170.04 311.95,169.11 312.97,168.17 313.99,167.24 315.02,166.3 316.04,165.37 317.06,164.43 318.08,163.5 319.1,162.56 320.12,161.63 321.14,160.69 322.16,159.76 323.18,158.82 324.2,157.89 325.22,156.95 325.39,156.8 325.39,170.36 325.22,170.52 324.2,171.45 323.18,172.39 322.16,173.32 321.14,174.26 320.12,175.19 319.1,176.13 318.08,177.06 317.06,178 316.04,178.93 315.02,179.87 313.99,180.8 312.97,181.74 311.95,182.67 310.93,183.6 309.91,184.54 308.89,185.47 307.87,186.41 307.39,186.85" fill="#00d200"/>
<polygon points="343.39,140.28 343.59,140.1 344.61,139.16 345.63,138.23 346.65,137.29 347.67,136.35 348.69,135.42 349.71,134.48 350.74,133.54 351.76,132.61 352.78,131.67 353.8,130.73 354.82,129.8 355.84,128.86 356.86,127.92 357.88,126.99 358.9,126.05 359.92,125.11 360.94,124.18 361.39,123.76 361.39,137.34 360.94,137.75 359.92,138.69 358.9,139.62 357.88,140.56 356.86,141.5 355.84,142.43 354.82,143.37 353.8,144.31 352.78,145.24 351.76,146.18 350.74,147.12 349.71,148.05 348.69,148.99 347.67,149.93 346.65,150.86 345.63,151.8 344.61,152.73 343.59,153.67 343.39,153.86" fill="#00d200"/>
<polygon points="379.39,107.24 380.33,106.38 381.35,105.44 382.37,104.5 383.39,103.57 384.41,102.63 385.43,101.69 385.43,115.27 384.41,116.2 383.39,117.14 382.37,118.08 381.35,119.01 380.33,119.95 379.39,120.82" fill="#00d200"/>
<polygon points="203.39,301.79 203.77,301.47 204.79,300.62 205.81,299.77 206.84,298.92 207.86,298.07 208.88,297.22 209.9,296.37 210.92,295.52 211.94,294.66 212.96,293.81 213.98,292.96 215,292.11 216.02,291.26 217.04,290.4 218.06,289.55 219.08,288.7 220.1,287.84 221.12,286.99 221.39,286.77 221.39,299.8 221.12,300.02 220.1,300.88 219.08,301.73 218.06,302.58 217.04,303.43 216.02,304.28 215,305.13 213.98,305.98 212.96,306.83 211.94,307.69 210.92,308.54 209.9,309.39 208.88,310.24 207.86,311.09 206.84,311.93 205.81,312.78 204.79,313.63 203.77,314.48 203.39,314.8" fill="#00d200"/>
<polygon points="239.39,271.68 239.49,271.59 240.51,270.74 241.53,269.88 242.56,269.02 243.58,268.16 244.6,267.31 245.62,266.45 246.64,265.59 247.66,264.73 248.68,263.87 249.7,263.01 250.72,262.15 251.74,261.3 252.76,260.44 253.78,259.58 254.8,258.72 255.82,257.86 256.84,257 257.39,256.54 257.39,269.61 256.84,270.07 255.82,270.93 254.8,271.79 253.78,272.65 252.76,273.51 251.74,274.36 250.72,275.22 249.7,276.08 248.68,276.94 247.66,277.8 246.64,278.65 245.62,279.51 244.6,280.37 243.58,281.22 242.56,282.08 241.53,282.94 240.51,283.79 239.49,284.65 239.39,284.74" fill="#00d200"/>
<polygon points="275.39,241.34 276.23,240.62 277.25,239.76 278.28,238.89 279.3,238.03 280.32,237.17 281.34,236.3 282.36,235.44 283.38,234.57 284.4,233.71 285.42,232.84 286.44,231.98 287.46,231.11 288.48,230.25 289.5,229.38 290.52,228.52 291.54,227.65 292.56,226.78 293.39,226.08 293.39,239.2 292.56,239.9 291.54,240.76 290.52,241.63 289.5,242.49 288.48,243.36 287.46,244.22 286.44,245.08 285.42,245.95 284.4,246.81 283.38,247.68 282.36,248.54 281.34,249.4 280.32,250.27 279.3,251.13 278.28,251.99 277.25,252.85 276.23,253.72 275.39,254.43" fill="#00d200"/>
<polygon points="311.39,210.78 311.95,210.3 312.97,209.43 313.99,208.56 315.02,207.7 316.04,206.83 317.06,205.96 318.08,205.09 319.1,204.22 320.12,203.35 321.14,202.48 322.16,201.61 323.18,200.74 324.2,199.87 325.22,199 326.24,198.12 327.26,197.25 328.28,196.38 329.3,195.51 329.39,195.44 329.39,208.58 329.3,208.66 328.28,209.53 327.26,210.4 326.24,211.27 325.22,212.14 324.2,213.01 323.18,213.88 322.16,214.75 321.14,215.62 320.12,216.48 319.1,217.35 318.08,218.22 317.06,219.09 316.04,219.96 315.02,220.83 313.99,221.7 312.97,222.57 311.95,223.43 311.39,223.91" fill="#00d200"/>
<polygon points="347.39,180.05 347.67,179.81 348.69,178.93 349.71,178.06 350.74,177.18 351.76,176.31 352.78,175.44 353.8,174.56 354.82,173.69 355.84,172.81 356.86,171.94 357.88,171.06 358.9,170.19 359.92,169.31 360.94,168.44 361.96,167.56 362.98,166.69 364,165.81 365.02,164.94 365.39,164.62 365.39,177.8 365.02,178.11 364,178.99 362.98,179.86 361.96,180.73 360.94,181.61 359.92,182.48 358.9,183.36 357.88,184.23 356.86,185.11 355.84,185.98 354.82,186.85 353.8,187.73 352.78,188.6 351.76,189.48 350.74,190.35 349.71,191.22 348.69,192.09 347.67,192.97 347.39,193.21" fill="#00d200"/>
<polygon points="383.39,149.15 383.39,149.15 384.41,148.27 385.43,147.39 385.43,160.58 384.41,161.46 383.39,162.34 383.39,162.34" fill="#00d200"/>
<polygon points="93.39,192.85 94.36,191.61 95.38,190.29 96.4,188.98 97.43,187.67 98.45,186.36 99.47,185.04 100.49,183.73 101.51,182.41 102.53,181.09 102.72,180.85 115.38,180.85 115.19,181.09 114.17,182.41 113.15,183.73 112.13,185.04 111.11,186.36 110.09,187.67 109.07,188.98 108.05,190.29 107.03,191.61 106.06,192.85" fill="#2c2cff"/>
<polygon points="112.02,168.85 112.75,167.9 113.77,166.58 114.79,165.26 115.82,163.93 116.84,162.61 117.86,161.28 118.88,159.96 119.9,158.63 120.92,157.31 121.27,156.85 133.89,156.85 133.54,157.31 132.52,158.63 131.5,159.96 130.48,161.28 129.46,162.61 128.44,163.93 127.42,165.26 126.4,166.58 125.38,167.9 124.65,168.85" fill="#2c2cff"/>
<polygon points="130.5,144.85 131.14,144.02 132.16,142.69 133.18,141.35 134.2,140.02 135.22,138.69 136.24,137.35 137.27,136.02 138.29,134.68 139.31,133.35 139.69,132.85 152.27,132.85 151.89,133.35 150.87,134.68 149.85,136.02 148.84,137.35 147.82,138.69 146.8,140.02 145.78,141.35 144.76,142.69 143.74,144.02 143.1,144.85" fill="#2c2cff"/>
<polygon points="148.85,120.85 149.52,119.97 150.54,118.63 151.57,117.29 152.59,115.95 153.61,114.61 154.63,113.26 155.65,111.92 156.67,110.58 157.69,109.23 157.98,108.85 170.54,108.85 170.25,109.23 169.23,110.58 168.21,111.92 167.19,113.26 166.17,114.61 165.15,115.95 164.13,117.29 163.11,118.63 162.09,119.97 161.42,120.85" fill="#2c2cff"/>
<polygon points="167.09,96.85 167.91,95.78 168.93,94.43 169.95,93.08 170.97,91.73 171.99,90.38 173.01,89.03 174.03,87.68 175.05,86.33 176.08,84.98 176.17,84.85 188.71,84.85 188.61,84.98 187.59,86.33 186.57,87.68 185.55,89.03 184.53,90.38 183.51,91.73 182.49,93.08 181.47,94.43 180.45,95.78 179.64,96.85" fill="#2c2cff"/>
<polygon points="185.24,72.85 185.27,72.81 186.29,71.46 187.31,70.1 188.33,68.75 189.35,67.39 190.37,66.04 191.39,64.68 192.41,63.33 193.43,61.97 194.28,60.85 206.79,60.85 205.95,61.97 204.93,63.33 203.91,64.68 202.89,66.04 201.87,67.39 200.85,68.75 199.83,70.1 198.81,71.46 197.79,72.81 197.76,72.85" fill="#2c2cff"/>
<polygon points="203.3,48.85 203.65,48.39 204.67,47.03 205.69,45.67 206.71,44.31 207.73,42.95 208.75,41.59 209.77,40.22 210.79,38.86 211.81,37.5 212.3,36.85 224.8,36.85 224.31,37.5 223.29,38.86 222.27,40.22 221.25,41.59 220.23,42.95 219.21,44.31 218.19,45.67 217.17,47.03 216.15,48.39 215.8,48.85" fill="#2c2cff"/>
<polygon points="221.29,24.85 222.02,23.87 223.04,22.51 224.07,21.14 225.09,19.78 226.11,18.41 227.13,17.04 228.15,15.68 229.17,14.31 230.19,12.95 230.26,12.85 242.74,12.85 242.67,12.95 241.65,14.31 240.63,15.68 239.61,17.04 238.59,18.41 237.57,19.78 236.55,21.14 235.53,22.51 234.51,23.87 233.78,24.85" fill="#2c2cff"/>
<polygon points="104.31,295.99 104.78,295.51 105.8,294.46 106.82,293.41 107.84,292.36 108.86,291.32 109.88,290.27 110.9,289.22 111.92,288.17 112.94,287.12 113.96,286.07 114.98,285.02 116,283.97 116,298.32 114.98,299.36 113.96,300.41 112.94,301.46 111.92,302.5 110.9,303.55 109.88,304.6 108.86,305.64 107.84,306.69 106.82,307.73 105.8,308.77 104.78,309.82 104.31,310.3" fill="#2c2cff"/>
<polygon points="127.64,271.95 128.25,271.32 129.27,270.26 130.29,269.21 131.31,268.15 132.33,267.09 133.35,266.03 134.38,264.98 135.4,263.92 136.42,262.86 137.44,261.8 131.51,267.94 132.28,267.14 146.17,267.14 145.4,267.94 137.44,276.2 136.42,277.26 135.4,278.32 134.38,279.37 133.35,280.43 132.33,281.49 131.31,282.54 130.29,283.59 129.27,284.65 128.25,285.7 127.64,286.33" fill="#2c2cff"/>
<polygon points="143.84,255.14 144.8,254.14 145.82,253.08 146.84,252.02 147.86,250.95 148.88,249.89 149.9,248.82 150.93,247.76 151.95,246.69 152.97,245.62 153.99,244.56 155.01,243.49 155.34,243.14 169.18,243.14 168.85,243.49 167.83,244.56 166.81,245.62 165.79,246.69 164.77,247.76 163.75,248.82 162.73,249.89 161.71,250.95 160.69,252.02 159.67,253.08 158.65,254.14 157.7,255.14" fill="#2c2cff"/>
<polygon points="166.81,231.14 167.27,230.66 168.29,229.59 169.31,228.52 170.34,227.44 171.36,226.37 172.38,225.3 173.4,224.23 174.42,223.15 175.44,222.08 176.46,221.01 177.49,219.93 178.24,219.14 192.03,219.14 191.28,219.93 190.26,221.01 189.24,222.08 188.22,223.15 187.2,224.23 186.18,225.3 185.16,226.37 184.14,227.44 183.12,228.52 182.1,229.59 181.08,230.66 180.62,231.14" fill="#2c2cff"/>
<polygon points="189.63,207.14 189.74,207.02 190.76,205.95 191.79,204.87 192.81,203.79 193.83,202.71 194.85,201.63 195.87,200.56 196.89,199.48 197.91,198.4 198.93,197.32 199.96,196.24 200.98,195.16 200.99,195.14 214.75,195.14 214.74,195.16 213.72,196.24 212.7,197.32 211.68,198.4 210.66,199.48 209.64,200.56 208.62,201.63 207.6,202.71 206.58,203.79 205.56,204.87 204.54,205.95 203.52,207.02 203.41,207.14" fill="#2c2cff"/>
<polygon points="212.33,183.14 213.23,182.18 214.25,181.1 215.27,180.02 216.3,178.93 217.32,177.85 218.34,176.77 219.36,175.68 220.38,174.6 221.4,173.51 222.42,172.43 223.44,171.34 223.63,171.14 237.36,171.14 237.17,171.34 236.15,172.43 235.13,173.51 234.11,174.6 233.09,175.68 232.07,176.77 231.05,177.85 230.03,178.93 229.01,180.02 227.99,181.1 226.97,182.18 226.07,183.14" fill="#2c2cff"/>
<polygon points="241.78,151.84 242.56,151.01 243.58,149.92 244.6,148.83 245.62,147.75 246.64,146.66 247.66,145.57 248.68,144.48 249.7,143.39 250.72,142.3 251.74,141.22 252.76,140.13 253.04,139.83 253.04,154.45 252.76,154.75 251.74,155.83 250.72,156.92 249.7,158.01 248.68,159.1 247.66,160.18 246.64,161.27 245.62,162.36 244.6,163.45 243.58,164.53 242.56,165.62 241.78,166.45" fill="#2c2cff"/>
<polygon points="257.43,135.14 258.16,134.37 259.18,133.28 260.2,132.19 261.22,131.1 262.24,130.01 263.26,128.92 264.28,127.82 265.3,126.73 266.33,125.64 267.35,124.55 268.37,123.46 268.66,123.14 282.36,123.14 282.06,123.46 281.04,124.55 280.02,125.64 279,126.73 277.98,127.82 276.96,128.92 275.94,130.01 274.92,131.1 273.9,132.19 272.88,133.28 271.86,134.37 271.13,135.14" fill="#2c2cff"/>
<polygon points="279.89,111.14 280.62,110.36 281.64,109.27 282.66,108.18 283.68,107.09 284.7,105.99 285.72,104.9 286.74,103.81 287.76,102.72 288.78,101.62 289.8,100.53 290.82,99.44 291.1,99.14 304.78,99.14 304.51,99.44 303.49,100.53 302.47,101.62 301.45,102.72 300.43,103.81 299.41,104.9 298.39,105.99 297.36,107.09 296.34,108.18 295.32,109.27 294.3,110.36 293.57,111.14" fill="#2c2cff"/>
<polygon points="302.31,87.14 303.07,86.32 304.09,85.23 305.11,84.14 306.13,83.04 307.16,81.95 308.18,80.86 309.2,79.76 310.22,78.67 311.24,77.58 312.26,76.48 313.28,75.39 313.51,75.14 327.19,75.14 326.96,75.39 325.94,76.48 324.92,77.58 323.9,78.67 322.88,79.76 321.86,80.86 320.83,81.95 319.81,83.04 318.79,84.14 317.77,85.23 316.75,86.32 315.99,87.14" fill="#2c2cff"/>
<polygon points="324.71,63.14 325.53,62.27 326.55,61.17 327.57,60.08 328.59,58.99 329.61,57.89 330.63,56.8 331.65,55.71 332.67,54.62 333.69,53.52 334.71,52.43 335.73,51.34 335.91,51.14 349.59,51.14 349.41,51.34 348.39,52.43 347.37,53.52 346.35,54.62 345.33,55.71 344.31,56.8 343.29,57.89 342.27,58.99 341.25,60.08 340.23,61.17 339.2,62.27 338.39,63.14" fill="#2c2cff"/>
<polygon points="347.12,39.14 347.98,38.22 349,37.13 350.02,36.04 351.04,34.94 352.06,33.85 353.08,32.76 354.1,31.67 355.12,30.58 356.14,29.48 357.16,28.39 358.18,27.3 358.33,27.14 372.01,27.14 371.87,27.3 370.85,28.39 369.83,29.48 368.8,30.58 367.78,31.67 366.76,32.76 365.74,33.85 364.72,34.94 363.7,36.04 362.68,37.13 361.66,38.22 360.8,39.14" fill="#2c2cff"/>
<polygon points="369.54,15.14 370.42,14.2 371.44,13.11 372.46,12.02 373.48,10.93 374.5,9.84 375.52,8.75 376.54,7.66 377.56,6.57 378.59,5.48 392.28,5.48 391.26,6.57 390.24,7.66 389.22,8.75 388.2,9.84 387.18,10.93 386.16,12.02 385.14,13.11 384.12,14.2 383.24,15.14" fill="#2c2cff"/>
<polygon points="175.39,293.15 176.22,292.41 177.24,291.49 178.26,290.58 179.28,289.66 180.3,288.75 181.32,287.83 182.34,286.91 183.36,286 184.38,285.08 185.4,284.16 186.42,283.25 187.39,282.38 187.39,295.82 186.42,296.69 185.4,297.6 184.38,298.52 183.36,299.43 182.34,300.35 181.32,301.26 180.3,302.18 179.28,303.09 178.26,304.01 177.24,304.92 176.22,305.84 175.39,306.58" fill="#2c2cff"/>
<polygon points="199.39,271.57 199.69,271.3 200.71,270.38 201.73,269.46 202.75,268.54 203.77,267.62 204.79,266.69 205.81,265.77 206.84,264.85 207.86,263.93 208.88,263.01 209.9,262.08 210.92,261.16 211.39,260.74 211.39,274.21 210.92,274.64 209.9,275.56 208.88,276.48 207.86,277.4 206.84,278.32 205.81,279.24 204.79,280.16 203.77,281.08 202.75,282 201.73,282.92 200.71,283.84 199.69,284.76 199.39,285.03" fill="#2c2cff"/>
<polygon points="223.39,249.87 224.19,249.15 225.21,248.23 226.23,247.3 227.25,246.38 228.27,245.45 229.29,244.53 230.31,243.6 231.33,242.67 232.35,241.75 233.37,240.82 234.39,239.9 235.39,238.99 235.39,252.49 234.39,253.4 233.37,254.32 232.35,255.25 231.33,256.17 230.31,257.1 229.29,258.02 228.27,258.95 227.25,259.87 226.23,260.8 225.21,261.72 224.19,262.65 223.39,263.37" fill="#2c2cff"/>
<polygon points="247.39,228.08 247.66,227.84 248.68,226.91 249.7,225.98 250.72,225.05 251.74,224.12 252.76,223.19 253.78,222.26 254.8,221.33 255.82,220.4 256.84,219.47 257.86,218.54 258.88,217.61 259.39,217.15 259.39,230.68 258.88,231.14 257.86,232.07 256.84,233 255.82,233.93 254.8,234.86 253.78,235.79 252.76,236.71 251.74,237.64 250.72,238.57 249.7,239.5 248.68,240.43 247.66,241.35 247.39,241.6" fill="#2c2cff"/>
<polygon points="271.39,206.21 272.15,205.51 273.17,204.58 274.19,203.65 275.21,202.72 276.23,201.79 277.25,200.85 278.28,199.92 279.3,198.99 280.32,198.06 281.34,197.13 282.36,196.19 283.38,195.26 283.39,195.25 283.39,208.79 283.38,208.81 282.36,209.74 281.34,210.67 280.32,211.6 279.3,212.53 278.28,213.46 277.25,214.4 276.23,215.33 275.21,216.26 274.19,217.19 273.17,218.12 272.15,219.05 271.39,219.75" fill="#2c2cff"/>
<polygon points="295.39,184.28 295.62,184.06 296.65,183.13 297.67,182.19 298.69,181.26 299.71,180.32 300.73,179.39 301.75,178.46 302.77,177.52 303.79,176.59 304.81,175.65 305.83,174.72 306.85,173.78 307.39,173.29 307.39,186.85 306.85,187.34 305.83,188.28 304.81,189.21 303.79,190.14 302.77,191.08 301.75,192.01 300.73,192.95 299.71,193.88 298.69,194.81 297.67,195.75 296.65,196.68 295.62,197.61 295.39,197.83" fill="#2c2cff"/>
<polygon points="319.39,162.3 320.12,161.63 321.14,160.69 322.16,159.76 323.18,158.82 324.2,157.89 325.22,156.95 326.24,156.01 327.26,155.08 328.28,154.14 329.3,153.21 330.32,152.27 331.34,151.33 331.39,151.29 331.39,164.86 331.34,164.9 330.32,165.84 329.3,166.77 328.28,167.71 327.26,168.64 326.24,169.58 325.22,170.52 324.2,171.45 323.18,172.39 322.16,173.32 321.14,174.26 320.12,175.19 319.39,175.86" fill="#2c2cff"/>
<polygon points="343.39,140.28 343.59,140.1 344.61,139.16 345.63,138.23 346.65,137.29 347.67,136.35 348.69,135.42 349.71,134.48 350.74,133.54 351.76,132.61 352.78,131.67 353.8,130.73 354.82,129.8 355.39,129.27 355.39,142.85 354.82,143.37 353.8,144.31 352.78,145.24 351.76,146.18 350.74,147.12 349.71,148.05 348.69,148.99 347.67,149.93 346.65,150.86 345.63,151.8 344.61,152.73 343.59,153.67 343.39,153.86" fill="#2c2cff"/>
<polygon points="367.39,118.26 368.08,117.62 369.11,116.68 370.13,115.74 371.15,114.81 372.17,113.87 373.19,112.93 374.21,112 375.23,111.06 376.25,110.12 377.27,109.19 378.29,108.25 379.31,107.31 379.39,107.24 379.39,120.82 379.31,120.89 378.29,121.82 377.27,122.76 376.25,123.7 375.23,124.64 374.21,125.57 373.19,126.51 372.17,127.45 371.15,128.38 370.13,129.32 369.11,130.26 368.08,131.19 367.39,131.83" fill="#2c2cff"/>
<polygon points="215.39,291.78 216.02,291.26 217.04,290.4 218.06,289.55 219.08,288.7 220.1,287.84 221.12,286.99 222.14,286.14 223.16,285.28 224.19,284.43 225.21,283.57 226.23,282.72 227.25,281.87 227.39,281.75 227.39,294.79 227.25,294.91 226.23,295.76 225.21,296.61 224.19,297.47 223.16,298.32 222.14,299.17 221.12,300.02 220.1,300.88 219.08,301.73 218.06,302.58 217.04,303.43 216.02,304.28 215.39,304.81" fill="#2c2cff"/>
<polygon points="239.39,271.68 239.49,271.59 240.51,270.74 241.53,269.88 242.56,269.02 243.58,268.16 244.6,267.31 245.62,266.45 246.64,265.59 247.66,264.73 248.68,263.87 249.7,263.01 250.72,262.15 251.39,261.59 251.39,274.66 250.72,275.22 249.7,276.08 248.68,276.94 247.66,277.8 246.64,278.65 245.62,279.51 244.6,280.37 243.58,281.22 242.56,282.08 241.53,282.94 240.51,283.79 239.49,284.65 239.39,284.74" fill="#2c2cff"/>
<polygon points="263.39,251.48 263.99,250.97 265.01,250.11 266.03,249.25 267.05,248.39 268.07,247.52 269.09,246.66 270.11,245.8 271.13,244.94 272.15,244.07 273.17,243.21 274.19,242.35 275.21,241.48 275.39,241.34 275.39,254.43 275.21,254.58 274.19,255.44 273.17,256.3 272.15,257.16 271.13,258.03 270.11,258.89 269.09,259.75 268.07,260.61 267.05,261.47 266.03,262.33 265.01,263.19 263.99,264.05 263.39,264.56" fill="#2c2cff"/>
<polygon points="287.39,231.17 287.46,231.11 288.48,230.25 289.5,229.38 290.52,228.52 291.54,227.65 292.56,226.78 293.58,225.92 294.6,225.05 295.62,224.19 296.65,223.32 297.67,222.45 298.69,221.59 299.39,220.99 299.39,234.11 298.69,234.7 297.67,235.57 296.65,236.44 295.62,237.3 294.6,238.17 293.58,239.03 292.56,239.9 291.54,240.76 290.52,241.63 289.5,242.49 288.48,243.36 287.46,244.22 287.39,244.28" fill="#2c2cff"/>
<polygon points="311.39,210.78 311.95,210.3 312.97,209.43 313.99,208.56 315.02,207.7 316.04,206.83 317.06,205.96 318.08,205.09 319.1,204.22 320.12,203.35 321.14,202.48 322.16,201.61 323.18,200.74 323.39,200.56 323.39,213.7 323.18,213.88 322.16,214.75 321.14,215.62 320.12,216.48 319.1,217.35 318.08,218.22 317.06,219.09 316.04,219.96 315.02,220.83 313.99,221.7 312.97,222.57 311.95,223.43 311.39,223.91" fill="#2c2cff"/>
<polygon points="335.39,190.31 335.43,190.28 336.45,189.41 337.47,188.54 338.49,187.66 339.51,186.79 340.53,185.92 341.55,185.05 342.57,184.17 343.59,183.3 344.61,182.43 345.63,181.55 346.65,180.68 347.39,180.05 347.39,193.21 346.65,193.84 345.63,194.71 344.61,195.59 343.59,196.46 342.57,197.33 341.55,198.2 340.53,199.07 339.51,199.95 338.49,200.82 337.47,201.69 336.45,202.56 335.43,203.43 335.39,203.46" fill="#2c2cff"/>
<polygon points="359.39,169.77 359.92,169.31 360.94,168.44 361.96,167.56 362.98,166.69 364,165.81 365.02,164.94 366.04,164.06 367.06,163.18 368.08,162.31 369.11,161.43 370.13,160.55 371.15,159.68 371.39,159.47 371.39,172.65 371.15,172.86 370.13,173.73 369.11,174.61 368.08,175.48 367.06,176.36 366.04,177.24 365.02,178.11 364,178.99 362.98,179.86 361.96,180.73 360.94,181.61 359.92,182.48 359.39,182.94" fill="#2c2cff"/>
<polygon points="383.39,149.15 383.39,149.15 384.41,148.27 385.43,147.39 385.43,160.58 384.41,161.46 383.39,162.34 383.39,162.34" fill="#2c2cff"/>
</g>
<rect x="117.4" y="28.5" width="269.2" height="251" fill="none" stroke="#000" stroke-width="2.3" stroke-linejoin="bevel"/>
<line x1="120.4" y1="312.5" x2="215.7" y2="312.5" stroke="#d00000" stroke-width="4.8"/>
<rect x="120.4" y="332.4" width="18.3" height="10" fill="#00d200"/>
<rect x="156.9" y="332.4" width="18.3" height="10" fill="#00d200"/>
<rect x="192.9" y="332.4" width="18.3" height="10" fill="#00d200"/>
<rect x="120.4" y="357.6" width="12.2" height="10.5" fill="#2c2cff"/>
<rect x="144.7" y="357.6" width="12.2" height="10.5" fill="#2c2cff"/>
<rect x="168.8" y="357.6" width="12.2" height="10.5" fill="#2c2cff"/>
<rect x="192.9" y="357.6" width="12.2" height="10.5" fill="#2c2cff"/>
<g font-family="Liberation Serif, serif" font-size="21.3" fill="#000"><text x="231.3" y="318.3">Ref [37]</text><text x="231.3" y="344">Modified AGM</text><text x="231.3" y="369.2">HAN Method</text></g>
<circle cx="587.8" cy="205.4" r="72.9" fill="none" stroke="#000" stroke-width="2.9"/>
<polygon points="512,200.9 512,204.3 428.5,180.4 428.5,177" fill="#000"/>
<polygon points="394.8,169.4 431.2,170.6 425.6,186.4" fill="#000" stroke="#000" stroke-width="1.6" stroke-linejoin="bevel"/>
<polygon points="414.2,261.7 414.2,266.2 546.5,398.4 546.5,393.9" fill="#000"/>
<polygon points="570.5,420.2 540.4,401.3 551.9,389.7" fill="#000" stroke="#000" stroke-width="1.8" stroke-linejoin="bevel"/>
<text x="410.6" y="453.5" font-family="Liberation Serif, serif" font-size="22">Case1, Case2, Case3, Case4</text>
</svg>
</body></html>
